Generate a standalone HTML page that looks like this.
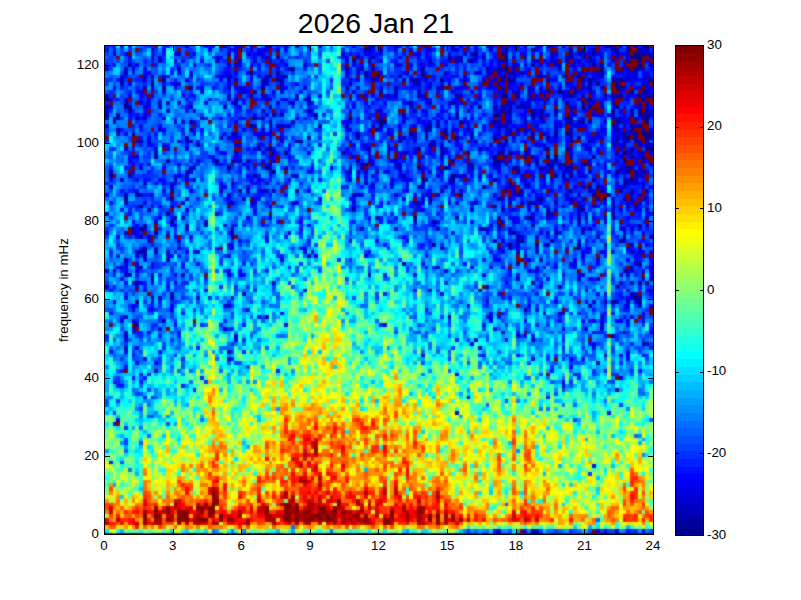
<!DOCTYPE html>
<html><head><meta charset="utf-8"><title>2026 Jan 21</title>
<style>
html,body{margin:0;padding:0;background:#fff}
body{width:801px;height:600px;position:relative;overflow:hidden;font-family:"Liberation Sans",sans-serif;color:#000}
.t{position:absolute;left:0;width:752px;top:6.5px;text-align:center;font-size:28.4px;line-height:32px;white-space:nowrap}
.box{position:absolute;border:1px solid #000;box-sizing:border-box}
.xl{position:absolute;top:538px;width:40px;text-align:center;font-size:13.3px;line-height:16px}
.yl{position:absolute;left:40px;width:59px;text-align:right;font-size:13.3px;line-height:16px}
.cl{position:absolute;left:707px;width:60px;text-align:left;font-size:13.3px;line-height:16px}
.tk{position:absolute;background:#000}
.ylab{position:absolute;left:64px;top:290px;width:0;height:0}
.ylab span{position:absolute;left:-100px;top:-8px;width:200px;height:16px;line-height:16px;text-align:center;font-size:13.35px;transform:rotate(-90deg);white-space:nowrap}
</style></head><body>
<div class="t">2026 Jan 21</div>
<svg style="position:absolute;left:105px;top:46px" width="548" height="488" shape-rendering="crispEdges"><defs><filter id="bl" x="0" y="0" width="100%" height="100%" color-interpolation-filters="sRGB"><feGaussianBlur stdDeviation="0.8" edgeMode="duplicate"/></filter></defs><g id="hm" transform="scale(3.80556,3.82031) translate(0,0)" fill="none" stroke-width="1"><path stroke="#00008f" d="M33 128h1M45 128h1M78 128h1M114 128h1M117 128h1M130 128h1M134 128h2M131 81h1M110 69h1M8 67h1M133 67h1M140 67h1M139 66h1M112 62h1M142 62h1M12 60h1M136 59h1M16 56h1M10 54h1M86 52h1M106 52h1M113 52h1M131 52h1M109 51h1M135 51h1M9 48h1M18 45h1M71 45h1M92 45h1M111 45h1M126 45h1M133 45h1M16 44h1M125 43h1M9 42h1M5 40h1M8 39h1M93 39h1M128 39h1M132 39h1M50 38h1M88 38h1M136 36h1M83 35h1M128 35h1M136 35h1M1 34h1M78 34h1M91 34h1M122 34h1M44 33h1M108 33h1M134 33h1M32 32h1M82 32h1M89 32h1M96 32h1M117 32h1M90 31h1M102 31h1M126 31h1M33 30h1M118 30h1M13 29h1M102 29h1M118 29h1M128 29h1M47 28h1M95 28h1M43 27h1M82 27h1M115 27h1M142 27h2M50 25h1M112 24h1M137 24h1M142 24h1M80 23h1M89 23h1M118 23h1M136 23h1M138 23h1M142 23h2M84 22h1M108 22h1M134 22h1M138 22h1M72 21h1M72 20h2M142 20h1M2 19h1M25 19h1M64 19h1M122 19h1M142 19h1M46 18h1M102 18h1M112 18h1M142 18h1M95 17h1M106 17h1M133 17h1M140 17h1M5 16h1M98 16h1M125 16h1M134 16h1M105 15h1M125 15h1M0 14h1M42 14h1M53 14h1M127 14h1M74 13h1M92 13h1M105 13h1M135 13h1M119 12h1M123 12h1M15 11h1M22 11h1M41 11h1M134 11h1M12 10h1M127 10h1M129 10h1M88 9h1M106 9h1M133 9h1M135 9h1M120 8h1M38 7h1M45 7h1M68 7h1M49 6h1M105 6h1M130 6h1M128 5h1M130 5h1M140 5h1M69 4h1M90 3h1M105 3h1M122 3h1M127 3h1M139 2h2M112 1h1M42 0h2M50 0h1M91 0h1M120 0h1M133 0h1M142 0h1"/><path stroke="#00009f" d="M4 128h1M7 128h1M22 128h2M42 128h1M53 128h1M67 128h1M83 128h1M112 128h1M120 128h1M112 127h1M95 92h1M90 71h1M127 68h1M131 67h1M14 66h1M17 66h1M85 64h1M119 63h1M8 62h1M140 62h1M9 58h1M108 57h1M9 54h1M88 53h1M116 52h1M124 52h1M136 50h1M143 50h1M13 49h1M33 49h1M107 49h1M118 49h1M99 48h1M125 48h1M10 47h1M26 47h1M140 47h1M81 45h1M116 44h1M11 43h1M65 43h1M116 43h1M139 42h1M33 41h1M111 41h1M114 40h1M141 40h1M17 38h1M30 38h1M35 38h1M122 38h1M130 38h1M1 37h1M129 37h1M33 36h1M106 36h1M91 35h1M138 35h1M118 34h1M120 34h1M137 33h1M42 32h1M77 32h1M121 32h1M138 32h1M67 31h2M117 31h1M29 30h1M102 30h2M113 30h1M136 30h1M116 29h1M141 29h1M106 28h1M136 28h2M69 27h1M88 27h1M116 27h1M121 27h1M24 26h1M85 26h1M136 26h1M51 25h1M105 25h1M142 25h1M53 24h1M66 24h1M84 24h1M92 24h1M124 24h1M136 24h1M7 23h1M66 23h1M121 23h1M22 22h1M38 21h1M85 21h1M133 21h1M22 20h1M110 20h1M125 20h1M131 20h1M135 20h1M41 19h1M141 19h1M0 18h1M3 18h1M55 18h1M114 18h1M140 18h1M6 17h1M104 17h1M112 17h1M114 17h1M118 17h1M6 16h1M31 16h1M80 16h1M102 16h1M108 16h1M5 15h1M91 15h1M121 15h1M133 15h1M141 14h1M38 13h1M104 13h1M122 13h1M140 13h1M72 12h1M138 12h1M141 12h1M76 11h1M135 11h1M82 10h1M45 9h1M70 9h1M81 9h1M127 9h1M143 9h1M12 8h1M47 8h1M71 8h1M83 8h1M104 8h1M124 8h1M130 7h1M5 6h1M83 6h1M139 6h1M112 5h1M65 4h1M95 4h2M140 4h1M12 3h1M70 3h1M138 3h3M97 2h1M104 2h2M128 2h1M142 2h1M68 1h1M105 1h1M122 1h1M125 1h1M70 0h1M100 0h1M110 0h1M113 0h1M132 0h1M141 0h1"/><path stroke="#0000af" d="M30 128h1M66 128h1M100 128h1M111 128h1M119 128h1M136 128h1M139 128h1M113 127h1M3 98h1M13 85h1M32 80h1M5 79h1M141 78h2M108 76h1M136 75h1M8 73h1M15 72h1M42 71h1M33 66h1M140 66h1M17 65h1M36 65h1M98 64h1M126 64h1M134 63h1M135 62h1M138 62h1M87 58h1M138 58h1M143 58h1M78 57h1M140 57h1M5 56h1M114 56h1M53 55h1M13 54h1M117 51h1M9 50h1M33 50h1M108 50h1M129 50h1M10 48h1M67 48h1M87 48h1M103 47h1M112 47h1M17 46h1M86 46h1M124 45h1M104 43h1M142 43h1M102 42h1M124 42h1M133 42h1M137 42h1M106 41h1M112 41h1M17 40h1M85 40h1M103 40h1M122 40h1M131 40h1M5 39h1M32 39h1M65 39h1M108 39h1M99 37h1M83 36h1M137 36h1M18 35h1M102 35h1M6 34h1M1 33h1M7 33h1M64 33h1M116 33h1M141 33h1M43 32h1M64 32h1M107 32h1M114 32h1M113 31h1M119 31h2M127 31h1M16 30h1M35 30h1M66 30h1M69 30h1M138 29h1M13 28h1M34 28h1M62 28h1M88 28h1M104 28h1M40 27h1M98 27h1M138 27h1M133 26h1M142 26h1M9 25h1M137 25h1M139 25h1M21 24h1M30 24h1M78 24h1M81 24h1M102 24h1M116 24h1M96 23h1M112 23h1M122 23h1M139 23h1M141 23h1M3 22h1M141 22h1M63 21h1M87 21h1M105 21h1M138 21h1M140 21h1M2 20h1M43 20h1M49 20h1M93 20h1M102 20h1M106 20h1M122 20h1M124 20h1M127 20h1M134 20h1M8 19h1M10 19h1M72 19h1M112 19h1M44 18h1M92 18h1M103 18h1M133 18h1M138 18h1M141 18h1M41 17h1M53 17h1M81 17h1M138 17h1M142 17h1M43 16h1M111 16h1M127 16h1M130 16h1M34 15h1M34 14h1M84 14h1M0 13h1M82 13h1M93 13h1M108 13h1M131 13h1M142 13h1M39 12h1M111 12h1M114 12h1M116 12h1M142 12h1M10 11h1M63 11h1M88 11h1M127 11h1M4 10h1M46 10h1M64 10h1M134 10h1M12 9h1M15 9h1M41 9h1M107 9h1M125 9h1M68 8h1M77 8h1M114 8h1M130 8h1M79 7h1M83 7h1M107 7h1M125 7h1M100 6h1M104 6h1M6 5h1M104 4h2M42 3h1M45 3h1M66 3h1M93 3h1M96 2h1M118 2h1M69 1h1M134 1h1M137 1h1M31 0h1M69 0h1M76 0h1"/><path stroke="#0000bf" d="M0 128h1M25 128h1M44 128h1M60 128h1M76 128h1M79 128h1M131 128h1M103 127h1M131 127h1M92 96h1M134 90h1M129 83h1M83 81h1M135 81h1M98 79h1M5 76h1M133 76h1M5 75h1M7 75h1M126 74h1M130 73h1M5 71h1M141 70h1M137 67h1M24 66h1M138 66h1M138 65h1M0 63h1M100 63h1M7 62h1M12 61h1M124 61h1M129 61h1M143 61h1M5 60h2M69 60h1M99 60h1M2 59h1M137 59h1M141 59h1M139 57h1M46 56h1M110 55h1M8 54h1M113 54h1M13 53h1M106 53h1M124 53h1M138 52h1M102 51h1M108 51h1M5 49h1M138 48h1M21 47h1M142 47h1M26 46h1M124 46h1M131 46h1M20 45h1M103 45h1M29 44h1M133 44h1M5 41h1M20 41h1M38 41h1M81 41h1M118 41h1M78 40h1M125 40h1M129 40h1M138 40h1M84 39h1M109 39h1M121 39h1M37 38h1M41 38h1M109 38h1M135 38h1M138 38h1M106 37h1M125 37h1M127 37h1M10 36h1M68 36h1M134 36h1M139 36h1M4 35h1M64 35h1M75 35h1M90 35h1M39 34h1M49 34h1M98 34h1M139 34h2M21 33h1M43 33h1M66 33h1M71 33h1M122 33h1M135 33h1M139 33h1M22 32h2M67 32h1M95 32h1M122 32h1M76 31h1M96 31h1M116 31h1M125 31h1M37 30h1M134 30h1M69 29h1M110 29h1M74 28h1M103 28h1M134 28h1M138 28h1M140 28h1M42 27h1M100 27h1M40 26h1M74 26h1M113 26h1M22 25h1M77 25h1M86 25h1M90 25h1M97 25h1M134 25h1M140 25h1M122 24h1M134 24h1M139 24h1M3 23h1M33 23h2M74 23h1M105 23h1M115 23h1M71 22h1M85 22h1M105 22h2M110 22h1M39 21h1M43 21h1M45 21h1M84 21h1M0 19h1M69 19h1M114 19h1M121 19h1M135 19h1M78 18h1M143 18h1M0 16h1M104 16h1M106 16h1M109 16h1M140 16h1M109 15h1M140 15h1M142 15h1M32 14h1M111 14h2M32 13h1M41 13h1M125 13h1M133 13h2M143 13h1M108 12h1M52 11h1M87 11h1M92 11h1M104 11h1M111 11h2M119 11h1M136 11h1M125 10h1M4 9h1M42 9h1M46 9h1M80 9h1M84 9h1M104 9h1M116 9h1M128 9h1M137 9h1M142 9h1M4 8h1M32 8h1M105 8h1M121 8h1M89 7h1M19 6h1M48 6h1M63 6h1M66 6h1M70 6h1M103 6h1M119 6h1M141 6h1M32 5h1M105 5h1M110 5h1M14 4h1M93 4h1M127 4h1M97 3h1M99 3h1M110 3h1M125 3h1M143 3h1M19 2h1M62 2h1M125 2h1M72 1h1M80 1h1M133 1h1M140 1h1M21 0h1M56 0h1M101 0h1M104 0h1M116 0h1M131 0h1M139 0h1"/><path stroke="#0000cf" d="M9 128h1M15 128h1M34 128h1M37 128h1M40 128h1M49 128h1M63 128h1M80 128h1M99 128h1M113 128h1M128 128h1M129 127h1M120 89h1M123 86h1M32 82h1M97 77h1M112 77h1M34 76h1M104 75h1M14 74h1M31 74h1M130 74h1M4 72h1M100 71h1M115 70h1M119 70h2M31 68h2M137 68h1M140 68h1M2 67h1M128 67h1M134 67h1M5 66h1M12 66h1M88 65h1M131 65h1M114 63h1M44 62h1M108 61h1M141 61h1M20 60h1M125 60h1M135 60h1M113 59h1M8 58h1M113 58h1M118 58h1M12 57h1M123 57h1M10 56h1M111 56h1M16 54h1M54 54h1M108 54h1M130 54h1M138 54h1M140 54h2M10 53h1M103 53h1M113 53h1M137 53h1M32 52h1M108 52h1M79 51h1M11 50h1M7 49h1M116 49h1M136 49h1M7 48h1M76 48h1M127 48h1M136 48h1M31 47h1M101 47h1M81 46h1M112 45h1M116 45h1M131 45h1M117 44h1M124 44h1M96 43h1M133 43h1M12 42h1M43 42h1M65 41h1M82 41h1M90 41h1M109 41h1M131 41h1M21 40h1M36 40h1M83 40h1M113 40h1M136 40h1M9 39h1M67 39h1M102 39h1M42 38h1M44 38h1M93 38h1M127 38h1M142 38h1M17 37h1M37 37h1M82 37h1M89 37h1M136 37h1M42 36h1M70 36h1M91 36h1M138 36h1M141 36h1M23 35h1M40 35h1M121 35h1M139 35h1M87 34h1M92 34h3M115 34h1M126 34h1M22 33h1M68 33h1M124 33h1M127 33h1M142 33h1M9 32h1M47 32h1M108 32h1M136 32h2M19 31h1M43 31h1M111 31h1M143 31h1M28 30h1M91 30h1M104 30h1M141 30h1M8 29h1M88 29h1M112 29h1M122 29h1M135 29h1M44 28h1M69 28h1M78 28h1M110 28h1M141 28h1M5 27h1M74 27h1M126 27h2M86 26h1M115 26h1M140 26h1M8 25h1M19 25h1M21 25h1M46 25h1M117 25h1M127 25h1M133 25h1M40 24h1M77 24h1M96 24h1M143 24h1M84 23h1M106 23h1M135 23h1M137 23h1M89 22h1M95 22h1M122 22h1M131 22h1M46 21h1M56 21h1M95 21h1M118 21h1M123 21h1M134 21h1M136 21h1M139 21h1M18 20h1M62 20h1M103 20h1M121 20h1M3 19h1M39 19h1M90 19h1M92 19h1M110 19h1M133 19h1M23 17h1M72 17h1M103 17h1M122 17h1M128 17h1M14 16h1M22 16h1M110 16h1M122 16h1M142 16h1M14 15h1M16 15h1M49 15h1M53 15h1M79 15h2M85 15h1M115 15h1M118 15h1M5 14h1M50 14h1M76 13h1M121 13h1M36 12h1M76 12h1M82 12h1M91 12h1M104 12h1M120 12h1M127 12h1M12 11h1M32 11h1M36 11h1M46 11h1M66 11h1M123 11h1M130 11h1M41 10h2M81 10h1M103 10h1M141 10h1M21 9h1M32 9h1M34 9h1M78 9h1M134 9h1M16 8h1M42 8h1M63 8h1M91 8h1M100 8h1M139 8h1M142 8h1M5 7h1M63 7h1M101 7h1M106 7h1M109 7h1M129 7h1M0 6h1M107 6h1M140 6h1M35 5h1M52 5h1M77 5h1M119 5h1M122 5h1M18 4h1M29 4h1M35 4h1M72 4h1M85 4h1M92 4h1M115 4h1M118 4h1M121 4h1M124 4h1M14 3h1M63 3h1M92 3h1M117 3h1M121 3h1M137 3h1M2 2h1M23 2h1M32 2h1M40 2h1M122 2h1M134 2h1M137 2h1M141 2h1M143 2h1M12 1h1M101 1h1M128 1h1M142 1h1M38 0h1M88 0h1"/><path stroke="#0000df" d="M13 128h1M46 128h1M55 128h1M75 128h1M92 128h1M95 128h1M103 128h1M105 128h1M121 128h1M124 128h1M132 128h1M138 128h1M142 128h1M134 127h1M135 87h1M137 81h1M5 80h1M128 79h1M5 77h1M34 77h1M11 75h1M120 74h1M47 73h1M7 72h1M110 72h1M128 72h1M137 72h1M101 71h1M130 71h1M138 71h1M20 70h1M7 69h1M84 69h1M113 69h1M7 68h1M139 67h1M26 64h1M52 64h1M143 64h1M8 63h1M18 62h1M120 60h1M0 59h1M8 59h1M89 59h1M4 58h1M123 58h1M5 57h1M103 56h1M139 56h1M8 55h1M10 55h1M68 55h1M125 55h1M24 54h1M104 54h1M19 53h1M33 53h1M52 53h1M11 51h1M136 51h1M22 50h1M109 50h1M48 49h1M106 49h1M114 49h1M125 49h1M21 48h1M33 48h1M100 48h1M103 48h1M106 48h1M135 48h1M140 48h1M120 47h1M137 47h1M13 46h1M107 46h1M106 45h1M128 45h1M142 45h1M0 44h1M143 44h1M21 43h1M82 43h1M107 43h1M111 43h1M124 43h1M125 42h1M39 41h1M49 41h1M85 41h1M97 41h1M114 41h1M133 41h1M142 41h1M133 40h1M12 39h1M66 39h1M76 39h1M138 39h1M140 39h1M105 38h1M70 37h1M79 37h1M83 37h1M110 37h2M123 37h1M130 37h1M143 37h1M18 36h1M39 36h1M115 36h1M21 35h1M38 35h1M80 35h1M109 35h2M117 35h1M120 35h1M21 34h1M125 34h1M141 34h1M83 33h1M88 33h1M120 33h1M140 33h1M37 32h1M59 32h1M103 32h1M131 32h1M135 32h1M140 32h1M11 31h1M36 31h1M70 31h1M77 31h1M103 31h1M122 31h1M136 31h1M24 30h1M127 30h1M43 29h1M140 29h1M79 28h1M85 28h1M111 28h1M122 28h1M21 27h1M39 27h1M93 27h1M122 27h1M135 27h1M34 26h1M68 26h1M88 26h1M104 26h1M126 26h1M135 26h1M143 26h1M11 25h1M64 25h1M122 25h1M32 24h1M34 24h1M46 24h1M107 24h1M118 24h1M128 24h1M41 23h1M43 23h1M81 23h1M103 23h1M110 23h1M131 23h1M14 22h1M41 22h1M63 22h1M91 22h1M99 22h1M103 22h1M111 22h1M118 22h1M130 22h1M0 21h1M9 21h1M48 21h1M70 21h1M102 21h3M113 21h1M87 20h1M40 19h1M82 19h1M125 19h1M134 19h1M136 19h1M139 19h1M10 18h1M105 18h2M118 18h1M129 18h2M132 18h1M136 18h1M16 17h1M71 17h1M84 17h1M102 17h1M126 17h1M135 17h1M10 16h1M92 16h1M11 15h1M26 15h1M48 15h1M90 15h1M106 15h1M111 15h1M127 15h2M1 14h1M52 14h1M64 14h1M71 14h1M116 14h1M120 14h1M50 13h1M53 13h1M56 13h1M83 13h1M120 13h1M123 13h1M137 13h1M141 13h1M15 12h1M25 12h1M103 12h1M121 12h1M85 11h1M106 11h1M125 11h1M140 11h1M142 11h2M18 10h1M88 10h1M90 10h1M101 10h1M106 10h1M109 10h1M121 10h1M10 9h1M64 9h1M94 9h1M101 9h1M118 9h1M10 8h1M15 8h1M22 8h1M30 8h1M33 8h1M43 8h1M46 8h1M115 8h1M129 8h1M137 8h1M11 7h1M72 7h1M97 7h2M103 7h1M135 7h1M138 7h2M142 7h1M7 6h1M67 6h1M102 6h1M123 6h1M136 6h2M23 5h1M76 5h1M83 5h1M85 5h1M107 5h2M123 5h1M125 5h1M136 5h1M143 5h1M39 4h1M63 4h1M90 4h1M103 4h1M112 4h2M117 4h1M133 4h1M137 4h1M142 4h1M41 3h1M107 3h1M130 3h1M5 2h1M12 2h1M18 2h1M37 2h1M64 2h1M72 2h1M84 2h1M94 2h1M109 2h1M124 2h1M127 2h1M135 2h1M45 1h1M76 1h1M92 1h1M97 1h1M141 1h1M26 0h1M28 0h1M79 0h1M84 0h1M114 0h1M117 0h1M137 0h1"/><path stroke="#0000ef" d="M6 128h1M21 128h1M54 128h1M58 128h1M71 128h1M96 128h1M108 128h1M127 128h1M143 128h1M141 127h1M132 96h1M11 86h1M92 86h1M122 84h1M13 83h1M112 82h1M122 82h1M125 82h1M137 82h1M99 81h1M96 78h1M105 77h1M110 76h1M128 75h1M7 74h1M102 74h1M125 72h1M135 72h1M40 71h1M46 70h1M101 70h1M95 68h1M12 67h1M139 65h1M1 64h1M10 64h1M137 64h1M142 64h1M16 63h1M5 62h1M9 62h1M12 62h1M127 61h1M18 60h1M32 60h1M124 60h1M143 60h1M5 59h1M32 59h1M111 59h1M143 59h1M5 58h1M12 58h1M104 58h1M8 57h1M24 57h1M143 57h1M102 56h1M129 56h1M16 55h1M55 55h1M139 55h1M52 54h1M133 54h1M143 54h1M51 53h1M108 53h1M121 53h1M140 53h1M142 52h1M19 51h1M42 51h1M64 51h1M104 51h1M124 51h1M3 50h1M18 50h1M113 50h1M141 49h1M98 48h1M118 48h1M17 47h2M33 47h1M7 46h1M45 46h1M104 46h1M37 45h1M107 45h1M110 45h1M137 45h1M112 44h1M142 44h1M39 43h1M83 43h1M113 43h1M118 43h1M135 43h1M139 43h2M17 42h1M82 42h1M120 42h1M128 42h2M1 41h1M10 41h1M32 41h1M50 41h1M72 41h1M74 41h1M83 41h1M92 41h1M96 41h1M122 41h1M124 41h1M137 41h1M56 40h1M104 40h1M142 40h1M87 39h1M124 39h1M8 38h1M22 38h1M40 38h1M53 38h1M91 38h1M107 38h1M112 38h1M117 38h1M128 38h1M131 38h1M30 37h2M33 37h1M107 37h1M135 37h1M141 37h1M13 36h1M17 36h1M30 36h1M75 36h1M79 36h1M110 36h1M8 35h1M68 35h1M115 35h1M137 35h1M18 34h2M50 34h1M68 34h1M70 34h1M96 34h1M109 34h1M124 34h1M136 34h1M53 33h1M63 33h1M74 33h1M85 33h1M95 33h1M103 33h1M114 33h1M132 33h1M136 33h1M5 32h1M83 32h1M90 32h1M115 32h2M119 32h1M7 31h1M29 31h1M95 31h1M129 31h1M131 31h1M6 30h1M34 30h1M44 30h1M75 30h2M117 30h1M139 30h1M28 29h1M48 29h1M105 29h1M30 28h1M41 28h1M53 28h1M81 28h1M89 28h1M16 27h1M29 27h1M44 27h1M68 27h1M81 27h1M89 27h1M104 27h1M15 26h1M48 26h1M101 26h1M105 26h1M121 26h1M125 26h1M134 26h1M141 26h1M81 25h1M92 25h1M128 25h1M136 25h1M11 24h1M130 24h1M135 24h1M23 23h1M40 23h1M94 23h1M129 23h1M43 22h1M64 22h1M69 22h1M74 22h1M143 22h1M47 21h1M77 21h1M119 21h1M122 21h1M20 20h1M23 20h1M64 20h1M82 20h2M85 20h1M94 20h2M118 20h1M30 19h1M50 19h1M78 19h2M94 19h1M106 19h1M137 19h1M42 18h1M72 18h2M84 18h1M87 18h1M109 18h1M116 18h1M122 18h1M0 17h1M92 17h1M105 17h1M1 16h1M65 16h1M105 16h1M123 16h1M9 15h1M45 15h1M54 15h1M73 15h1M93 15h1M97 15h1M107 15h1M130 15h1M11 14h1M47 14h1M92 14h1M98 14h1M124 14h1M126 14h1M133 14h1M137 14h1M6 13h1M23 13h1M68 13h1M75 13h1M111 13h1M138 13h2M9 12h1M35 12h1M44 12h1M46 12h1M96 12h1M107 12h1M112 12h1M135 12h1M2 11h1M18 11h1M25 11h1M28 11h1M34 11h2M72 11h1M93 11h1M122 11h1M126 11h1M6 10h1M19 10h1M85 10h1M107 10h1M138 10h1M142 10h1M38 9h1M66 9h1M82 9h1M99 9h1M102 9h1M117 9h1M136 9h1M140 9h2M31 8h1M38 8h1M40 8h1M75 8h1M94 8h1M136 8h1M141 8h1M22 7h1M32 7h1M66 7h1M78 7h1M100 7h1M126 7h1M128 7h1M134 7h1M137 7h1M101 6h1M111 6h1M2 5h1M8 5h1M34 5h1M38 5h1M47 5h1M65 5h1M67 5h1M80 5h1M82 5h1M114 5h1M118 5h1M20 4h1M46 4h1M123 4h1M6 3h1M29 3h2M34 3h1M39 3h1M62 3h1M82 3h1M134 3h1M68 2h2M82 2h1M90 2h1M114 2h1M117 2h1M126 2h1M130 2h1M133 2h1M136 2h1M34 1h1M38 1h1M42 1h1M47 1h1M84 1h1M91 1h1M4 0h1M47 0h1M93 0h1M97 0h1"/><path stroke="#0000ff" d="M3 128h1M12 128h1M14 128h1M32 128h1M39 128h1M43 128h1M56 128h1M68 128h1M74 128h1M89 128h2M97 128h1M104 128h1M109 128h1M102 127h1M110 127h1M137 127h1M128 110h1M2 99h1M23 90h1M2 88h1M120 88h1M7 87h1M117 85h1M8 83h1M10 82h1M7 81h1M141 81h1M1 80h1M14 80h1M137 80h1M8 79h1M128 78h1M143 75h1M18 73h1M73 73h1M137 73h1M101 72h1M119 72h1M130 72h1M134 72h1M141 72h1M103 71h1M131 70h1M11 69h1M17 69h1M136 69h1M17 68h1M111 68h1M143 68h1M100 67h1M118 67h1M126 67h1M137 66h1M103 65h1M129 65h1M143 65h1M105 62h1M4 61h1M35 60h2M81 60h1M108 60h1M137 60h1M35 59h1M138 59h1M3 58h1M20 58h1M84 58h1M96 58h1M101 58h1M115 58h1M20 57h1M83 57h1M94 57h1M122 57h1M129 57h1M123 56h1M125 56h1M137 56h1M143 56h1M17 55h1M32 55h1M84 55h1M102 55h1M131 55h1M21 54h1M23 54h1M69 54h1M125 54h2M131 54h1M137 54h1M126 53h2M33 52h1M115 52h1M71 51h1M126 51h1M8 50h1M78 50h1M8 49h1M32 49h1M100 49h1M119 49h1M133 49h1M51 48h1M8 47h1M53 47h1M86 47h1M124 47h1M128 47h1M139 47h1M51 46h1M72 46h1M87 46h1M96 46h1M108 46h1M112 46h1M14 45h1M43 45h1M69 45h1M108 45h1M117 45h1M126 44h1M131 43h1M65 42h1M104 42h1M111 42h1M115 42h1M113 41h1M138 41h1M140 41h1M32 40h1M39 40h1M64 40h1M106 40h1M121 40h1M123 40h1M0 39h1M81 39h1M85 39h1M107 39h1M113 39h2M79 38h1M85 38h1M75 37h1M105 37h1M115 37h1M119 37h1M134 37h1M15 36h1M90 36h1M111 36h1M125 36h1M140 36h1M1 35h1M14 35h1M48 35h1M78 35h2M84 35h1M37 34h1M43 34h1M66 34h1M77 34h1M101 34h1M105 34h1M112 34h1M131 34h1M134 34h1M73 33h1M77 33h1M79 33h1M110 33h2M115 33h1M121 33h1M15 32h1M54 32h1M76 32h1M87 32h1M102 32h1M9 31h1M30 31h1M105 31h1M139 31h2M41 30h1M70 30h1M82 30h1M94 30h1M106 30h1M142 30h1M6 29h2M34 29h1M44 29h1M65 29h1M77 29h1M83 29h1M90 29h1M113 29h1M31 28h1M101 28h1M107 28h2M129 28h1M143 28h1M13 27h1M48 27h1M63 27h1M75 27h2M85 27h1M111 27h1M129 27h1M11 26h2M35 26h1M65 26h1M92 26h1M103 26h1M114 26h1M43 25h1M109 25h2M118 25h1M121 25h1M33 24h1M35 24h1M43 24h1M63 24h1M88 24h1M127 24h1M129 24h1M133 24h1M5 23h1M39 23h1M42 23h1M75 23h1M102 23h1M108 23h1M133 23h2M15 22h1M36 22h1M72 22h1M77 22h1M92 22h1M133 22h1M135 22h1M14 21h1M81 21h1M107 21h1M109 21h2M124 21h3M34 20h1M63 20h1M78 20h1M89 20h1M101 20h1M105 20h1M114 20h2M119 20h1M136 20h2M9 19h1M15 19h1M26 19h1M35 19h2M52 19h1M88 19h1M96 19h1M105 19h1M39 18h1M54 18h1M99 18h1M110 18h1M113 18h1M123 18h1M128 18h1M54 17h1M64 17h1M83 17h1M88 17h1M110 17h1M113 17h1M125 17h1M143 17h1M11 16h1M35 16h1M69 16h1M88 16h1M96 16h1M133 16h1M136 16h1M139 16h1M19 15h1M33 15h1M65 15h1M68 15h1M70 15h1M84 15h1M92 15h1M102 15h1M110 15h1M3 14h1M9 14h1M43 14h1M46 14h1M95 14h1M113 14h2M131 14h1M9 13h1M12 13h1M20 13h1M42 13h1M66 13h1M70 13h1M73 13h1M98 13h1M113 13h1M115 13h1M37 12h1M65 12h1M115 12h1M124 12h1M128 12h1M143 12h1M47 11h1M84 11h1M94 11h1M101 11h2M108 11h1M114 11h1M139 11h1M32 10h1M50 10h1M104 10h1M122 10h1M18 9h1M30 9h1M71 9h1M90 9h1M95 9h1M138 9h2M29 8h1M45 8h1M92 8h1M103 8h1M106 8h2M113 8h1M128 8h1M133 8h1M138 8h1M10 7h1M19 7h1M31 7h1M34 7h1M37 7h1M104 7h1M108 7h1M110 7h1M114 7h1M124 7h1M141 7h1M10 6h1M45 6h1M143 6h1M89 5h1M101 5h1M103 5h1M116 5h1M132 5h1M25 4h1M43 4h1M97 4h1M101 4h1M126 4h1M128 4h1M77 3h1M84 3h2M102 3h1M34 2h1M39 2h1M41 2h1M81 2h1M110 2h1M129 2h1M2 1h1M15 1h1M27 1h1M32 1h1M40 1h2M70 1h1M85 1h1M110 1h1M113 1h1M2 0h1M6 0h1M34 0h2M53 0h1M65 0h1M77 0h1M107 0h1M135 0h1"/><path stroke="#0010ff" d="M5 128h1M28 128h1M38 128h1M51 128h1M65 128h1M72 128h1M86 128h1M106 128h1M122 128h1M1 109h1M10 92h1M116 92h1M3 89h2M9 88h1M10 87h1M9 86h1M45 85h1M131 85h1M140 85h1M5 84h1M33 82h1M108 81h1M36 80h1M24 79h1M120 79h1M143 79h1M127 78h1M138 78h1M92 77h1M120 77h1M112 76h1M9 75h1M19 75h1M108 75h1M129 75h2M143 74h1M36 73h1M99 73h1M113 73h1M8 72h1M127 72h1M136 71h1M141 71h1M1 70h1M104 70h1M124 70h1M133 70h1M12 69h1M37 69h1M128 69h1M137 69h1M8 68h1M12 68h1M136 68h1M27 66h1M106 66h1M135 66h1M113 65h1M135 65h1M81 64h1M2 63h1M140 63h1M10 62h1M114 62h1M116 61h1M128 61h1M2 60h1M8 60h1M14 60h1M73 60h1M106 60h1M106 59h1M112 59h1M48 58h1M128 58h1M142 58h1M36 57h1M118 57h1M140 56h1M3 55h1M19 55h1M140 55h1M1 54h1M101 54h1M103 54h1M139 54h1M9 53h1M29 53h1M32 53h1M74 53h1M104 53h1M131 53h1M138 53h1M73 52h1M83 52h1M105 52h1M126 52h1M35 51h1M53 51h1M141 51h1M42 50h1M47 50h1M103 50h1M116 50h1M118 50h1M0 49h1M16 49h1M91 49h1M108 49h1M129 49h1M138 49h1M8 48h1M142 48h1M41 47h1M138 47h1M74 46h1M122 46h1M126 46h1M17 45h1M51 45h1M72 45h1M76 45h1M120 45h1M122 45h1M6 44h1M39 44h1M75 44h1M87 44h1M122 44h1M140 44h1M106 43h1M137 43h1M8 42h1M14 42h1M38 42h2M71 42h2M80 42h1M116 42h1M118 42h1M140 42h1M42 41h1M80 41h1M125 41h1M135 41h1M40 40h1M65 40h1M107 40h1M115 40h1M118 40h1M139 40h1M10 39h2M40 39h1M43 39h1M47 39h1M70 39h1M83 39h1M91 39h1M111 39h1M116 39h1M136 39h1M142 39h1M4 38h1M7 38h1M15 38h1M78 38h1M121 38h1M139 38h1M46 37h1M69 37h1M91 37h1M114 37h1M131 37h1M137 37h1M140 37h1M38 36h1M40 36h1M47 36h1M103 36h1M117 36h1M120 36h1M129 36h1M10 35h2M15 35h1M41 35h1M56 35h1M71 35h1M95 35h1M98 35h1M101 35h1M103 35h1M112 35h1M114 35h1M123 35h1M141 35h1M38 34h1M40 34h1M63 34h2M128 34h1M133 34h1M11 33h1M35 33h1M96 33h1M112 33h1M125 33h1M131 33h1M39 32h1M71 32h1M84 32h1M98 32h1M120 32h1M124 32h2M42 31h1M54 31h1M88 31h1M101 31h1M134 31h2M78 30h1M88 30h1M27 29h1M35 29h1M80 29h1M86 29h1M101 29h1M134 29h1M137 29h1M139 29h1M63 28h2M77 28h1M84 28h1M86 28h1M92 28h1M127 28h1M139 28h1M37 27h1M99 27h1M103 27h1M133 27h1M137 27h1M139 27h1M16 26h1M21 26h1M41 26h1M45 26h1M56 26h1M67 26h1M69 26h1M93 26h1M127 26h1M130 26h1M24 25h1M72 25h1M79 25h1M96 25h1M107 25h1M116 25h1M9 24h1M49 24h1M70 24h1M80 24h1M93 24h1M103 24h1M117 24h1M121 24h1M126 24h1M13 23h1M31 23h1M46 23h1M98 23h1M116 23h1M127 23h1M130 23h1M4 22h1M9 22h1M23 22h1M25 22h1M45 22h1M75 22h1M88 22h1M94 22h1M96 22h1M113 22h2M126 22h1M137 22h1M80 21h1M83 21h1M99 21h1M106 21h1M108 21h1M112 21h1M130 21h1M71 20h1M84 20h1M112 20h2M6 19h1M55 19h1M66 19h1M86 19h1M91 19h1M98 19h1M103 19h1M109 19h1M120 19h1M131 19h1M140 19h1M6 18h3M11 18h1M14 18h1M57 18h1M70 18h1M90 18h1M115 18h1M135 18h1M10 17h1M21 17h1M37 17h1M68 17h1M89 17h1M115 17h1M21 16h1M34 16h1M90 16h1M143 16h1M22 15h1M36 15h1M78 15h1M113 15h1M21 14h1M27 14h1M36 14h1M39 14h1M41 14h1M66 14h1M74 14h3M83 14h1M85 14h1M88 14h1M91 14h1M102 14h1M106 14h1M108 14h2M118 14h1M128 14h3M136 14h1M22 13h1M34 13h1M103 13h1M128 13h1M8 12h1M51 12h1M63 12h1M87 12h1M98 12h1M102 12h1M118 12h1M125 12h1M136 12h1M24 11h1M37 11h2M79 11h4M98 11h1M100 11h1M107 11h1M117 11h1M15 10h1M17 10h1M84 10h1M119 10h1M3 9h1M59 9h1M68 9h2M76 9h1M83 9h1M86 9h1M89 9h1M93 9h1M126 9h1M129 9h1M5 8h1M69 8h1M73 8h1M80 8h1M82 8h1M86 8h1M89 8h1M108 8h1M111 8h1M118 8h1M123 8h1M126 8h1M134 8h1M143 8h1M17 7h1M69 7h1M90 7h1M116 7h1M127 7h1M136 7h1M31 6h2M40 6h1M82 6h1M92 6h1M13 5h1M40 5h1M45 5h1M69 5h1M86 5h1M99 5h1M124 5h1M127 5h1M129 5h1M6 4h1M76 4h1M82 4h1M88 4h2M99 4h1M110 4h1M116 4h1M43 3h1M50 3h1M67 3h1M69 3h1M91 3h1M118 3h1M128 3h1M15 2h1M38 2h1M66 2h1M70 2h2M78 2h1M99 2h1M102 2h1M112 2h1M0 1h1M33 1h1M86 1h1M95 1h1M104 1h1M107 1h1M127 1h1M15 0h2M27 0h1M106 0h1M118 0h1"/><path stroke="#0020ff" d="M1 128h1M52 128h1M57 128h1M73 128h1M82 128h1M85 128h1M87 128h2M116 128h1M123 128h1M140 128h1M3 93h1M12 92h1M11 90h1M20 89h1M25 87h1M124 87h1M4 85h1M128 85h1M135 83h1M20 82h1M120 82h1M18 81h1M98 81h1M7 80h1M15 79h1M0 76h1M9 76h1M14 76h1M19 76h1M131 76h1M8 75h1M12 74h1M32 74h2M13 73h1M23 73h1M25 73h1M30 73h1M72 73h1M105 73h1M141 73h1M18 72h1M31 72h1M4 71h1M14 71h1M119 71h1M13 69h1M6 68h1M100 68h1M131 68h1M133 68h1M14 67h1M17 67h1M111 67h1M20 66h1M100 66h1M104 66h1M118 66h1M131 66h1M136 66h1M5 65h1M73 65h1M122 65h1M134 65h1M4 64h1M16 64h1M39 64h1M10 63h1M30 63h1M34 63h1M16 62h1M20 62h2M89 62h1M26 61h1M113 61h1M131 60h1M139 60h1M4 59h1M42 59h1M127 59h1M86 58h1M110 58h1M122 58h1M140 58h1M116 57h1M64 56h1M99 56h1M110 56h1M46 55h1M142 55h1M18 54h1M110 54h1M127 54h1M82 53h1M107 53h1M3 52h1M12 52h1M82 52h1M88 52h1M107 52h1M143 52h1M33 51h1M85 51h1M128 51h1M140 51h1M6 50h1M84 50h1M110 50h1M134 50h1M9 49h1M51 49h1M54 49h1M103 49h1M18 48h1M81 48h1M101 48h1M104 48h1M110 48h1M114 48h1M120 48h1M126 48h1M1 47h1M7 47h1M34 47h1M51 47h1M85 47h1M118 47h1M135 47h1M65 46h1M75 46h1M128 46h1M136 46h2M141 46h1M118 45h1M129 45h1M134 45h1M136 45h1M138 45h3M68 44h1M105 44h1M128 44h1M139 44h1M4 43h1M6 43h1M81 43h1M108 43h1M127 43h1M81 42h1M96 42h1M127 42h1M138 42h1M142 42h1M17 41h2M104 41h1M130 41h1M136 41h1M12 40h1M16 40h1M24 40h1M31 40h1M90 40h1M93 40h1M109 40h1M39 39h1M41 39h1M134 39h1M139 39h1M6 38h1M69 38h2M119 38h1M123 38h2M137 38h1M21 37h1M40 37h1M62 37h2M67 37h1M88 37h1M103 37h2M116 37h2M124 37h1M138 37h2M0 36h1M16 36h1M34 36h1M51 36h1M94 36h1M105 36h1M114 36h1M142 36h1M22 35h1M33 35h1M37 35h1M43 35h1M63 35h1M76 35h1M88 35h1M93 35h1M105 35h1M122 35h1M125 35h1M129 35h1M134 35h1M7 34h1M10 34h1M20 34h1M79 34h1M88 34h1M100 34h1M32 33h1M54 33h1M82 33h1M87 33h1M98 33h1M118 33h1M1 32h1M6 32h1M12 32h1M35 32h1M41 32h1M49 32h1M106 32h1M113 32h1M134 32h1M15 31h1M23 31h2M31 31h1M37 31h1M40 31h1M66 31h1M83 31h1M110 31h1M118 31h1M123 31h2M7 30h2M22 30h1M31 30h1M38 30h1M48 30h1M67 30h1M77 30h1M108 30h1M112 30h1M124 30h1M131 30h2M135 30h1M6 28h1M35 28h1M38 28h1M45 28h1M80 28h1M90 28h1M114 28h1M135 28h1M1 27h2M7 27h1M65 27h1M67 27h1M79 27h1M84 27h1M101 27h2M125 27h1M130 27h1M9 26h1M79 26h1M96 26h2M99 26h1M112 26h1M0 25h1M33 25h1M67 25h1M74 25h2M85 25h1M113 25h2M56 24h1M69 24h1M73 24h1M20 23h1M25 23h1M65 23h1M68 23h2M92 23h1M95 23h1M126 23h1M20 22h1M38 22h1M56 22h1M83 22h1M101 22h2M116 22h1M129 22h1M7 21h1M32 21h1M89 21h1M91 21h1M120 21h1M137 21h1M66 20h1M70 20h1M123 20h1M18 19h1M33 19h1M63 19h1M68 19h1M101 19h1M124 19h1M143 19h1M32 18h1M53 18h1M69 18h1M80 18h2M83 18h1M88 18h1M96 18h1M108 18h1M120 18h1M137 18h1M7 17h1M34 17h2M38 17h1M46 17h1M80 17h1M45 16h1M53 16h1M63 16h1M68 16h1M72 16h1M85 16h1M103 16h1M113 16h2M126 16h1M138 16h1M0 15h1M6 15h1M10 15h1M81 15h1M96 15h1M122 15h2M135 15h3M35 14h1M40 14h1M67 14h1M72 14h1M78 14h1M97 14h1M103 14h1M121 14h2M10 13h1M37 13h1M44 13h1M88 13h1M117 13h1M132 13h1M136 13h1M1 12h1M6 12h1M32 12h1M68 12h1M92 12h2M126 12h1M4 11h1M8 11h1M31 11h1M77 11h2M121 11h1M137 11h1M10 10h1M38 10h1M45 10h1M62 10h2M80 10h1M98 10h1M108 10h1M114 10h1M123 10h1M128 10h1M137 10h1M8 9h2M62 9h1M65 9h1M123 9h1M130 9h1M34 8h1M55 8h1M88 8h1M90 8h1M99 8h1M135 8h1M7 7h1M39 7h1M64 7h1M74 7h1M77 7h1M84 7h1M92 7h1M122 7h1M143 7h1M35 6h1M47 6h1M52 6h1M64 6h1M76 6h1M80 6h1M94 6h1M98 6h1M110 6h1M0 5h1M7 5h1M19 5h1M42 5h1M46 5h1M66 5h1M84 5h1M92 5h1M94 5h1M100 5h1M113 5h1M126 5h1M10 4h1M12 4h1M31 4h1M41 4h1M71 4h1M75 4h1M83 4h2M102 4h1M125 4h1M22 3h1M28 3h1M38 3h1M71 3h1M88 3h1M96 3h1M98 3h1M123 3h1M132 3h1M22 2h1M76 2h1M85 2h1M107 2h1M123 2h1M30 1h1M37 1h1M62 1h1M67 1h1M74 1h1M108 1h2M114 1h1M116 1h1M130 1h2M143 1h1M0 0h1M11 0h1M32 0h1M45 0h1M74 0h2M82 0h1M102 0h1M108 0h1M127 0h2M130 0h1M140 0h1"/><path stroke="#0030ff" d="M19 128h1M48 128h1M69 128h1M115 128h1M95 127h1M122 127h1M138 127h2M127 112h1M5 100h1M2 96h1M135 94h1M120 90h1M3 88h1M26 88h1M122 88h1M114 86h1M124 86h1M133 86h2M138 85h1M117 84h1M34 83h1M122 83h1M4 82h1M14 82h1M90 82h1M116 82h1M118 81h1M142 81h1M140 80h1M91 79h1M125 79h1M133 79h1M5 78h1M33 78h1M129 78h1M0 77h1M17 77h1M36 77h1M134 77h1M141 77h1M109 76h1M120 76h1M127 76h1M134 76h1M142 76h1M17 75h1M82 75h1M137 75h1M125 74h1M12 73h1M90 73h1M116 73h1M14 72h1M90 72h1M131 72h1M88 71h1M131 71h1M33 70h1M122 70h1M130 70h1M23 69h1M36 69h1M105 69h1M111 69h1M121 69h1M142 69h1M14 68h1M33 68h1M113 68h1M10 67h1M18 67h1M32 67h1M71 66h1M111 66h1M123 66h1M134 66h1M143 66h1M110 65h1M18 64h1M23 64h1M87 64h1M112 64h1M140 64h1M37 63h1M106 63h1M109 63h1M135 63h2M142 63h2M0 62h1M48 62h1M120 62h1M8 61h1M16 61h1M22 61h1M105 61h1M120 61h1M133 61h1M113 60h1M115 60h1M9 59h1M17 59h1M31 59h1M39 59h1M79 59h1M139 59h1M11 58h1M13 58h2M50 58h1M136 58h1M13 57h1M15 57h1M18 57h1M30 57h1M38 57h1M51 57h1M104 57h1M106 57h1M125 57h1M135 57h1M21 56h1M30 56h1M61 56h1M77 56h1M1 55h1M31 55h1M45 55h1M123 55h1M68 54h1M93 54h1M115 54h1M4 53h1M20 53h1M83 53h1M85 53h1M109 53h1M139 53h1M19 52h1M35 52h1M85 52h1M104 52h1M134 52h1M37 51h1M106 51h2M118 51h1M122 51h1M130 51h1M134 51h1M142 51h1M10 50h1M13 50h1M51 50h1M77 50h1M79 50h1M89 50h1M99 50h1M104 50h1M127 50h1M18 49h1M64 49h1M84 49h1M109 49h1M130 49h1M143 49h1M0 48h1M14 48h1M24 48h1M84 48h1M107 48h1M121 48h1M128 48h1M133 48h1M36 47h1M42 47h1M81 47h1M83 47h1M107 47h1M126 47h1M136 47h1M85 46h1M113 46h1M1 45h1M13 45h1M41 45h2M88 45h1M114 45h1M130 45h1M5 44h1M14 44h1M17 44h1M106 44h1M113 44h1M123 44h1M125 44h1M130 44h1M135 44h1M8 43h1M16 43h1M43 43h1M64 43h1M68 43h1M88 43h1M123 43h1M138 43h1M6 42h2M46 42h1M49 42h1M64 42h1M100 42h1M121 42h1M131 42h1M134 42h1M12 41h2M34 41h1M56 41h1M100 41h1M110 41h1M115 41h1M126 41h1M129 41h1M70 40h1M102 40h1M124 40h1M135 40h1M15 39h1M30 39h1M35 39h1M37 39h1M77 39h1M115 39h1M120 39h1M122 39h1M135 39h1M33 38h1M84 38h1M113 38h2M118 38h1M125 38h1M136 38h1M140 38h1M7 37h1M10 37h1M73 37h1M100 37h1M112 37h1M45 36h1M66 36h1M89 36h1M109 36h1M123 36h1M130 36h1M7 35h1M25 35h1M77 35h1M96 35h1M111 35h1M124 35h1M130 35h1M140 35h1M9 34h1M11 34h3M15 34h1M71 34h1M90 34h1M103 34h1M107 34h2M123 34h1M143 34h1M19 33h1M39 33h1M67 33h1M92 33h1M101 33h1M106 33h1M109 33h1M119 33h1M128 33h2M33 32h1M62 32h1M69 32h1M74 32h1M79 32h1M101 32h1M111 32h1M128 32h3M139 32h1M142 32h1M6 31h1M21 31h1M32 31h1M38 31h1M48 31h1M64 31h1M79 31h1M108 31h1M25 30h1M39 30h1M50 30h1M74 30h1M80 30h1M96 30h1M119 30h1M133 30h1M10 29h2M33 29h1M42 29h1M49 29h1M70 29h1M72 29h1M85 29h1M107 29h1M124 29h3M133 29h1M11 28h1M18 28h1M25 28h2M39 28h1M42 28h1M48 28h1M98 28h1M102 28h1M131 28h1M133 28h1M38 27h1M52 27h1M54 27h1M61 27h1M64 27h1M80 27h1M106 27h1M131 27h1M13 26h1M53 26h1M71 26h1M81 26h1M83 26h1M117 26h1M128 26h1M138 26h1M20 25h1M69 25h2M76 25h1M88 25h1M104 25h1M111 25h1M119 25h1M129 25h1M135 25h1M13 24h1M47 24h1M79 24h1M119 24h1M0 23h1M11 23h1M15 23h1M35 23h1M60 23h1M63 23h1M67 23h1M73 23h1M123 23h1M125 23h1M0 22h1M7 22h1M44 22h1M55 22h1M104 22h1M107 22h1M19 21h1M22 21h1M24 21h1M35 21h1M41 21h1M73 21h1M131 21h1M8 20h1M10 20h1M32 20h1M96 20h1M109 20h1M111 20h1M130 20h1M140 20h1M4 19h1M28 19h1M37 19h1M43 19h1M81 19h1M84 19h1M87 19h1M113 19h1M118 19h1M130 19h1M9 18h1M25 18h1M34 18h1M37 18h1M41 18h1M45 18h1M50 18h1M68 18h1M77 18h1M111 18h1M134 18h1M1 17h1M5 17h1M43 17h1M47 17h1M52 17h1M96 17h1M107 17h3M124 17h1M137 17h1M20 16h1M39 16h1M49 16h1M55 16h1M73 16h1M81 16h1M84 16h1M94 16h1M107 16h1M135 16h1M71 15h1M95 15h1M108 15h1M114 15h1M116 15h1M2 14h1M14 14h1M17 14h1M23 14h1M73 14h1M82 14h1M123 14h1M1 13h1M43 13h1M94 13h1M101 13h1M106 13h1M118 13h2M124 13h1M130 13h1M20 12h1M22 12h1M31 12h1M34 12h1M80 12h1M83 12h1M88 12h1M106 12h1M109 12h1M130 12h1M29 11h1M40 11h1M71 11h1M74 11h1M83 11h1M91 11h1M99 11h1M25 10h1M29 10h1M33 10h1M49 10h1M69 10h1M72 10h2M75 10h3M93 10h1M113 10h1M130 10h2M139 10h2M0 9h2M5 9h1M7 9h1M24 9h1M33 9h1M43 9h1M85 9h1M14 8h1M41 8h1M76 8h1M79 8h1M109 8h1M117 8h1M127 8h1M30 7h1M33 7h1M40 7h1M46 7h1M49 7h1M76 7h1M82 7h1M95 7h1M119 7h1M131 7h1M17 6h1M33 6h1M62 6h1M69 6h1M71 6h1M74 6h1M77 6h1M88 6h1M114 6h1M117 6h2M122 6h1M142 6h1M10 5h1M18 5h1M27 5h1M39 5h1M53 5h1M62 5h1M102 5h1M106 5h1M135 5h1M15 4h1M30 4h1M44 4h2M52 4h1M86 4h1M129 4h1M135 4h1M1 3h1M15 3h1M20 3h1M48 3h1M76 3h1M80 3h1M116 3h1M42 2h1M51 2h1M53 2h1M63 2h1M65 2h1M67 2h1M92 2h1M101 2h1M132 2h1M6 1h1M9 1h1M13 1h1M21 1h2M44 1h1M75 1h1M83 1h1M90 1h1M93 1h1M98 1h1M106 1h1M121 1h1M132 1h1M135 1h2M12 0h1M20 0h1M90 0h1M94 0h1M125 0h2"/><path stroke="#0040ff" d="M10 128h2M77 128h1M98 128h1M114 127h1M118 127h1M123 127h1M130 127h1M132 127h2M143 127h1M5 104h1M5 103h1M123 98h1M12 97h1M9 95h1M105 93h1M8 91h2M118 91h1M133 88h1M3 87h1M128 86h1M138 86h1M14 83h1M111 83h1M124 83h1M7 82h1M123 82h1M142 82h1M116 81h1M121 81h1M9 80h1M33 80h1M120 80h1M126 80h1M133 80h1M139 79h2M135 78h1M143 78h1M95 77h1M8 76h1M100 76h1M76 75h1M84 75h1M111 75h1M117 75h1M135 75h1M99 74h1M110 74h1M123 74h1M82 73h1M143 73h1M140 72h1M17 71h1M33 71h1M41 71h1M116 71h1M126 71h1M143 71h1M17 70h1M85 70h1M110 70h1M131 69h1M135 69h1M11 68h1M99 68h1M139 68h1M38 67h1M41 67h1M130 67h1M135 67h1M65 66h1M124 66h1M133 66h1M7 65h1M12 65h1M15 65h1M71 65h1M100 65h1M119 65h2M142 65h1M6 64h1M34 64h1M128 64h1M135 64h1M18 63h3M44 63h1M97 63h1M104 63h2M113 63h1M126 63h1M128 62h1M133 62h1M136 62h1M17 61h1M63 61h1M104 61h1M106 61h1M114 61h1M137 61h1M140 61h1M22 60h1M33 60h1M105 60h1M140 60h1M21 59h1M50 59h1M92 59h1M95 59h1M114 59h1M131 59h1M140 59h1M17 58h1M79 58h1M117 58h1M14 57h1M127 57h1M138 57h1M6 56h1M8 56h1M23 56h1M36 56h1M112 56h1M9 55h1M13 55h1M103 55h1M116 55h1M121 55h1M138 55h1M36 54h1M45 54h1M84 54h1M129 54h1M3 53h1M21 53h1M49 53h1M89 53h1M93 53h1M100 53h1M110 53h1M125 53h1M53 52h1M55 52h1M22 51h1M84 51h1M99 51h1M110 51h1M119 51h1M137 51h1M0 50h1M5 50h1M20 50h1M68 50h1M133 50h1M138 50h1M11 49h1M25 49h1M42 49h1M111 49h1M142 49h1M54 48h1M66 48h1M82 48h2M86 48h1M89 48h1M105 48h1M115 48h1M137 48h1M139 48h1M143 48h1M64 47h1M84 47h1M121 47h1M127 47h1M133 47h1M18 46h1M37 46h2M50 46h1M64 46h1M69 46h1M94 46h1M101 46h2M133 46h1M9 45h1M12 45h1M25 45h1M34 45h1M53 45h1M68 45h1M85 45h1M101 45h1M135 45h1M9 44h1M21 44h1M30 44h1M80 44h1M84 44h1M104 44h1M9 43h1M14 43h2M32 43h1M63 43h1M78 43h1M102 43h1M105 43h1M130 43h1M134 43h1M18 42h1M22 42h1M33 42h1M42 42h1M45 42h1M66 42h1M87 42h1M119 42h1M141 42h1M7 41h1M14 41h1M41 41h1M43 41h1M70 41h1M101 41h1M116 41h1M120 41h2M127 41h1M10 40h1M28 40h1M33 40h1M43 40h1M76 40h1M82 40h1M86 40h1M92 40h1M97 40h1M110 40h2M120 40h1M134 40h1M4 39h1M16 39h1M33 39h1M42 39h1M103 39h1M105 39h1M117 39h1M127 39h1M1 38h1M5 38h1M23 38h1M34 38h1M47 38h1M52 38h1M83 38h1M94 38h1M103 38h1M120 38h1M126 38h1M9 37h1M15 37h1M22 37h1M34 37h1M85 37h1M92 37h1M94 37h1M120 37h1M142 37h1M19 36h1M35 36h1M41 36h1M95 36h1M122 36h1M126 36h1M128 36h1M2 35h1M12 35h1M20 35h1M30 35h1M35 35h1M39 35h1M42 35h1M47 35h1M54 35h1M86 35h1M8 34h1M35 34h1M75 34h1M80 34h1M84 34h1M104 34h1M121 34h1M135 34h1M137 34h1M12 33h1M34 33h1M38 33h1M75 33h1M78 33h1M80 33h1M133 33h1M19 32h1M46 32h1M51 32h1M70 32h1M109 32h2M143 32h1M8 31h1M35 31h1M80 31h1M85 31h1M93 31h1M104 31h1M106 31h1M115 31h1M130 31h1M142 31h1M18 30h1M49 30h1M83 30h1M85 30h1M92 30h1M100 30h2M129 30h1M22 29h1M25 29h2M47 29h1M63 29h1M94 29h1M114 29h1M127 29h1M130 29h2M8 28h1M15 28h1M29 28h1M65 28h1M100 28h1M125 28h1M10 27h1M12 27h1M25 27h1M41 27h1M47 27h1M62 27h1M78 27h1M92 27h1M95 27h2M105 27h1M108 27h1M114 27h1M141 27h1M8 26h1M25 26h1M46 26h1M62 26h1M80 26h1M82 26h1M87 26h1M98 26h1M116 26h1M137 26h1M17 25h1M32 25h1M41 25h1M78 25h1M80 25h1M84 25h1M91 25h1M99 25h1M126 25h1M138 25h1M6 24h1M17 24h1M37 24h2M65 24h1M67 24h1M72 24h1M87 24h1M94 24h1M109 24h1M30 23h1M38 23h1M104 23h1M109 23h1M111 23h1M124 23h1M37 22h1M66 22h1M68 22h1M93 22h1M100 22h1M115 22h1M119 22h1M127 22h1M49 21h1M68 21h1M71 21h1M76 21h1M92 21h1M94 21h1M100 21h1M127 21h1M135 21h1M143 21h1M9 20h1M24 20h1M33 20h1M38 20h1M41 20h1M46 20h1M57 20h1M67 20h1M77 20h1M81 20h1M91 20h1M97 20h1M107 20h1M120 20h1M7 19h1M29 19h1M32 19h1M34 19h1M53 19h1M80 19h1M83 19h1M116 19h1M126 19h1M35 18h1M38 18h1M63 18h1M100 18h1M125 18h1M131 18h1M12 17h1M45 17h1M69 17h1M99 17h1M119 17h2M131 17h1M134 17h1M40 16h1M42 16h1M51 16h1M54 16h1M70 16h2M78 16h1M112 16h1M120 16h1M21 15h1M30 15h2M63 15h1M88 15h2M103 15h1M120 15h1M10 14h1M29 14h1M48 14h2M77 14h1M80 14h1M87 14h1M132 14h1M4 13h1M21 13h1M39 13h1M63 13h1M71 13h1M80 13h1M95 13h2M100 13h1M126 13h1M2 12h1M5 12h1M13 12h1M58 12h1M5 11h1M9 11h1M43 11h1M49 11h1M59 11h1M115 11h1M128 11h1M0 10h1M9 10h1M16 10h1M22 10h1M26 10h1M31 10h1M43 10h1M52 10h1M68 10h1M71 10h1M83 10h1M86 10h2M110 10h2M117 10h1M126 10h1M22 9h1M52 9h1M63 9h1M91 9h1M6 8h1M8 8h1M11 8h1M44 8h1M53 8h1M64 8h1M87 8h1M110 8h1M112 8h1M4 7h1M41 7h2M44 7h1M67 7h1M86 7h1M91 7h1M120 7h1M1 6h1M44 6h1M86 6h1M90 6h1M116 6h1M133 6h1M1 5h1M26 5h1M78 5h1M91 5h1M96 5h1M115 5h1M133 5h1M142 5h1M0 4h2M3 4h1M5 4h1M38 4h1M47 4h1M58 4h1M66 4h1M70 4h1M78 4h1M108 4h1M132 4h1M21 3h1M25 3h1M37 3h1M49 3h1M51 3h1M53 3h1M72 3h1M78 3h1M81 3h1M86 3h1M89 3h1M95 3h1M119 3h1M124 3h1M129 3h1M136 3h1M0 2h1M4 2h1M13 2h1M56 2h1M83 2h1M91 2h1M93 2h1M98 2h1M119 2h1M4 1h1M18 1h1M39 1h1M53 1h1M64 1h1M66 1h1M79 1h1M100 1h1M120 1h1M126 1h1M1 0h1M10 0h1M18 0h2M46 0h1M59 0h1M64 0h1M89 0h1M92 0h1M109 0h1M121 0h1"/><path stroke="#0050ff" d="M27 128h1M31 128h1M47 128h1M50 128h1M101 128h1M107 128h1M106 127h1M127 127h1M105 120h1M4 109h1M9 104h1M16 99h1M11 97h1M0 94h1M0 93h1M9 89h1M122 89h1M117 88h1M132 88h1M2 87h1M3 85h1M20 84h1M37 84h1M32 83h1M35 83h1M83 83h1M95 83h1M118 83h1M123 83h1M125 83h1M8 82h1M2 81h1M126 81h3M87 80h1M90 80h1M128 80h1M7 79h1M19 79h1M137 79h1M141 79h1M15 78h1M118 78h1M2 77h1M9 77h1M100 77h1M114 77h1M125 77h1M38 76h1M84 76h1M90 76h1M137 76h1M140 76h1M143 76h1M39 75h1M81 75h1M94 75h1M119 75h1M131 75h1M134 75h1M4 74h1M18 74h1M86 74h1M108 74h1M134 74h1M26 73h1M111 73h1M125 73h1M41 72h1M71 72h1M104 72h1M118 72h1M129 72h1M8 71h2M38 71h1M81 71h1M135 71h1M12 70h1M84 70h1M105 70h1M125 70h2M0 69h2M6 69h1M16 69h1M125 69h1M109 68h1M19 67h1M24 67h1M93 67h1M99 67h1M106 67h1M115 67h1M117 67h1M21 66h1M29 66h1M45 66h1M99 66h1M105 66h1M20 65h1M51 65h1M101 65h1M106 65h1M108 65h2M124 65h1M133 65h1M0 64h1M7 64h1M44 64h1M104 64h1M107 64h1M124 64h1M134 64h1M5 63h1M49 63h1M14 62h1M26 62h1M82 62h1M97 62h1M106 62h1M124 62h1M137 62h1M14 61h1M18 61h1M20 61h1M73 61h1M17 60h1M49 60h1M88 60h1M91 60h1M10 59h1M12 59h1M29 59h1M56 59h1M69 59h1M120 59h1M44 58h1M69 58h1M111 58h1M139 58h1M2 57h1M101 57h1M103 57h1M111 57h1M13 56h1M39 56h1M83 56h1M104 56h1M118 56h1M141 56h1M21 55h1M36 55h1M69 55h1M118 55h1M4 54h1M29 54h1M41 54h1M116 54h1M123 54h1M16 53h2M111 53h1M118 53h1M10 52h2M37 52h1M52 52h1M67 52h1M78 52h1M110 52h1M119 52h1M121 52h1M3 51h1M36 51h1M78 51h1M92 51h1M95 51h1M127 51h1M133 51h1M138 51h1M7 50h1M81 50h1M106 50h1M115 50h1M139 50h1M21 49h1M79 49h1M110 49h1M115 49h1M123 49h1M4 48h1M29 48h1M71 48h1M109 48h1M112 48h1M116 48h1M123 48h1M129 48h1M141 48h1M9 47h1M38 47h1M87 47h1M98 47h1M109 47h1M119 47h1M122 47h1M125 47h1M141 47h1M143 47h1M16 46h1M34 46h1M36 46h1M43 46h1M76 46h1M109 46h1M111 46h1M116 46h3M138 46h1M38 45h1M74 45h1M94 45h1M115 45h1M123 45h1M20 44h1M35 44h1M73 44h1M85 44h1M88 44h1M91 44h2M108 44h1M111 44h1M114 44h1M134 44h1M137 44h1M23 43h1M30 43h1M33 43h1M48 43h1M84 43h1M117 43h1M132 43h1M5 42h1M10 42h2M15 42h1M34 42h1M51 42h1M69 42h1M78 42h1M6 41h1M8 41h2M19 41h1M55 41h1M88 41h1M98 41h1M134 41h1M143 41h1M8 40h2M11 40h1M34 40h1M42 40h1M101 40h1M112 40h1M117 40h1M119 40h1M143 40h1M3 39h1M19 39h1M36 39h1M38 39h1M46 39h1M50 39h1M54 39h1M75 39h1M98 39h1M112 39h1M126 39h1M26 38h1M43 38h1M74 38h1M98 38h1M143 38h1M6 37h1M38 37h1M41 37h1M53 37h1M66 37h1M78 37h1M93 37h1M101 37h1M122 37h1M128 37h1M133 37h1M1 36h2M7 36h1M12 36h1M14 36h1M31 36h1M48 36h1M76 36h1M112 36h1M6 35h1M9 35h1M29 35h1M36 35h1M81 35h1M104 35h1M107 35h1M119 35h1M126 35h2M17 34h1M25 34h1M44 34h1M85 34h1M106 34h1M119 34h1M37 33h1M56 33h1M62 33h1M84 33h1M91 33h1M94 33h1M104 33h1M113 33h1M123 33h1M143 33h1M8 32h1M30 32h1M38 32h1M66 32h1M75 32h1M80 32h1M85 32h1M91 32h1M1 31h1M10 31h1M18 31h1M28 31h1M97 31h4M114 31h1M10 30h2M17 30h1M42 30h1M64 30h2M93 30h1M97 30h1M18 29h1M24 29h1M31 29h1M46 29h1M62 29h1M67 29h1M91 29h1M120 29h1M4 28h2M22 28h1M36 28h2M46 28h1M66 28h1M68 28h1M83 28h1M93 28h1M105 28h1M113 28h1M123 28h2M128 28h1M36 27h1M90 27h1M20 26h1M23 26h1M29 26h1M37 26h1M42 26h1M75 26h1M78 26h1M84 26h1M91 26h1M106 26h1M111 26h1M123 26h1M131 26h1M6 25h1M10 25h1M12 25h3M40 25h1M42 25h1M45 25h1M49 25h1M63 25h1M71 25h1M87 25h1M93 25h1M125 25h1M143 25h1M12 24h1M20 24h1M25 24h1M42 24h1M98 24h1M101 24h1M123 24h1M131 24h1M4 23h1M10 23h1M56 23h1M72 23h1M87 23h1M90 23h1M99 23h1M113 23h1M117 23h1M119 23h1M5 22h2M10 22h1M13 22h1M19 22h1M30 22h1M33 22h1M35 22h1M40 22h1M47 22h1M87 22h1M117 22h1M123 22h1M12 21h2M30 21h1M33 21h1M36 21h1M62 21h1M64 21h1M74 21h1M78 21h1M88 21h1M96 21h1M114 21h1M116 21h1M14 20h1M39 20h1M42 20h1M45 20h1M51 20h1M65 20h1M68 20h1M88 20h1M92 20h1M100 20h1M116 20h1M126 20h1M143 20h1M11 19h1M13 19h1M51 19h1M65 19h1M70 19h1M85 19h1M89 19h1M100 19h1M98 18h1M101 18h1M39 17h1M42 17h1M58 17h1M62 17h1M74 17h1M94 17h1M139 17h1M8 16h1M95 16h1M124 16h1M137 16h1M4 15h1M40 15h2M43 15h1M47 15h1M64 15h1M67 15h1M72 15h1M82 15h1M87 15h1M98 15h1M112 15h1M4 14h1M7 14h1M12 14h1M37 14h1M101 14h1M110 14h1M138 14h1M5 13h1M15 13h1M69 13h1M91 13h1M129 13h1M0 12h1M21 12h1M53 12h1M64 12h1M66 12h1M74 12h1M77 12h1M90 12h1M100 12h2M113 12h1M139 12h1M19 11h1M64 11h1M69 11h1M75 11h1M86 11h1M118 11h1M2 10h1M5 10h1M8 10h1M27 10h1M35 10h1M44 10h1M47 10h2M53 10h1M65 10h1M118 10h1M11 9h1M25 9h1M35 9h1M47 9h1M87 9h1M98 9h1M108 9h4M1 8h1M74 8h1M95 8h1M140 8h1M12 7h2M29 7h1M47 7h1M75 7h1M87 7h2M117 7h2M140 7h1M12 6h2M30 6h1M36 6h1M42 6h1M72 6h1M78 6h1M85 6h1M96 6h1M99 6h1M112 6h1M115 6h1M124 6h1M5 5h1M11 5h1M31 5h1M33 5h1M54 5h1M71 5h1M74 5h1M90 5h1M93 5h1M97 5h1M111 5h1M7 4h1M11 4h1M13 4h1M33 4h1M53 4h1M80 4h1M106 4h1M109 4h1M120 4h1M5 3h1M10 3h1M13 3h1M18 3h2M23 3h1M40 3h1M46 3h1M68 3h1M74 3h1M83 3h1M101 3h1M120 3h1M8 2h2M31 2h1M47 2h1M79 2h1M95 2h1M31 1h1M36 1h1M56 1h1M71 1h1M89 1h1M96 1h1M102 1h1M119 1h1M22 0h1M25 0h1M44 0h1M48 0h1M63 0h1M66 0h1M80 0h1M123 0h1"/><path stroke="#0060ff" d="M35 128h1M117 127h1M119 127h1M129 124h1M5 106h1M139 102h1M143 98h1M100 94h1M123 94h1M131 93h1M1 92h1M13 92h1M141 91h1M7 90h1M140 90h1M4 88h1M9 87h1M110 87h2M120 87h1M19 85h1M22 85h1M30 85h1M90 85h1M5 83h1M20 83h1M98 83h1M105 83h2M117 83h1M133 83h1M9 82h1M13 82h1M29 82h1M128 82h1M135 82h1M5 81h1M8 81h1M120 81h1M83 80h1M103 80h1M1 79h1M3 79h1M31 79h1M42 79h1M130 79h1M85 78h1M120 78h1M125 78h1M130 78h1M6 77h1M11 77h1M19 77h1M113 77h1M11 76h1M46 76h1M83 76h1M14 75h1M125 75h2M13 74h1M80 74h1M103 74h1M111 74h1M115 74h1M108 73h1M120 73h1M1 72h1M116 72h1M136 72h1M15 71h1M93 71h1M117 71h1M137 71h1M142 71h1M7 70h1M11 70h1M111 70h1M118 70h1M128 70h1M137 70h1M142 70h1M14 69h1M25 69h1M31 69h1M115 69h1M141 69h1M43 68h1M67 68h2M110 68h1M115 68h2M128 68h1M130 68h1M135 68h1M22 67h1M114 67h1M136 67h1M31 66h1M91 66h1M109 66h1M114 66h1M129 66h2M142 66h1M24 65h1M34 65h1M45 65h1M99 65h1M105 65h1M111 65h1M137 65h1M2 64h1M12 64h1M19 64h3M84 64h1M96 64h1M100 64h1M122 64h1M1 63h1M6 63h1M95 63h1M130 63h1M137 63h1M87 62h1M125 62h1M127 62h1M141 62h1M0 61h1M32 61h1M45 61h1M52 61h1M74 61h1M11 60h1M39 60h1M84 60h1M133 60h1M13 59h1M26 59h1M105 59h1M2 58h1M25 58h1M64 58h1M66 58h1M76 58h1M114 58h1M4 57h1M6 57h1M16 57h2M33 57h1M97 57h1M102 57h1M117 57h1M120 57h1M128 57h1M137 57h1M1 56h1M12 56h1M20 56h1M116 56h1M121 56h1M128 56h1M134 56h1M14 55h1M37 55h1M50 55h1M70 55h1M93 55h1M105 55h1M114 55h1M120 55h1M7 54h1M20 54h1M102 54h1M105 54h1M119 54h1M142 54h1M1 53h1M7 53h1M11 53h1M25 53h1M27 53h1M101 53h1M115 53h2M119 53h1M133 53h1M142 53h2M9 52h1M13 52h2M17 52h1M27 52h1M84 52h1M93 52h1M100 52h1M118 52h1M127 52h2M18 51h1M86 51h1M90 51h1M101 51h1M103 51h1M105 51h1M115 51h2M131 51h1M139 51h1M143 51h1M26 50h1M64 50h1M92 50h1M101 50h1M117 50h1M120 50h1M124 50h1M126 50h1M128 50h1M135 50h1M142 50h1M3 49h1M89 49h1M98 49h1M101 49h1M104 49h1M112 49h2M126 49h2M137 49h1M32 48h1M64 48h1M70 48h1M108 48h1M111 48h1M124 48h1M2 47h1M24 47h1M66 47h2M110 47h1M129 47h1M131 47h1M9 46h1M24 46h1M33 46h1M40 46h1M48 46h1M92 46h1M139 46h2M143 46h1M16 45h1M47 45h1M75 45h1M86 45h1M104 45h1M113 45h1M121 45h1M125 45h1M11 44h1M15 44h1M103 44h1M107 44h1M120 44h2M136 44h1M12 43h1M34 43h1M41 43h1M49 43h1M120 43h1M126 43h1M128 43h1M143 43h1M13 42h1M83 42h1M91 42h1M107 42h1M112 42h1M2 41h1M23 41h2M31 41h1M35 41h1M48 41h1M95 41h1M102 41h2M108 41h1M119 41h1M141 41h1M2 40h1M14 40h1M35 40h1M69 40h1M75 40h1M87 40h1M28 39h1M45 39h1M90 39h1M101 39h1M123 39h1M125 39h1M10 38h1M18 38h2M57 38h1M71 38h1M82 38h1M89 38h1M92 38h1M111 38h1M4 37h2M16 37h1M18 37h1M36 37h1M44 37h1M51 37h1M90 37h1M96 37h1M109 37h1M8 36h1M37 36h1M43 36h1M69 36h1M73 36h1M78 36h1M81 36h1M87 36h2M92 36h1M96 36h1M104 36h1M119 36h1M135 36h1M143 36h1M13 35h1M16 35h1M50 35h1M52 35h1M70 35h1M118 35h1M0 34h1M14 34h1M16 34h1M33 34h1M47 34h1M76 34h1M81 34h1M95 34h1M0 33h1M5 33h1M10 33h1M13 33h2M25 33h1M30 33h2M76 33h1M102 33h1M0 32h1M25 32h1M31 32h1M34 32h1M44 32h1M53 32h1M72 32h2M92 32h1M94 32h1M104 32h1M118 32h1M133 32h1M16 31h1M20 31h1M26 31h1M49 31h1M74 31h1M92 31h1M94 31h1M107 31h1M4 30h1M19 30h2M26 30h1M30 30h1M40 30h1M68 30h1M79 30h1M87 30h1M114 30h1M120 30h1M123 30h1M128 30h1M1 29h1M3 29h1M29 29h1M38 29h1M87 29h1M115 29h1M123 29h1M129 29h1M10 28h1M109 28h1M115 28h1M126 28h1M6 27h1M11 27h1M51 27h1M58 27h1M71 27h1M91 27h1M97 27h1M107 27h1M113 27h1M10 26h1M49 26h1M51 26h1M95 26h1M100 26h1M102 26h1M108 26h1M119 26h1M31 25h1M37 25h2M53 25h1M55 25h1M68 25h1M101 25h1M131 25h1M31 24h1M50 24h1M74 24h1M82 24h1M86 24h1M90 24h1M106 24h1M108 24h1M110 24h1M115 24h1M9 23h1M12 23h1M17 23h1M22 23h1M27 23h1M32 23h1M36 23h1M78 23h1M82 23h1M85 23h1M101 23h1M11 22h1M48 22h1M65 22h1M128 22h1M8 21h1M18 21h1M20 21h1M44 21h1M52 21h1M65 21h1M86 21h1M13 20h1M35 20h1M47 20h2M54 20h1M56 20h1M58 20h1M86 20h1M98 20h1M108 20h1M117 20h1M14 19h1M20 19h1M22 19h1M31 19h1M44 19h1M46 19h1M59 19h1M77 19h1M108 19h1M128 19h2M15 18h1M19 18h1M24 18h1M29 18h1M40 18h1M66 18h1M79 18h1M85 18h1M89 18h1M91 18h1M94 18h1M107 18h1M117 18h1M124 18h1M139 18h1M3 17h1M13 17h1M18 17h1M22 17h1M59 17h1M66 17h1M70 17h1M73 17h1M82 17h1M85 17h1M87 17h1M116 17h2M9 16h1M37 16h1M46 16h2M83 16h1M89 16h1M117 16h1M131 16h1M2 15h1M46 15h1M51 15h1M56 15h1M83 15h1M117 15h1M124 15h1M138 15h1M8 14h1M22 14h1M33 14h1M44 14h1M89 14h2M94 14h1M99 14h1M13 13h1M17 13h1M36 13h1M40 13h1M77 13h1M86 13h1M90 13h1M109 13h1M11 12h1M30 12h1M43 12h1M48 12h1M50 12h1M54 12h2M67 12h1M71 12h1M75 12h1M79 12h1M85 12h1M94 12h1M97 12h1M7 11h1M30 11h1M44 11h1M51 11h1M62 11h1M73 11h1M96 11h1M129 11h1M11 10h1M21 10h1M28 10h1M30 10h1M51 10h1M59 10h1M17 9h1M37 9h1M53 9h1M74 9h1M77 9h1M115 9h1M131 9h1M2 8h1M7 8h1M20 8h1M78 8h1M81 8h1M93 8h1M98 8h1M15 7h1M20 7h1M35 7h1M48 7h1M65 7h1M80 7h1M85 7h1M96 7h1M99 7h1M6 6h1M8 6h1M18 6h1M23 6h1M37 6h1M46 6h1M56 6h1M84 6h1M89 6h1M93 6h1M109 6h1M131 6h1M4 5h1M21 5h1M30 5h1M36 5h1M56 5h1M87 5h1M98 5h1M21 4h1M40 4h1M62 4h1M77 4h1M81 4h1M87 4h1M98 4h1M100 4h1M0 3h1M2 3h1M52 3h1M56 3h1M61 3h1M108 3h1M1 2h1M14 2h1M20 2h1M29 2h2M77 2h1M108 2h1M116 2h1M10 1h1M20 1h1M23 1h1M51 1h1M65 1h1M111 1h1M9 0h1M23 0h1M41 0h1M67 0h1M71 0h1M73 0h1M136 0h1"/><path stroke="#0070ff" d="M28 127h1M59 127h1M97 127h1M100 127h1M116 127h1M124 127h1M49 126h1M6 111h1M11 102h1M9 100h1M25 98h1M114 95h1M116 95h1M11 94h1M120 94h1M128 91h1M140 91h1M13 90h1M22 88h1M143 88h1M116 87h1M83 86h1M129 86h1M122 85h1M133 85h1M13 84h2M17 84h1M98 84h1M133 84h1M138 84h1M9 83h1M100 83h1M102 83h1M137 83h1M140 83h1M2 82h1M12 82h1M17 82h1M104 82h1M127 82h1M131 82h1M4 81h1M90 81h1M112 81h1M114 81h1M122 81h1M125 81h1M2 80h1M122 80h1M131 80h1M18 79h1M30 79h1M32 79h2M85 79h1M113 79h1M118 79h1M4 78h1M12 78h1M17 78h1M19 78h1M32 78h1M34 78h1M36 78h1M112 78h1M14 77h1M40 77h1M108 77h1M124 77h1M130 77h2M135 77h1M142 77h1M4 76h1M45 76h1M125 76h1M135 76h1M138 76h1M18 75h1M116 75h1M120 75h1M19 74h1M40 74h1M136 74h2M140 74h1M4 73h1M15 73h1M110 73h1M126 73h2M3 72h1M12 72h1M36 72h1M39 72h1M84 72h1M94 72h1M120 72h1M143 72h1M7 71h1M44 71h1M80 71h1M94 71h1M104 71h1M110 71h1M118 71h1M120 71h1M139 71h1M2 70h1M9 70h1M15 70h1M81 70h1M94 70h2M100 70h1M140 70h1M8 69h1M15 69h1M20 69h1M32 69h1M103 69h1M129 69h2M133 69h1M139 69h1M18 68h1M44 68h2M92 68h1M101 68h1M118 68h1M120 68h1M124 68h1M142 68h1M45 67h1M109 67h1M112 67h1M119 67h1M132 67h1M138 67h1M10 66h1M15 66h1M18 66h1M37 66h2M126 66h1M44 65h1M68 65h1M107 65h1M112 65h1M118 65h1M141 65h1M3 64h1M5 64h1M9 64h1M36 64h1M103 64h1M113 64h1M116 64h1M138 64h1M7 63h1M39 63h1M83 63h2M101 63h1M118 63h1M120 63h1M124 63h1M127 63h1M138 63h1M81 62h1M104 62h1M113 62h1M134 62h1M139 62h1M143 62h1M35 61h1M122 61h1M126 61h1M130 61h1M135 61h1M0 60h2M104 60h1M122 60h1M6 59h1M11 59h1M25 59h1M86 59h1M88 59h1M100 59h1M117 59h2M135 59h1M35 58h1M56 58h1M62 58h1M67 58h1M81 58h1M83 58h1M135 58h1M0 57h1M63 57h2M80 57h1M91 57h1M121 57h1M126 57h1M130 57h1M134 57h1M11 56h1M14 56h1M37 56h1M63 56h1M88 56h1M93 56h1M96 56h2M106 56h1M119 56h1M30 55h1M35 55h1M41 55h1M52 55h1M112 55h1M122 55h1M126 55h1M128 55h1M130 55h1M135 55h3M30 54h1M32 54h1M37 54h2M49 54h1M89 54h1M124 54h1M135 54h1M5 53h1M8 53h1M18 53h1M39 53h1M129 53h1M4 52h1M7 52h1M20 52h1M71 52h1M74 52h1M109 52h1M135 52h2M27 51h1M32 50h1M35 50h1M44 50h1M53 50h2M71 50h1M86 50h1M114 50h1M140 50h1M14 49h1M30 49h1M47 49h1M50 49h1M68 49h1M82 49h1M88 49h1M120 49h1M124 49h1M1 48h1M11 48h1M68 48h1M78 48h1M88 48h1M96 48h1M119 48h1M40 47h1M43 47h1M46 47h1M69 47h1M77 47h1M102 47h1M108 47h1M117 47h1M3 46h1M8 46h1M21 46h1M55 46h1M83 46h1M45 45h1M78 45h1M141 45h1M10 44h1M53 44h1M79 44h1M119 44h1M129 44h1M1 43h1M51 43h1M66 43h1M77 43h1M79 43h2M85 43h1M87 43h1M136 43h1M1 42h1M27 42h1M44 42h1M68 42h1M79 42h1M85 42h1M90 42h1M93 42h1M110 42h1M117 42h1M126 42h1M130 42h1M11 41h1M36 41h1M76 41h1M117 41h1M0 40h1M13 40h1M18 40h1M45 40h1M50 40h2M72 40h1M108 40h1M127 40h1M22 39h1M62 39h1M78 39h1M88 39h1M133 39h1M0 38h1M3 38h1M11 38h2M31 38h1M45 38h1M65 38h2M72 38h1M77 38h1M86 38h1M110 38h1M24 37h1M42 37h1M86 37h2M118 37h1M5 36h2M36 36h1M46 36h1M64 36h1M71 36h1M77 36h1M118 36h1M132 36h2M3 35h1M32 35h1M45 35h1M87 35h1M135 35h1M143 35h1M5 34h1M24 34h1M74 34h1M113 34h1M127 34h1M2 33h1M9 33h1M17 33h1M24 33h1M33 33h1M42 33h1M49 33h1M55 33h1M69 33h1M105 33h1M130 33h1M10 32h1M21 32h1M26 32h1M29 32h1M48 32h1M50 32h1M97 32h1M99 32h1M105 32h1M112 32h1M126 32h1M17 31h1M22 31h1M50 31h1M71 31h1M78 31h1M86 31h1M112 31h1M3 30h1M9 30h1M14 30h2M23 30h1M27 30h1M36 30h1M54 30h1M56 30h1M63 30h1M71 30h1M73 30h1M130 30h1M0 29h1M4 29h1M9 29h1M23 29h1M37 29h1M39 29h1M41 29h1M75 29h1M119 29h1M1 28h1M16 28h1M19 28h1M33 28h1M75 28h1M120 28h1M132 28h1M9 27h1M32 27h1M45 27h2M94 27h1M112 27h1M117 27h1M123 27h1M32 26h2M39 26h1M63 26h1M72 26h1M129 26h1M4 25h1M23 25h1M62 25h1M65 25h2M82 25h2M94 25h1M106 25h1M108 25h1M10 24h1M44 24h1M51 24h1M97 24h1M120 24h1M8 23h1M37 23h1M64 23h1M79 23h1M100 23h1M16 22h1M24 22h1M31 22h2M52 22h1M79 22h1M90 22h1M3 21h1M10 21h2M15 21h2M29 21h1M66 21h1M75 21h1M79 21h1M82 21h1M115 21h1M117 21h1M129 21h1M0 20h1M11 20h2M21 20h1M30 20h1M50 20h1M52 20h2M69 20h1M79 20h2M90 20h1M128 20h1M17 19h1M42 19h1M45 19h1M97 19h1M99 19h1M117 19h1M1 18h1M4 18h2M12 18h2M18 18h1M20 18h1M30 18h1M36 18h1M43 18h1M74 18h1M82 18h1M86 18h1M4 17h1M8 17h1M27 17h1M32 17h1M63 17h1M65 17h1M90 17h1M97 17h1M100 17h2M4 16h1M7 16h1M12 16h1M16 16h1M33 16h1M44 16h1M64 16h1M67 16h1M75 16h1M97 16h1M101 16h1M3 15h1M7 15h1M12 15h2M37 15h1M75 15h1M86 15h1M28 14h1M31 14h1M45 14h1M63 14h1M70 14h1M86 14h1M117 14h1M8 13h1M48 13h1M58 13h1M78 13h1M81 13h1M40 12h1M62 12h1M81 12h1M86 12h1M95 12h1M3 11h1M6 11h1M13 11h1M20 11h1M39 11h1M42 11h1M48 11h1M53 11h1M110 11h1M14 10h1M36 10h1M40 10h1M66 10h1M79 10h1M89 10h1M91 10h1M95 10h3M132 10h1M2 9h1M19 9h1M28 9h1M31 9h1M51 9h1M24 8h1M35 8h1M65 8h1M131 8h1M0 7h1M9 7h1M27 7h1M56 7h1M93 7h1M112 7h1M133 7h1M4 6h1M20 6h1M22 6h1M26 6h2M29 6h1M50 6h1M65 6h1M68 6h1M97 6h1M9 5h1M15 5h1M24 5h2M29 5h1M41 5h1M64 5h1M72 5h1M2 4h1M9 4h1M23 4h1M31 3h1M64 3h1M75 3h1M94 3h1M27 2h1M44 2h1M46 2h1M74 2h1M86 2h1M120 2h1M1 1h1M73 1h1M123 1h1M8 0h1M33 0h1M51 0h1M86 0h1M96 0h1M98 0h1M119 0h1"/><path stroke="#0080ff" d="M2 128h1M33 127h1M36 127h1M94 127h1M99 127h1M104 127h1M111 127h1M120 127h1M136 127h1M142 127h1M141 107h1M140 102h1M9 97h1M16 97h1M119 97h1M13 96h1M8 95h1M137 95h1M108 93h1M8 90h1M132 90h1M21 89h1M121 89h1M118 88h1M20 86h1M136 86h1M140 86h1M17 85h1M85 85h1M135 85h1M137 85h1M0 84h1M12 84h1M138 83h1M142 83h1M99 82h1M106 82h1M3 81h1M9 81h1M14 81h1M23 81h1M26 81h1M32 81h1M106 81h1M109 81h1M123 81h1M133 81h1M8 80h1M30 80h1M38 80h1M81 80h1M99 80h1M136 80h1M87 79h1M142 79h1M9 78h1M108 78h1M111 78h1M114 78h1M133 78h1M136 78h2M109 77h1M129 77h1M133 77h1M137 77h1M140 77h1M143 77h1M3 76h1M10 76h1M47 76h1M94 76h1M98 76h1M136 76h1M141 76h1M12 75h1M15 75h1M34 75h1M142 75h1M0 74h1M15 74h1M22 74h1M30 74h1M76 74h1M105 74h1M2 73h1M11 73h1M83 73h1M118 73h1M0 72h1M10 72h2M13 72h1M99 72h1M105 72h1M3 71h1M16 71h1M105 71h1M125 71h1M3 70h1M8 70h1M25 70h1M44 70h1M79 70h1M136 70h1M2 69h1M100 69h2M109 69h1M140 69h1M0 68h1M2 68h1M10 68h1M25 68h1M84 68h1M91 68h1M6 67h1M33 67h1M68 67h1M102 67h1M125 67h1M8 66h1M22 66h1M81 66h1M97 66h2M103 66h1M110 66h1M115 66h1M6 65h1M8 65h1M18 65h2M81 65h1M93 65h1M97 65h1M126 65h1M128 65h1M136 65h1M11 64h1M13 64h1M17 64h1M37 64h1M76 64h1M106 64h1M108 64h1M119 64h1M12 63h2M81 63h1M87 63h1M125 63h1M1 62h1M3 62h1M19 62h1M24 62h1M115 62h1M122 62h1M129 62h1M3 61h1M5 61h1M9 61h2M36 61h1M84 61h1M90 61h1M107 61h1M123 61h1M139 61h1M4 60h1M19 60h1M76 60h1M87 60h1M111 60h2M121 60h1M123 60h1M129 60h1M136 60h1M3 59h1M20 59h1M41 59h1M84 59h1M93 59h1M123 59h1M128 59h1M107 58h2M121 58h1M126 58h1M129 58h1M141 58h1M11 57h1M23 57h1M25 57h1M39 57h1M44 57h1M46 57h1M53 57h1M96 57h1M114 57h2M3 56h1M35 56h1M85 56h1M89 56h1M117 56h1M122 56h1M130 56h1M136 56h1M138 56h1M5 55h1M20 55h1M54 55h1M81 55h1M85 55h1M101 55h1M104 55h1M111 55h1M127 55h1M17 54h1M19 54h1M33 54h1M35 54h1M44 54h1M106 54h1M134 54h1M14 53h1M23 53h1M35 53h1M41 53h1M44 53h1M48 53h1M105 53h1M112 53h1M130 53h1M141 53h1M63 52h1M72 52h1M96 52h1M122 52h1M125 52h1M133 52h1M141 52h1M8 51h1M16 51h1M67 51h1M83 51h1M88 51h1M114 51h1M121 51h1M129 51h1M37 50h1M63 50h1M65 50h1M83 50h1M85 50h1M93 50h1M107 50h1M123 50h1M4 49h1M12 49h1M27 49h1M34 49h2M45 49h1M66 49h1M80 49h2M83 49h1M86 49h1M96 49h1M134 49h1M140 49h1M3 48h1M16 48h1M42 48h1M77 48h1M117 48h1M130 48h2M0 47h1M11 47h1M14 47h1M37 47h1M70 47h1M80 47h1M96 47h1M105 47h2M111 47h1M130 47h1M5 46h1M47 46h1M67 46h1M71 46h1M88 46h1M93 46h1M106 46h1M120 46h2M7 45h1M21 45h1M40 45h1M46 45h1M52 45h1M59 45h1M87 45h1M143 45h1M2 44h1M7 44h1M40 44h1M47 44h1M51 44h1M65 44h1M77 44h1M101 44h1M110 44h1M7 43h1M35 43h1M52 43h1M54 43h1M93 43h1M99 43h1M101 43h1M112 43h1M114 43h1M122 43h1M141 43h1M16 42h1M23 42h1M30 42h1M103 42h1M136 42h1M143 42h1M22 41h1M29 41h2M51 41h1M66 41h1M75 41h1M78 41h1M87 41h1M25 40h1M44 40h1M47 40h1M68 40h1M98 40h1M105 40h1M116 40h1M1 39h1M6 39h1M14 39h1M18 39h1M23 39h2M34 39h1M64 39h1M95 39h1M119 39h1M143 39h1M9 38h1M32 38h1M62 38h1M67 38h1M73 38h1M76 38h1M96 38h2M99 38h4M133 38h1M0 37h1M8 37h1M13 37h1M39 37h1M43 37h1M45 37h1M68 37h1M71 37h1M4 36h1M9 36h1M22 36h1M52 36h1M63 36h1M67 36h1M72 36h1M74 36h1M85 36h2M116 36h1M0 35h1M5 35h1M17 35h1M19 35h1M34 35h1M51 35h1M92 35h1M100 35h1M113 35h1M133 35h1M3 34h2M30 34h1M48 34h1M67 34h1M69 34h1M86 34h1M102 34h1M8 33h1M16 33h1M20 33h1M40 33h1M50 33h1M52 33h1M59 33h1M72 33h1M81 33h1M90 33h1M100 33h1M11 32h1M13 32h1M16 32h1M36 32h1M52 32h1M60 32h1M63 32h1M93 32h1M0 31h1M3 31h1M34 31h1M44 31h1M46 31h1M62 31h1M65 31h1M75 31h1M81 31h1M1 30h1M13 30h1M60 30h1M84 30h1M99 30h1M107 30h1M16 29h1M30 29h1M52 29h1M73 29h1M79 29h1M81 29h1M98 29h1M117 29h1M132 29h1M0 28h1M12 28h1M32 28h1M52 28h1M72 28h1M99 28h1M112 28h1M117 28h1M17 27h1M19 27h1M31 27h1M33 27h1M66 27h1M70 27h1M87 27h1M3 26h1M22 26h1M27 26h1M36 26h1M77 26h1M90 26h1M107 26h1M15 25h1M25 25h1M48 25h1M54 25h1M89 25h1M100 25h1M115 25h1M120 25h1M132 25h1M3 24h1M5 24h1M22 24h1M28 24h1M39 24h1M85 24h1M95 24h1M100 24h1M113 24h1M125 24h1M6 23h1M16 23h1M45 23h1M47 23h1M51 23h1M53 23h1M83 23h1M93 23h1M1 22h2M17 22h1M42 22h1M50 22h1M76 22h1M4 21h2M54 21h1M90 21h1M3 20h3M7 20h1M15 20h1M44 20h1M75 20h1M129 20h1M12 19h1M21 19h1M54 19h1M93 19h1M107 19h1M65 18h1M9 17h1M14 17h1M19 17h1M31 17h1M36 17h1M40 17h1M50 17h1M86 17h1M98 17h1M3 16h1M13 16h1M17 16h1M19 16h1M27 16h1M41 16h1M66 16h1M77 16h1M79 16h1M93 16h1M116 16h1M32 15h1M35 15h1M44 15h1M50 15h1M52 15h1M66 15h1M69 15h1M76 15h1M99 15h1M101 15h1M131 15h1M13 14h1M24 14h1M79 14h1M81 14h1M96 14h1M119 14h1M14 13h1M24 13h1M45 13h2M52 13h1M65 13h1M85 13h1M110 13h1M4 12h1M7 12h1M18 12h1M28 12h1M42 12h1M47 12h1M49 12h1M52 12h1M78 12h1M129 12h1M50 11h1M56 11h1M65 11h1M68 11h1M113 11h1M120 11h1M132 11h1M3 10h1M24 10h1M56 10h1M115 10h1M29 9h1M40 9h1M49 9h1M75 9h1M79 9h1M120 9h1M0 8h1M3 8h1M13 8h1M19 8h1M28 8h1M37 8h1M49 8h1M8 7h1M14 7h1M24 7h1M36 7h1M51 7h2M115 7h1M15 6h1M24 6h1M41 6h1M51 6h1M54 6h1M75 6h1M91 6h1M95 6h1M20 5h1M48 5h1M81 5h1M95 5h1M8 4h1M19 4h1M64 4h1M68 4h1M74 4h1M94 4h1M9 3h1M106 3h1M113 3h1M131 3h1M3 2h1M48 2h1M73 2h1M89 2h1M106 2h1M111 2h1M113 2h1M115 2h1M131 2h1M50 1h1M59 1h1M17 0h1M37 0h1M78 0h1"/><path stroke="#008fff" d="M96 127h1M105 127h1M135 127h1M140 127h1M108 106h1M4 104h1M18 99h1M9 96h1M45 95h1M9 94h1M10 93h2M0 92h1M7 91h1M13 91h1M111 91h1M116 91h1M16 90h1M18 90h1M95 90h1M118 90h1M126 90h1M141 90h1M5 89h1M125 89h1M141 89h1M37 88h1M39 88h1M106 88h1M119 88h1M129 88h1M4 87h1M122 87h1M136 87h1M32 86h1M7 85h1M14 85h1M49 85h1M129 85h1M4 84h1M7 84h1M119 84h1M135 84h1M137 84h1M4 83h1M10 83h1M3 82h1M5 82h1M28 80h1M67 80h1M114 80h1M125 80h1M141 80h1M9 79h1M22 79h1M40 79h1M74 79h1M114 79h1M122 79h1M136 79h1M10 78h2M20 78h1M113 78h1M13 77h1M15 77h1M18 77h1M104 77h1M118 77h1M17 76h1M104 76h1M124 76h1M130 76h1M10 75h1M31 75h1M38 75h1M121 75h1M124 75h1M140 75h1M11 74h1M39 74h1M94 74h1M116 74h1M121 74h2M129 74h1M20 73h1M39 73h1M103 73h1M107 73h1M133 73h4M139 73h1M6 72h1M9 72h1M17 72h1M62 72h1M86 72h1M113 72h1M133 72h1M18 71h1M26 71h1M84 71h1M128 71h1M133 71h1M14 70h1M16 70h1M23 70h1M63 70h1M113 70h1M135 70h1M139 70h1M78 69h1M80 69h1M92 69h1M95 69h1M99 69h1M124 69h1M127 69h1M5 68h1M41 68h1M117 68h1M129 68h1M134 68h1M0 67h2M5 67h1M20 67h1M30 67h1M37 67h1M42 67h1M71 67h1M84 67h1M92 67h1M103 67h2M108 67h1M113 67h1M121 67h1M123 67h1M127 67h1M142 67h2M16 66h1M68 66h1M101 66h2M113 66h1M127 66h1M13 65h1M16 65h1M38 65h1M85 65h1M87 65h1M127 65h1M35 64h1M80 64h1M109 64h1M133 64h1M3 63h1M9 63h1M11 63h1M76 63h1M94 63h1M96 63h1M102 63h1M111 63h1M128 63h1M11 62h1M32 62h1M34 62h1M41 62h1M84 62h1M102 62h1M108 62h2M126 62h1M131 62h1M11 61h1M19 61h1M24 61h1M41 61h1M87 61h1M103 61h1M125 61h1M131 61h1M9 60h1M16 60h1M24 60h1M40 60h1M92 60h1M103 60h1M114 60h1M116 60h1M126 60h1M138 60h1M1 59h1M7 59h1M18 59h2M36 59h1M64 59h1M71 59h1M76 59h1M90 59h1M97 59h1M102 59h1M104 59h1M110 59h1M116 59h1M121 59h1M125 59h1M0 58h1M6 58h1M15 58h1M18 58h1M55 58h1M103 58h1M105 58h1M120 58h1M131 58h1M134 58h1M9 57h1M79 57h1M87 57h2M93 57h1M107 57h1M142 57h1M2 56h1M4 56h1M19 56h1M38 56h1M72 56h1M101 56h1M127 56h1M135 56h1M142 56h1M6 55h1M47 55h1M113 55h1M124 55h1M5 54h1M14 54h1M34 54h1M112 54h1M120 54h1M67 53h1M81 53h1M97 53h1M134 53h1M18 52h1M26 52h1M30 52h1M36 52h1M90 52h1M111 52h2M129 52h1M139 52h1M0 51h1M2 51h1M9 51h2M13 51h1M17 51h1M20 51h1M45 51h1M66 51h1M82 51h1M93 51h1M120 51h1M15 50h1M36 50h1M38 50h1M41 50h1M56 50h1M76 50h1M90 50h1M130 50h1M1 49h1M20 49h1M22 49h2M67 49h1M78 49h1M93 49h1M99 49h1M121 49h1M131 49h1M139 49h1M34 48h1M38 48h1M45 48h1M85 48h1M93 48h1M102 48h1M32 47h1M44 47h2M54 47h1M75 47h1M82 47h1M100 47h1M113 47h1M115 47h2M10 46h1M12 46h1M20 46h1M25 46h1M32 46h1M42 46h1M89 46h1M123 46h1M125 46h1M2 45h1M6 45h1M32 45h1M65 45h1M73 45h1M109 45h1M12 44h1M18 44h1M34 44h1M83 44h1M89 44h1M94 44h1M98 44h2M2 43h1M10 43h1M29 43h1M42 43h1M67 43h1M71 43h1M91 43h1M94 43h1M100 43h1M103 43h1M109 43h1M119 43h1M121 43h1M21 42h1M24 42h1M35 42h1M41 42h1M48 42h1M53 42h1M67 42h1M86 42h1M92 42h1M98 42h1M105 42h1M114 42h1M132 42h1M45 41h1M53 41h1M86 41h1M91 41h1M93 41h1M22 40h2M29 40h2M66 40h2M88 40h1M94 40h1M100 40h1M7 39h1M51 39h1M68 39h1M94 39h1M97 39h1M110 39h1M24 38h1M38 38h1M63 38h1M75 38h1M81 38h1M87 38h1M90 38h1M115 38h1M65 37h1M74 37h1M98 37h1M113 37h1M11 36h1M20 36h1M29 36h1M44 36h1M98 36h1M108 36h1M113 36h1M44 35h1M69 35h1M72 35h1M85 35h1M23 34h1M34 34h1M42 34h1M54 34h1M56 34h1M62 34h1M82 34h1M130 34h1M23 33h1M26 33h1M70 33h1M126 33h1M17 32h1M27 32h1M40 32h1M56 32h1M78 32h1M81 32h1M5 31h1M27 31h1M57 31h1M73 31h1M84 31h1M87 31h1M5 30h1M21 30h1M46 30h1M72 30h1M86 30h1M98 30h1M109 30h1M12 29h1M14 29h1M53 29h1M61 29h1M89 29h1M97 29h1M100 29h1M17 28h1M20 28h1M27 28h1M51 28h1M67 28h1M70 28h1M87 28h1M91 28h1M96 28h1M8 27h1M20 27h1M24 27h1M30 27h1M50 27h1M53 27h1M83 27h1M128 27h1M6 26h1M28 26h1M30 26h2M44 26h1M89 26h1M94 26h1M120 26h1M124 26h1M5 25h1M16 25h1M47 25h1M52 25h1M56 25h1M73 25h1M98 25h1M15 24h2M23 24h1M64 24h1M68 24h1M76 24h1M83 24h1M99 24h1M18 23h1M48 23h2M8 22h1M18 22h1M27 22h1M73 22h1M78 22h1M17 21h1M50 21h1M69 21h1M29 20h1M36 20h1M23 19h1M47 19h1M75 19h2M95 19h1M111 19h1M123 19h1M21 18h2M33 18h1M47 18h1M51 18h2M59 18h1M95 18h1M24 17h1M67 17h1M75 17h1M56 16h1M87 16h1M91 16h1M99 16h1M23 15h1M74 15h1M19 14h1M26 14h1M56 14h1M62 14h1M69 14h1M100 14h1M16 13h1M31 13h1M33 13h1M47 13h1M73 12h1M99 12h1M0 11h1M23 11h1M33 11h1M67 11h1M23 10h1M39 10h1M67 10h1M92 10h1M16 9h1M20 9h1M26 9h1M55 9h1M67 9h1M92 9h1M17 8h1M25 8h1M39 8h1M52 8h1M62 8h1M97 8h1M1 7h1M6 7h1M23 7h1M50 7h1M11 6h1M81 6h1M14 5h1M49 5h1M73 5h1M131 5h1M4 4h1M48 4h2M111 4h1M131 4h1M8 3h1M11 3h1M47 3h1M25 2h1M52 2h1M3 1h1M7 1h1M14 1h1M25 1h1M46 1h1M48 1h1M57 1h1M77 1h1M81 1h1M87 1h1M111 0h2"/><path stroke="#009fff" d="M29 127h1M79 127h1M98 127h1M108 127h1M121 127h1M125 127h1M2 115h1M0 106h1M5 105h1M141 103h1M124 98h1M0 96h1M128 96h1M21 94h1M128 92h1M10 91h1M14 91h1M16 91h1M93 91h1M142 91h1M0 90h1M125 90h1M135 90h1M0 89h1M131 89h1M133 89h1M7 88h1M113 87h1M128 87h1M133 87h1M140 87h1M3 86h1M7 86h1M101 86h1M131 86h1M135 86h1M143 86h1M25 85h1M33 85h1M35 85h1M116 85h1M136 85h1M141 85h1M8 84h1M23 84h1M103 84h2M127 84h1M129 84h1M140 84h1M16 83h1M48 83h1M116 83h1M48 82h1M83 82h1M121 82h1M133 82h1M1 81h1M15 80h1M71 80h1M111 80h1M118 80h1M138 80h1M4 79h1M35 79h1M138 79h1M7 78h2M39 78h1M115 78h2M139 78h2M4 77h1M8 77h1M81 77h1M84 77h1M94 77h1M110 77h1M116 77h1M128 77h1M7 76h1M18 76h1M29 76h1M54 76h1M80 76h1M99 76h1M114 76h1M118 76h1M129 76h1M4 75h1M32 75h1M85 75h2M90 75h1M105 75h1M112 75h1M114 75h1M127 75h1M138 75h1M1 74h1M5 74h1M35 74h1M85 74h1M90 74h1M113 74h2M118 74h2M0 73h1M14 73h1M31 73h1M86 73h1M114 73h2M129 73h1M131 73h1M140 73h1M33 72h1M44 72h1M64 72h2M81 72h1M100 72h1M106 72h1M123 72h1M126 72h1M142 72h1M1 71h2M23 71h1M31 71h2M45 71h1M95 71h1M113 71h1M115 71h1M127 71h1M134 71h1M4 70h1M6 70h1M10 70h1M38 70h1M90 70h1M102 70h1M138 70h1M5 69h1M33 69h1M81 69h1M85 69h1M88 69h1M119 69h1M126 69h1M4 68h1M13 68h1M16 68h1M21 68h1M24 68h1M81 68h1M86 68h1M88 68h1M121 68h1M16 67h1M31 67h1M88 67h1M90 67h1M94 67h1M98 67h1M129 67h1M6 66h1M11 66h1M19 66h1M32 66h1M93 66h1M108 66h1M112 66h1M128 66h1M2 65h1M9 65h2M14 65h1M37 65h1M74 65h1M84 65h1M24 64h1M89 64h1M111 64h1M114 64h1M131 64h1M136 64h1M4 63h1M26 63h1M69 63h1M71 63h1M80 63h1M112 63h1M122 63h1M133 63h1M139 63h1M37 62h1M39 62h1M43 62h1M63 62h1M65 62h1M79 62h1M116 62h1M118 62h1M130 62h1M2 61h1M7 61h1M15 61h1M21 61h1M23 61h1M34 61h1M69 61h1M81 61h1M89 61h1M92 61h1M99 61h1M110 61h1M112 61h1M121 61h1M138 61h1M15 60h1M21 60h1M37 60h1M50 60h1M93 60h1M118 60h1M127 60h2M14 59h2M66 59h1M87 59h1M108 59h2M115 59h1M122 59h1M126 59h1M130 59h1M142 59h1M16 58h1M24 58h1M32 58h1M39 58h1M42 58h1M80 58h1M88 58h1M92 58h1M102 58h1M1 57h1M22 57h1M65 57h1M69 57h1M85 57h1M109 57h1M113 57h1M136 57h1M0 56h1M7 56h1M9 56h1M33 56h1M55 56h1M95 56h1M100 56h1M107 56h1M115 56h1M124 56h1M126 56h1M131 56h1M12 55h1M23 55h1M91 55h1M99 55h1M106 55h1M115 55h1M134 55h1M3 54h1M39 54h1M82 54h2M85 54h1M111 54h1M122 54h1M0 53h1M12 53h1M50 53h1M53 53h2M69 53h1M84 53h1M86 53h1M8 52h1M15 52h1M49 52h1M51 52h1M79 52h1M87 52h1M97 52h1M117 52h1M123 52h1M130 52h1M6 51h1M14 51h1M32 51h1M34 51h1M52 51h1M63 51h1M73 51h1M81 51h1M87 51h1M66 50h1M70 50h1M82 50h1M100 50h1M111 50h2M121 50h1M125 50h1M131 50h1M137 50h1M24 49h1M37 49h1M87 49h1M128 49h1M135 49h1M5 48h1M15 48h1M25 48h1M31 48h1M36 48h1M43 48h1M46 48h1M75 48h1M122 48h1M12 47h1M16 47h1M19 47h1M25 47h1M52 47h1M123 47h1M1 46h1M68 46h1M90 46h1M97 46h1M110 46h1M114 46h1M127 46h1M130 46h1M0 45h1M23 45h1M26 45h1M33 45h1M50 45h1M90 45h2M99 45h1M105 45h1M13 44h1M23 44h1M25 44h1M33 44h1M37 44h2M62 44h1M64 44h1M69 44h1M82 44h1M96 44h1M115 44h1M127 44h1M141 44h1M19 43h1M22 43h1M26 43h1M38 43h1M40 43h1M62 43h1M75 43h1M90 43h1M98 43h1M110 43h1M129 43h1M2 42h1M4 42h1M31 42h1M40 42h1M122 42h1M25 41h1M40 41h1M64 41h1M105 41h1M107 41h1M1 40h1M4 40h1M19 40h1M26 40h1M52 40h1M74 40h1M80 40h1M95 40h1M99 40h1M44 39h1M55 39h1M69 39h1M74 39h1M89 39h1M14 38h1M16 38h1M36 38h1M39 38h1M51 38h1M80 38h1M3 37h1M12 37h1M19 37h1M26 37h1M32 37h1M35 37h1M52 37h1M72 37h1M76 37h2M81 37h1M102 37h1M3 36h1M23 36h1M53 36h1M65 36h1M93 36h1M99 36h1M102 36h1M26 35h1M57 35h1M67 35h1M89 35h1M22 34h1M29 34h1M52 34h1M97 34h1M116 34h1M3 33h1M41 33h1M46 33h1M48 33h1M51 33h1M93 33h1M97 33h1M14 32h1M24 32h1M86 32h1M4 31h1M25 31h1M45 31h1M63 31h1M72 31h1M128 31h1M2 30h1M32 30h1M62 30h1M5 29h1M20 29h1M36 29h1M84 29h1M96 29h1M3 28h1M9 28h1M21 28h1M23 28h1M28 28h1M50 28h1M119 28h1M3 27h1M22 27h1M28 27h1M77 27h1M119 27h1M132 27h1M17 26h3M38 26h1M52 26h1M54 26h1M109 26h1M3 25h1M26 25h2M30 25h1M39 25h1M2 24h1M4 24h1M55 24h1M132 24h1M21 23h1M28 23h1M86 23h1M120 23h1M49 22h1M54 22h1M62 22h1M82 22h1M98 22h1M120 22h1M1 21h2M27 21h1M51 21h1M60 21h1M98 21h1M128 21h1M25 20h1M28 20h1M31 20h1M99 20h1M5 19h1M19 19h1M119 19h1M2 18h1M23 18h1M48 18h1M76 18h1M97 18h1M17 17h1M20 17h1M25 17h1M48 17h1M51 17h1M79 17h1M2 16h1M36 16h1M48 16h1M50 16h1M74 16h1M119 16h1M17 15h1M20 15h1M24 15h1M27 15h2M77 15h1M119 15h1M15 14h1M18 14h1M20 14h1M30 14h1M65 14h1M7 13h1M18 13h1M49 13h1M99 13h1M3 12h1M14 12h1M16 12h1M23 12h1M45 12h1M56 12h1M110 12h1M1 11h1M11 11h1M26 11h2M55 11h1M58 11h1M1 10h1M7 10h1M13 10h1M120 10h1M13 9h1M27 9h1M54 9h1M97 9h1M119 9h1M51 8h1M67 8h1M119 8h1M62 7h1M9 6h1M39 6h1M53 6h1M75 5h1M109 5h1M22 4h1M27 4h1M37 4h1M50 4h2M56 4h1M44 3h1M87 3h1M100 3h1M111 3h1M115 3h1M7 2h1M10 2h1M24 2h1M33 2h1M75 2h1M100 2h1M28 1h1M54 1h1M63 1h1M99 1h1M40 0h1M52 0h1M57 0h1M62 0h1"/><path stroke="#00afff" d="M49 127h1M126 127h1M127 126h1M8 112h1M115 112h1M68 111h1M119 110h1M37 105h1M140 104h1M126 103h1M4 102h1M7 100h1M9 98h1M13 97h2M25 97h1M93 97h1M128 97h1M12 96h1M1 95h1M3 94h1M18 93h1M71 93h1M110 93h1M118 93h2M4 92h1M14 92h1M132 91h1M4 90h1M101 90h1M121 90h1M128 90h1M133 90h1M123 89h1M129 89h1M0 88h1M5 88h1M10 88h1M32 88h1M70 88h1M109 88h1M125 88h1M140 88h2M32 87h1M96 87h1M102 87h1M127 87h1M13 86h1M35 86h1M120 86h1M137 86h1M142 86h1M12 85h1M16 85h1M23 85h1M124 85h1M130 85h1M134 85h1M10 84h1M36 84h1M41 84h1M101 84h1M131 84h1M3 83h1M11 83h1M17 83h1M39 83h1M81 83h1M126 83h1M82 82h1M105 82h1M143 82h1M12 81h1M16 81h2M20 81h1M29 81h1M33 81h1M86 81h1M93 81h1M111 81h1M136 81h1M3 80h1M18 80h2M21 80h1M26 80h1M107 80h1M142 80h1M2 79h1M17 79h1M39 79h1M45 79h1M108 79h1M111 79h1M126 79h2M0 78h1M2 78h1M18 78h1M40 78h1M65 78h1M101 78h2M131 78h1M7 77h1M12 77h1M80 77h1M15 76h1M81 76h1M128 76h1M16 75h1M68 75h1M80 75h1M100 75h1M106 75h1M118 75h1M122 75h1M82 74h1M95 74h1M104 74h1M117 74h1M131 74h1M135 74h1M10 73h1M35 73h1M85 73h1M88 73h1M119 73h1M32 72h1M87 72h1M103 72h1M114 72h1M6 71h1M36 71h1M99 71h1M122 71h3M5 70h1M18 70h1M36 70h1M88 70h1M109 70h1M112 70h1M127 70h1M52 69h1M62 69h1M118 69h1M138 69h1M1 68h1M26 68h1M36 68h1M79 68h1M94 68h1M106 68h1M123 68h1M125 68h2M7 67h1M11 67h1M36 67h1M101 67h1M3 66h1M13 66h1M41 66h1M43 66h1M60 66h1M84 66h1M107 66h1M116 66h1M119 66h1M122 66h1M125 66h1M141 66h1M21 65h1M79 65h1M90 65h1M95 65h1M15 64h1M83 64h1M127 64h1M130 64h1M139 64h1M14 63h1M32 63h1M79 63h1M82 63h1M85 63h1M108 63h1M131 63h1M141 63h1M17 62h1M85 62h1M90 62h3M119 62h1M33 61h1M118 61h1M134 61h1M136 61h1M142 61h1M46 60h1M53 60h1M89 60h2M100 60h1M107 60h1M109 60h1M67 59h1M80 59h2M85 59h1M94 59h1M99 59h1M133 59h2M7 58h1M19 58h1M23 58h1M38 58h1M52 58h1M85 58h1M94 58h1M109 58h1M112 58h1M124 58h2M130 58h1M3 57h1M10 57h1M70 57h1M76 57h1M84 57h1M99 57h2M141 57h1M17 56h1M24 56h1M32 56h1M41 56h1M53 56h1M65 56h1M75 56h1M87 56h1M105 56h1M2 55h1M7 55h1M11 55h1M38 55h1M71 55h1M83 55h1M107 55h1M119 55h1M133 55h1M2 54h1M55 54h1M64 54h1M75 54h1M87 54h2M37 53h1M63 53h1M65 53h1M80 53h1M96 53h1M120 53h1M0 52h1M5 52h1M16 52h1M23 52h1M39 52h1M64 52h1M95 52h1M4 51h2M7 51h1M31 51h1M38 51h1M48 51h1M72 51h1M74 51h1M111 51h2M14 50h1M17 50h1M45 50h1M61 50h1M67 50h1M69 50h1M87 50h1M26 49h1M36 49h1M38 49h2M57 49h1M69 49h1M71 49h1M74 49h1M76 49h2M90 49h1M95 49h1M105 49h1M117 49h1M17 48h1M40 48h2M53 48h1M59 48h1M65 48h1M80 48h1M90 48h1M95 48h1M113 48h1M6 47h1M61 47h1M65 47h1M68 47h1M76 47h1M88 47h1M94 47h1M97 47h1M0 46h1M54 46h1M66 46h1M73 46h1M99 46h1M105 46h1M134 46h1M10 45h2M35 45h1M44 45h1M64 45h1M83 45h2M98 45h1M1 44h1M3 44h1M42 44h1M52 44h1M66 44h1M93 44h1M109 44h1M5 43h1M18 43h1M25 43h1M55 43h1M86 43h1M92 43h1M95 43h1M97 43h1M25 42h1M36 42h1M62 42h1M75 42h1M77 42h1M94 42h2M15 41h1M46 41h2M54 41h1M73 41h1M6 40h2M15 40h1M20 40h1M46 40h1M54 40h1M63 40h1M77 40h1M91 40h1M96 40h1M13 39h1M25 39h1M29 39h1M31 39h1M63 39h1M72 39h1M82 39h1M21 38h1M20 37h1M25 37h1M48 37h1M84 37h1M97 37h1M24 36h3M32 36h1M62 36h1M82 36h1M97 36h1M100 36h1M31 35h1M74 35h1M108 35h1M116 35h1M26 34h1M31 34h2M36 34h1M41 34h1M45 34h1M72 34h1M18 33h1M27 33h1M29 33h1M2 32h1M100 32h1M132 32h1M47 31h1M59 31h1M109 31h1M47 30h1M81 30h1M15 29h1M32 29h1M57 29h1M68 29h1M40 28h1M49 28h1M58 28h1M61 28h1M73 28h1M97 28h1M26 27h2M49 27h1M72 27h1M1 26h1M4 26h1M14 26h1M58 26h1M61 26h1M66 26h1M18 25h1M36 25h1M44 25h1M59 25h1M18 24h2M26 24h2M36 24h1M48 24h1M62 24h1M1 23h1M19 23h1M50 23h1M55 23h1M58 23h1M71 23h1M76 23h1M29 22h1M51 22h1M86 22h1M97 22h1M21 21h1M26 21h1M1 20h1M17 20h1M19 20h1M40 20h1M74 20h1M1 19h1M24 19h1M27 19h1M57 19h1M132 19h1M16 18h1M28 18h1M31 18h1M93 18h1M119 18h1M29 17h1M55 17h1M93 17h1M15 16h1M26 16h1M32 16h1M76 16h1M15 15h1M29 15h1M61 15h1M132 15h1M16 14h1M51 14h1M3 13h1M28 13h1M30 13h1M54 13h2M79 13h1M33 12h1M14 11h1M16 11h2M20 10h1M39 9h1M48 9h1M73 9h1M96 9h1M57 8h1M96 8h1M26 7h1M53 7h2M14 6h1M21 6h1M25 6h1M73 6h1M120 6h1M132 6h1M3 5h1M16 5h1M50 5h2M68 5h1M36 4h1M4 3h1M17 3h1M33 3h1M50 2h1M5 1h1M29 1h1"/><path stroke="#00bfff" d="M4 127h1M45 127h1M101 127h1M115 127h1M137 126h1M9 116h1M129 113h1M133 110h1M9 105h1M36 104h1M106 104h1M15 102h1M133 102h1M10 101h1M129 101h1M124 99h1M40 98h1M3 97h1M40 97h1M11 96h1M17 96h1M8 94h1M12 94h1M131 94h1M12 93h1M123 93h1M8 92h1M4 91h1M18 91h1M80 91h1M107 91h1M126 91h1M30 90h1M11 89h2M112 89h1M140 89h1M18 88h1M93 87h1M0 86h1M2 86h1M4 86h3M15 86h1M17 86h1M36 86h1M47 86h1M110 86h1M9 85h1M11 85h1M20 85h1M102 85h1M123 85h1M142 85h2M30 84h1M106 84h1M114 84h1M124 84h1M130 84h1M7 83h1M93 83h1M103 83h1M108 83h1M114 83h1M119 83h1M127 83h1M143 83h1M68 82h1M92 82h1M95 82h1M100 82h1M102 82h1M129 82h1M136 82h1M44 81h1M119 81h1M134 81h1M40 80h1M56 80h1M106 80h1M108 80h1M113 80h1M116 80h1M135 80h1M139 80h1M13 79h1M66 79h1M72 79h1M83 79h1M88 79h1M99 79h1M102 79h1M129 79h1M131 79h1M16 78h1M24 78h1M88 78h1M93 78h1M119 78h1M123 78h1M25 77h1M38 77h1M79 77h1M83 77h1M115 77h1M123 77h1M126 77h1M2 76h1M6 76h1M32 76h1M36 76h1M92 76h1M95 76h1M105 76h2M115 76h1M117 76h1M126 76h1M109 75h1M115 75h1M10 74h1M20 74h1M84 74h1M127 74h2M139 74h1M5 73h1M16 73h2M32 73h2M43 73h1M89 73h1M93 73h2M104 73h1M122 73h1M138 73h1M5 72h1M42 72h1M85 72h1M88 72h1M108 72h1M11 71h1M20 71h1M65 71h1M68 71h1M85 71h1M27 70h1M32 70h1M35 70h1M37 70h1M41 70h1M68 70h1M92 70h1M117 70h1M129 70h1M40 69h2M45 69h1M68 69h1M94 69h1M106 69h1M108 69h1M28 68h1M42 68h1M85 68h1M93 68h1M103 68h1M107 68h1M112 68h1M13 67h1M21 67h1M25 67h1M39 67h1M97 67h1M110 67h1M7 66h1M34 66h1M36 66h1M46 66h1M51 66h1M63 66h1M87 66h2M90 66h1M94 66h1M120 66h2M3 65h2M98 65h1M114 65h1M121 65h1M123 65h1M130 65h1M50 64h1M90 64h1M94 64h2M99 64h1M101 64h2M110 64h1M117 64h1M120 64h1M141 64h1M36 63h1M42 63h1M50 63h1M77 63h1M86 63h1M90 63h1M103 63h1M107 63h1M115 63h1M4 62h1M40 62h1M45 62h1M54 62h1M95 62h1M100 62h1M103 62h1M1 61h1M37 61h1M39 61h1M47 61h1M66 61h1M102 61h1M109 61h1M115 61h1M10 60h1M31 60h1M42 60h1M85 60h1M110 60h1M117 60h1M134 60h1M16 59h1M22 59h2M37 59h1M48 59h1M83 59h1M96 59h1M101 59h1M103 59h1M10 58h1M21 58h2M26 58h1M36 58h2M45 58h1M65 58h1M99 58h2M116 58h1M119 58h1M132 58h1M32 57h1M35 57h1M58 57h1M73 57h1M112 57h1M124 57h1M131 57h1M133 57h1M43 56h1M47 56h1M74 56h1M84 56h1M133 56h1M4 55h1M25 55h1M64 55h1M76 55h1M89 55h1M98 55h1M117 55h1M11 54h2M15 54h1M80 54h1M86 54h1M91 54h1M99 54h1M117 54h1M128 54h1M6 53h1M15 53h1M36 53h1M64 53h1M68 53h1M87 53h1M90 53h1M102 53h1M122 53h1M135 53h1M6 52h1M25 52h1M34 52h1M48 52h1M58 52h2M81 52h1M89 52h1M101 52h1M114 52h1M26 51h1M46 51h1M51 51h1M89 51h1M123 51h1M2 50h1M4 50h1M21 50h1M23 50h1M25 50h1M29 50h1M88 50h1M91 50h1M102 50h1M105 50h1M119 50h1M122 50h1M15 49h1M17 49h1M29 49h1M41 49h1M44 49h1M53 49h1M60 49h1M92 49h1M122 49h1M2 48h1M12 48h1M19 48h2M35 48h1M49 48h2M92 48h1M134 48h1M39 47h1M90 47h1M92 47h2M114 47h1M2 46h1M14 46h1M31 46h1M53 46h1M77 46h1M82 46h1M84 46h1M98 46h1M3 45h1M36 45h1M77 45h1M96 45h1M102 45h1M127 45h1M8 44h1M32 44h1M41 44h1M48 44h2M57 44h1M71 44h1M74 44h1M86 44h1M90 44h1M97 44h1M3 43h1M20 43h1M31 43h1M36 43h1M45 43h2M69 43h1M73 43h1M115 43h1M20 42h1M37 42h1M55 42h2M97 42h1M99 42h1M0 41h1M3 41h1M16 41h1M21 41h1M68 41h1M77 41h1M94 41h1M3 40h1M37 40h1M41 40h1M53 40h1M59 40h1M84 40h1M132 40h1M2 39h1M52 39h2M71 39h1M99 39h1M25 38h1M64 38h1M2 37h1M11 37h1M50 37h1M80 36h1M84 36h1M46 35h1M49 35h1M97 35h1M132 35h1M53 34h1M58 34h2M73 34h1M89 34h1M99 34h1M132 34h1M36 33h1M86 33h1M89 33h1M3 32h1M20 32h1M28 32h1M65 32h1M13 31h1M56 31h1M89 31h1M52 30h1M57 30h1M89 30h1M17 29h1M19 29h1M40 29h1M51 29h1M99 29h1M54 28h1M57 28h1M23 27h1M120 27h1M124 27h1M47 26h1M50 26h1M2 25h1M24 24h1M71 24h1M14 23h1M54 23h1M21 22h1M26 22h1M25 21h1M31 21h1M40 21h1M42 21h1M53 21h1M59 21h1M26 20h1M55 20h1M60 20h1M76 20h1M49 19h1M62 19h1M17 18h1M62 18h1M75 18h1M2 17h1M15 17h1M56 17h2M76 17h1M91 17h1M23 16h1M29 16h2M52 16h1M57 16h2M100 16h1M19 13h1M25 13h3M60 13h1M89 13h1M17 12h1M29 12h1M89 12h1M132 12h1M55 10h1M58 10h1M56 9h1M58 9h1M132 9h1M56 8h1M59 8h1M25 7h1M28 7h1M22 5h1M37 5h1M120 5h1M24 4h1M26 4h1M28 4h1M24 3h1M36 2h1M11 1h1M26 1h1M49 0h1"/><path stroke="#00cfff" d="M17 127h1M21 127h1M93 127h1M120 120h1M4 118h1M101 117h1M129 116h1M122 115h1M8 106h1M9 103h1M19 103h1M83 101h1M95 101h1M116 100h1M5 99h1M9 99h1M8 98h1M14 98h2M98 98h1M121 98h1M128 98h1M112 96h1M11 95h2M99 95h1M118 95h1M141 95h1M18 94h1M20 94h1M6 93h1M8 93h1M20 93h1M128 93h1M133 93h1M20 92h1M86 92h1M131 92h1M140 92h1M142 92h1M0 91h1M17 91h1M95 91h1M9 90h1M14 90h1M21 90h1M38 90h1M114 90h1M122 90h1M2 89h1M7 89h1M109 89h1M118 89h1M35 88h1M124 88h1M126 88h1M142 88h1M0 87h1M8 87h1M119 87h1M129 87h1M138 87h1M49 86h1M103 86h1M122 86h1M37 85h1M104 85h1M106 85h1M114 85h1M3 84h1M9 84h1M35 84h1M60 84h1M75 84h1M121 84h1M128 84h1M12 83h1M21 83h1M79 83h1M85 83h1M121 83h1M131 83h1M16 82h1M79 82h1M113 82h1M124 82h1M134 82h1M139 82h1M0 81h1M11 81h1M88 81h1M102 81h2M140 81h1M4 80h1M20 80h1M72 80h1M104 80h1M117 80h1M130 80h1M134 80h1M143 80h1M20 79h1M70 79h2M77 79h1M81 79h1M89 79h2M115 79h1M135 79h1M3 78h1M6 78h1M13 78h1M68 78h1M79 78h1M81 78h1M95 78h1M103 78h1M106 78h1M124 78h1M16 77h1M32 77h2M41 77h1M69 77h1M89 77h1M96 77h1M103 77h1M106 77h1M136 77h1M138 77h2M13 76h1M16 76h1M87 76h1M102 76h1M46 75h2M83 75h1M88 75h1M92 75h1M98 75h2M102 75h1M139 75h1M141 75h1M9 74h1M93 74h1M3 73h1M9 73h1M62 73h1M78 73h1M84 73h1M100 73h1M102 73h1M123 73h1M128 73h1M16 72h1M20 72h1M93 72h1M107 72h1M115 72h1M117 72h1M122 72h1M138 72h1M12 71h1M21 71h1M102 71h1M109 71h1M111 71h1M114 71h1M129 71h1M31 70h1M70 70h1M96 70h2M99 70h1M18 69h1M24 69h1M35 69h1M51 69h1M72 69h1M79 69h1M104 69h1M107 69h1M112 69h1M114 69h1M117 69h1M15 68h1M34 68h1M37 68h2M66 68h1M104 68h1M114 68h1M141 68h1M3 67h2M43 67h1M76 67h1M79 67h1M85 67h1M89 67h1M91 67h1M120 67h1M122 67h1M2 66h1M74 66h1M83 66h1M85 66h1M95 66h1M22 65h1M26 65h1M28 65h1M39 65h1M83 65h1M102 65h1M14 64h1M41 64h1M43 64h1M79 64h1M97 64h1M105 64h1M118 64h1M121 64h1M125 64h1M129 64h1M15 63h1M17 63h1M24 63h2M35 63h1M116 63h1M129 63h1M2 62h1M15 62h1M94 62h1M101 62h1M107 62h1M123 62h1M44 61h1M51 61h1M68 61h1M85 61h1M95 61h1M100 61h1M117 61h1M3 60h1M7 60h1M23 60h1M25 60h1M51 60h1M66 60h1M80 60h1M86 60h1M94 60h2M98 60h1M102 60h1M24 59h1M27 59h1M33 59h1M70 59h1M129 59h1M31 58h1M54 58h1M93 58h1M97 58h1M133 58h1M19 57h1M43 57h1M48 57h1M105 57h1M119 57h1M25 56h1M31 56h1M45 56h1M94 56h1M98 56h1M113 56h1M0 55h1M33 55h2M66 55h1M88 55h1M97 55h1M100 55h1M109 55h1M6 54h1M40 54h1M50 54h1M53 54h1M70 54h2M81 54h1M100 54h1M107 54h1M114 54h1M2 53h1M24 53h1M26 53h1M34 53h1M40 53h1M72 53h1M78 53h1M95 53h1M98 53h1M114 53h1M128 53h1M2 52h1M21 52h2M44 52h1M46 52h1M50 52h1M92 52h1M99 52h1M102 52h1M120 52h1M15 51h1M25 51h1M29 51h1M44 51h1M47 51h1M91 51h1M97 51h1M100 51h1M125 51h1M27 50h1M30 50h2M95 50h1M98 50h1M19 49h1M43 49h1M46 49h1M63 49h1M65 49h1M73 49h1M85 49h1M94 49h1M26 48h1M39 48h1M48 48h1M91 48h1M3 47h1M20 47h1M47 47h1M91 47h1M95 47h1M134 47h1M6 46h1M11 46h1M19 46h1M22 46h1M30 46h1M39 46h1M44 46h1M8 45h1M15 45h1M22 45h1M24 45h1M29 45h1M39 45h1M48 45h1M67 45h1M79 45h1M82 45h1M89 45h1M119 45h1M22 44h1M36 44h1M44 44h1M63 44h1M67 44h1M72 44h1M95 44h1M102 44h1M13 43h1M27 43h1M56 43h1M3 42h1M50 42h1M52 42h1M54 42h1M58 42h1M74 42h1M67 41h1M71 41h1M99 41h1M73 40h1M21 39h1M56 39h1M73 39h1M80 39h1M96 39h1M100 39h1M2 38h1M13 38h1M54 38h1M68 38h1M95 38h1M14 37h1M23 37h1M58 37h1M64 37h1M80 37h1M95 37h1M28 36h1M50 36h1M54 36h1M24 35h1M58 35h1M62 35h1M65 35h1M73 35h1M82 35h1M46 34h1M51 34h1M58 33h1M18 32h1M12 31h1M14 31h1M53 31h1M0 30h1M53 30h1M14 28h1M24 28h1M0 27h1M73 27h1M109 27h1M0 26h1M73 26h1M29 25h1M57 25h2M29 24h1M52 24h1M24 23h1M29 23h1M97 23h1M132 23h1M53 22h1M57 22h1M59 22h1M55 21h1M16 20h1M48 19h1M67 19h1M74 19h1M26 18h2M58 18h1M67 18h1M30 17h1M33 17h1M49 17h1M18 16h1M24 16h2M62 16h1M18 15h1M25 15h1M55 15h1M25 14h1M54 14h1M29 13h1M61 13h1M19 12h1M24 12h1M26 12h1M23 9h1M36 9h1M50 9h1M18 8h1M21 8h1M23 8h1M36 8h1M48 8h1M50 8h1M2 7h2M18 7h1M73 7h1M2 6h1M28 5h1M26 3h2M36 3h1M73 3h1M28 2h1M49 2h1M55 2h1M49 1h1M52 1h1M58 1h1M60 1h1M115 1h1M14 0h1M99 0h1"/><path stroke="#00dfff" d="M26 127h1M78 127h1M83 127h2M107 127h1M123 126h1M129 126h1M98 117h1M109 117h1M129 117h1M101 116h1M98 114h1M98 112h1M8 111h1M131 111h1M4 108h1M34 108h1M5 107h1M142 107h1M12 106h1M11 105h1M113 105h1M119 105h1M3 102h1M115 102h1M63 101h1M135 101h1M3 100h1M67 95h1M114 94h1M9 93h1M67 93h1M114 93h1M130 93h1M9 92h1M18 92h1M108 92h1M21 91h1M104 91h1M120 91h1M130 91h1M2 90h2M5 90h1M12 90h1M84 90h1M98 90h1M131 90h1M14 89h2M17 89h1M68 89h1M82 89h1M130 89h1M132 89h1M135 89h1M130 88h1M135 88h1M15 87h1M101 87h1M125 87h1M143 87h1M10 86h1M45 86h1M102 86h1M105 86h1M112 86h2M119 86h1M0 85h1M8 85h1M36 85h1M92 85h1M118 85h1M22 84h1M32 84h1M118 84h1M123 84h1M126 84h1M136 84h1M142 84h1M2 83h1M23 83h1M36 83h1M38 83h1M69 83h1M90 83h1M104 83h1M107 83h1M130 83h1M134 83h1M136 83h1M0 82h1M19 82h1M111 82h1M114 82h1M126 82h1M13 81h1M71 81h1M75 81h1M92 81h1M101 81h1M113 81h1M117 81h1M12 80h2M16 80h2M45 80h1M53 80h1M85 80h1M98 80h1M124 80h1M127 80h1M129 80h1M11 79h1M65 79h1M103 79h1M117 79h1M35 78h1M87 78h1M89 78h1M100 78h1M104 78h1M109 78h2M126 78h1M134 78h1M3 77h1M10 77h1M20 77h1M42 77h1M88 77h1M90 77h1M102 77h1M111 77h1M12 76h1M23 76h1M39 76h1M76 76h1M79 76h1M89 76h1M91 76h1M103 76h1M116 76h1M119 76h1M139 76h1M0 75h1M3 75h1M13 75h1M30 75h1M97 75h1M103 75h1M6 74h1M17 74h1M71 74h1M78 74h1M83 74h1M88 74h1M107 74h1M109 74h1M112 74h1M124 74h1M138 74h1M141 74h1M19 73h1M42 73h1M71 73h1M81 73h1M106 73h1M109 73h1M121 73h1M2 72h1M25 72h1M47 72h1M109 72h1M10 71h1M69 71h1M78 71h1M106 71h1M112 71h1M26 70h1M47 70h1M121 70h1M134 70h1M3 69h1M9 69h2M44 69h1M86 69h1M102 69h1M116 69h1M123 69h1M3 68h1M22 68h1M30 68h1M90 68h1M98 68h1M138 68h1M15 67h1M27 67h1M65 67h1M77 67h1M83 67h1M95 67h1M105 67h1M1 66h1M4 66h1M9 66h1M23 66h1M25 66h1M30 66h1M48 66h1M79 66h1M92 66h1M132 66h1M42 65h1M78 65h1M94 65h1M125 65h1M30 64h1M32 64h1M42 64h1M51 64h1M71 64h1M21 63h1M43 63h1M61 63h1M65 63h1M117 63h1M13 62h1M22 62h1M29 62h2M38 62h1M69 62h2M74 62h1M77 62h1M99 62h1M110 62h1M121 62h1M6 61h1M46 61h1M70 61h1M78 61h1M91 61h1M13 60h1M41 60h1M60 60h1M96 60h1M142 60h1M44 59h1M65 59h1M1 58h1M30 58h1M47 58h1M63 58h1M90 58h1M98 58h1M21 57h1M26 57h1M37 57h1M41 57h2M81 57h1M98 57h1M26 56h1M70 56h1M76 56h1M92 56h1M22 55h1M24 55h1M26 55h1M39 55h1M42 55h1M87 55h1M0 54h1M22 54h1M25 54h1M27 54h1M47 54h2M51 54h1M67 54h1M90 54h1M97 54h1M109 54h1M43 53h1M55 53h1M75 53h2M79 53h1M91 53h1M99 53h1M1 52h1M29 52h1M42 52h1M91 52h1M23 51h2M30 51h1M39 51h2M77 51h1M24 50h1M39 50h1M72 50h2M80 50h1M40 49h1M75 49h1M102 49h1M23 48h1M47 48h1M52 48h1M62 48h1M94 48h1M5 47h1M23 47h1M29 47h1M35 47h1M78 47h2M99 47h1M23 46h1M35 46h1M70 46h1M79 46h1M91 46h1M115 46h1M30 45h1M66 45h1M70 45h1M93 45h1M97 45h1M4 44h1M24 44h1M26 44h1M31 44h1M45 44h1M100 44h1M37 43h1M44 43h1M26 42h1M47 42h1M73 42h1M84 42h1M27 41h1M48 40h2M89 40h1M27 39h1M79 39h1M20 38h1M29 38h1M48 38h1M29 37h1M49 37h1M55 37h1M56 36h1M58 36h1M53 35h1M55 34h1M45 33h1M45 32h1M61 32h1M2 31h1M51 31h1M60 31h1M132 31h1M2 29h1M21 29h1M50 29h1M58 29h1M60 28h1M4 27h1M61 25h1M14 24h1M2 23h1M62 23h1M56 19h1M49 18h1M56 18h1M28 17h1M132 17h1M28 16h1M62 15h1M100 15h1M60 14h1M51 13h1M16 7h1M55 7h1M3 6h1M28 6h1M55 6h1M59 6h2M17 5h1M59 5h1M16 4h1M54 4h2M7 3h1M11 2h1M24 1h1M29 0h1M81 0h1M115 0h1"/><path stroke="#00efff" d="M0 127h1M69 127h1M73 127h1M95 126h1M114 119h1M105 117h1M123 117h1M120 115h1M96 110h1M8 109h1M9 107h1M24 107h1M84 107h1M9 106h1M36 105h1M72 105h1M123 101h1M0 99h1M21 99h1M10 98h2M20 98h1M26 98h1M142 98h1M33 97h1M113 97h1M120 97h1M122 97h2M133 97h1M7 96h2M23 96h1M33 96h1M98 96h1M105 96h1M129 96h1M0 95h1M2 95h1M23 95h2M34 95h1M5 94h1M104 94h1M141 94h1M4 93h1M13 93h1M36 93h1M78 93h1M104 93h1M17 92h1M24 92h1M36 92h1M93 92h1M102 92h1M126 92h1M63 91h1M85 91h1M32 90h1M52 90h1M130 90h1M22 89h1M85 89h1M106 89h1M119 89h1M137 89h1M1 88h1M8 88h1M12 88h1M72 88h1M92 88h1M95 88h1M116 88h1M136 88h1M1 87h1M5 87h1M18 87h1M31 87h1M67 87h1M86 87h1M103 87h1M108 87h1M115 87h1M131 87h1M137 87h1M142 87h1M16 86h1M23 86h1M99 86h1M127 86h1M130 86h1M6 85h1M77 85h1M103 85h1M119 85h1M127 85h1M16 84h1M21 84h1M24 84h1M93 84h1M95 84h1M108 84h1M116 84h1M141 84h1M143 84h1M64 83h1M67 83h1M75 83h1M84 83h1M88 83h1M99 83h1M110 83h1M113 83h1M11 82h1M58 82h1M80 82h1M117 82h1M119 82h1M130 82h1M138 82h1M140 82h1M39 81h1M80 81h2M104 81h1M129 81h1M11 80h1M101 80h2M10 79h1M16 79h1M37 79h1M68 79h1M93 79h1M96 79h1M104 79h1M106 79h1M109 79h1M116 79h1M71 78h1M94 78h1M105 78h1M122 78h1M22 77h1M52 77h1M87 77h1M99 77h1M119 77h1M40 76h1M86 76h1M88 76h1M1 75h1M6 75h1M40 75h1M95 75h1M123 75h1M133 75h1M2 74h1M81 74h1M100 74h1M133 74h1M92 73h1M117 73h1M30 72h1M38 72h1M102 72h1M111 72h1M19 71h1M29 71h2M35 71h1M37 71h1M47 71h1M83 71h1M86 71h1M21 70h1M29 70h1M76 70h1M80 70h1M106 70h1M114 70h1M123 70h1M4 69h1M21 69h2M27 69h1M34 69h1M47 69h1M75 69h1M77 69h1M90 69h2M134 69h1M23 68h1M27 68h1M35 68h1M72 68h1M80 68h1M97 68h1M102 68h1M105 68h1M9 67h1M34 67h1M40 67h1M64 67h1M73 67h1M81 67h1M141 67h1M28 66h1M40 66h1M70 66h1M117 66h1M1 65h1M25 65h1M29 65h1M31 65h2M43 65h1M63 65h1M80 65h1M89 65h1M117 65h1M22 64h1M45 64h1M74 64h1M86 64h1M123 64h1M23 63h1M40 63h2M89 63h1M6 62h1M23 62h1M25 62h1M33 62h1M50 62h1M68 62h1M96 62h1M117 62h1M31 61h1M40 61h1M65 61h1M98 61h1M111 61h1M34 60h1M47 60h2M79 60h1M83 60h1M34 59h1M46 59h2M53 59h1M107 59h1M119 59h1M33 58h1M78 58h1M91 58h1M45 57h1M47 57h1M66 57h1M75 57h1M15 56h1M18 56h1M22 56h1M44 56h1M56 56h1M69 56h1M81 56h1M29 55h1M49 55h1M63 55h1M31 54h1M62 54h2M65 54h1M74 54h1M76 54h1M38 53h1M47 53h1M71 53h1M73 53h1M117 53h1M136 53h1M24 52h1M38 52h1M40 52h1M43 52h1M47 52h1M66 52h1M70 52h1M94 52h1M41 51h1M59 51h1M76 51h1M1 50h1M48 50h1M52 50h1M75 50h1M31 49h1M49 49h1M56 49h1M61 49h1M70 49h1M30 48h1M37 48h1M44 48h1M73 48h2M79 48h1M97 48h1M4 47h1M50 47h1M72 47h1M89 47h1M29 46h1M49 46h1M52 46h1M78 46h1M80 46h1M95 46h1M119 46h1M4 45h1M49 45h1M63 45h1M80 45h1M95 45h1M46 44h1M56 44h1M70 44h1M76 44h1M0 43h1M89 43h1M29 42h1M4 41h1M37 41h1M79 41h1M132 41h1M71 40h1M20 39h1M49 39h1M28 38h1M132 38h1M60 37h1M49 36h1M55 36h1M55 35h1M99 35h1M4 33h1M60 33h2M55 32h1M52 31h1M51 30h1M60 29h1M55 27h2M2 26h1M55 26h1M54 24h1M58 24h1M52 23h1M57 23h1M60 22h1M67 22h1M132 22h1M67 21h1M59 20h1M60 19h2M26 17h1M57 15h1M27 8h1M58 8h1M21 7h1M57 7h1M16 6h1M57 4h1M73 4h1M58 3h1M26 2h1M54 2h1M87 2h1M17 1h1M3 0h1M7 0h1M60 0h1"/><path stroke="#00ffff" d="M32 127h1M64 127h1M129 125h1M129 120h1M121 119h1M128 118h1M124 113h1M39 112h1M107 112h1M131 112h1M141 112h1M15 111h1M100 110h1M8 108h1M114 108h1M12 107h1M113 107h1M88 106h1M143 106h1M8 105h1M12 105h1M131 105h1M101 104h1M14 103h1M36 103h1M121 103h1M135 103h1M19 102h1M108 101h1M125 101h1M136 101h1M16 100h1M22 100h1M8 99h1M14 99h1M135 99h1M17 98h1M39 97h1M136 97h1M1 96h1M14 96h1M33 95h1M100 95h1M104 95h1M132 95h1M116 94h1M124 94h1M136 94h1M5 93h1M82 93h1M91 93h1M109 93h1M115 93h1M134 93h2M141 93h1M5 92h1M16 92h1M19 92h1M104 92h1M136 92h1M2 91h1M106 91h1M133 91h1M10 90h1M99 90h1M129 90h1M8 89h1M10 89h1M13 89h1M67 89h1M72 89h1M126 89h1M47 88h1M111 88h1M134 88h1M12 87h2M34 87h1M37 87h1M48 87h1M104 87h1M130 87h1M1 86h1M8 86h1M14 86h1M108 86h1M117 86h2M2 85h1M41 85h1M73 85h1M109 85h1M31 84h1M66 84h1M91 84h1M0 83h1M18 83h1M30 83h2M33 83h1M37 83h1M112 83h1M120 83h1M139 83h1M23 82h1M39 82h1M43 82h1M78 82h1M88 82h2M98 82h1M103 82h1M108 82h1M115 82h1M15 81h1M31 81h1M87 81h1M124 81h1M24 80h1M44 80h1M74 80h1M109 80h1M115 80h1M123 80h1M6 79h1M12 79h1M21 79h1M36 79h1M112 79h1M119 79h1M123 79h2M1 78h1M22 78h1M41 78h2M45 78h1M82 78h2M90 78h1M98 78h1M117 78h1M37 77h1M68 77h1M72 77h1M93 77h1M98 77h1M101 77h1M122 77h1M44 76h1M52 76h1M65 76h1M111 76h1M113 76h1M121 76h2M28 75h1M89 75h1M96 75h1M62 74h1M89 74h1M92 74h1M64 73h1M76 73h1M95 73h1M101 73h1M19 72h1M35 72h1M56 72h1M78 72h1M82 72h1M89 72h1M39 71h1M64 71h1M76 71h1M89 71h1M98 71h1M19 70h1M24 70h1M34 70h1M39 70h2M42 70h1M45 70h1M77 70h1M83 70h1M98 70h1M30 69h1M38 69h1M43 69h1M56 69h1M96 69h1M98 69h1M122 69h1M9 68h1M19 68h2M29 68h1M53 68h1M77 68h1M122 68h1M44 67h1M47 67h1M87 67h1M116 67h1M0 66h1M42 66h1M47 66h1M64 66h1M77 66h1M0 65h1M23 65h1M56 65h2M66 65h1M86 65h1M96 65h1M57 64h1M68 64h1M22 63h1M51 63h1M92 63h1M121 63h1M123 63h1M35 62h2M51 62h1M71 62h1M78 62h1M80 62h1M83 62h1M86 62h1M111 62h1M13 61h1M86 61h1M88 61h1M93 61h1M96 61h1M119 61h1M63 60h1M65 60h1M52 59h1M72 59h1M98 59h1M29 58h1M34 58h1M41 58h1M49 58h1M70 58h1M40 57h1M49 57h1M54 57h1M62 57h1M92 57h1M90 56h2M44 55h1M62 55h1M65 55h1M72 55h1M77 55h1M82 55h1M86 55h1M90 55h1M26 54h1M42 54h2M66 54h1M95 54h1M98 54h1M136 54h1M22 53h1M45 53h1M94 53h1M41 52h1M69 52h1M21 51h1M70 51h1M96 51h1M40 50h1M43 50h1M94 50h1M96 50h1M28 49h1M52 49h1M72 49h1M27 48h1M56 48h1M15 47h1M30 47h1M48 47h1M55 47h1M59 47h1M73 47h2M4 46h1M15 46h1M56 46h1M59 46h2M100 46h1M132 46h1M31 45h1M60 45h1M62 45h1M132 45h1M19 44h1M50 44h1M24 43h1M72 43h1M74 43h1M70 42h1M76 42h1M62 41h1M89 41h1M55 40h1M48 39h1M49 38h1M56 38h1M28 37h1M56 37h1M57 34h1M65 34h1M28 33h1M65 33h1M4 32h1M58 32h1M54 29h1M55 28h1M14 27h1M26 26h1M132 26h1M1 25h1M1 24h1M26 23h1M58 22h1M58 21h1M61 20h1M16 19h1M59 16h2M60 15h1M55 14h1M57 13h1M27 12h1M57 9h1M54 8h1M58 6h1M58 5h1M17 4h1M17 2h1M59 2h1M5 0h1M24 0h1M58 0h1M87 0h1"/><path stroke="#10ffef" d="M20 127h1M24 127h1M131 126h1M126 121h1M9 115h1M2 114h1M123 113h1M124 112h1M135 112h1M23 111h1M4 110h1M8 110h1M122 110h1M30 109h1M3 108h1M6 106h1M19 104h1M119 104h1M4 103h1M6 103h1M142 103h1M5 102h1M17 102h1M23 102h1M6 101h1M9 101h1M124 100h1M12 98h1M18 98h1M141 98h1M23 97h1M84 97h1M102 97h1M142 97h1M68 95h1M92 95h1M97 95h1M127 95h1M1 94h2M6 94h1M36 94h1M109 94h1M128 94h1M130 94h1M1 93h2M21 93h1M120 93h1M127 93h1M129 93h1M139 93h1M3 92h1M7 92h1M21 92h1M69 92h1M79 92h1M135 92h1M39 91h1M92 91h1M96 91h1M122 91h1M136 91h2M22 90h1M73 90h1M116 90h1M123 90h1M136 90h1M142 90h1M16 89h1M18 89h1M32 89h1M83 89h1M94 89h1M124 89h1M142 89h2M64 88h1M137 88h1M6 87h1M17 87h1M20 87h1M35 87h1M82 87h1M84 87h1M106 87h1M123 87h1M12 86h1M37 86h1M109 86h1M10 85h1M32 85h1M80 85h1M112 85h1M139 85h1M6 84h1M18 84h1M34 84h1M46 84h1M70 84h1M85 84h1M100 84h1M105 84h1M134 84h1M6 83h1M22 83h1M24 83h1M128 83h1M6 82h1M26 82h1M34 82h1M49 82h1M86 82h1M109 82h1M141 82h1M79 81h1M82 81h1M95 81h1M105 81h1M130 81h1M139 81h1M143 81h1M6 80h1M22 80h2M42 80h1M47 80h1M68 80h1M77 80h1M112 80h1M121 80h1M38 79h1M50 79h1M100 79h2M39 77h1M47 77h1M65 77h1M76 77h1M85 77h1M117 77h1M37 76h1M82 76h1M93 76h1M97 76h1M107 76h1M2 75h1M22 75h1M33 75h1M72 75h1M87 75h1M93 75h1M101 75h1M3 74h1M34 74h1M36 74h2M46 74h2M96 74h1M6 73h1M41 73h1M65 73h1M96 73h1M112 73h1M26 72h1M40 72h1M50 72h1M69 72h1M83 72h1M95 72h1M112 72h1M124 72h1M0 71h1M13 71h1M22 71h1M25 71h1M27 71h2M46 71h1M87 71h1M92 71h1M97 71h1M107 71h2M13 70h1M22 70h1M69 70h1M78 70h1M82 70h1M86 70h1M116 70h1M26 69h1M29 69h1M71 69h1M73 69h1M40 68h1M71 68h1M73 68h1M119 68h1M23 67h1M29 67h1M35 67h1M66 67h2M80 67h1M82 67h1M86 67h1M26 66h1M56 66h1M69 66h1M80 66h1M40 65h2M50 65h1M65 65h1M92 65h1M25 64h1M40 64h1M63 64h1M77 64h2M88 64h1M93 64h1M38 63h1M66 63h2M72 63h1M74 63h1M88 63h1M93 63h1M110 63h1M72 62h1M75 62h1M54 61h1M76 61h2M79 61h1M82 61h2M97 61h1M44 60h1M52 60h1M56 60h1M64 60h1M70 60h1M49 59h1M91 59h1M53 58h1M29 57h1M34 57h1M50 57h1M59 57h1M77 57h1M29 56h1M34 56h1M42 56h1M54 56h1M66 56h1M80 56h1M82 56h1M15 55h1M18 55h1M74 55h1M95 55h2M94 54h1M96 54h1M70 53h1M92 53h1M28 52h1M31 52h1M45 52h1M75 52h2M80 52h1M98 52h1M132 52h1M1 51h1M28 51h1M61 51h2M69 51h1M98 51h1M46 50h1M50 50h1M59 50h1M97 50h1M2 49h1M22 48h1M58 48h1M69 48h1M72 48h1M22 47h1M49 47h1M56 47h1M58 47h1M63 47h1M63 46h1M19 45h1M100 45h1M27 44h1M58 44h1M132 44h1M47 43h1M61 42h1M63 42h1M26 41h1M52 41h1M84 41h1M27 40h1M27 38h1M27 37h1M57 37h1M132 37h1M28 35h1M27 34h1M12 30h1M55 29h2M2 28h1M60 27h1M59 26h1M28 25h1M28 22h1M57 21h1M132 20h1M58 19h1M61 18h1M60 17h1M61 16h1M132 16h1M61 14h1M57 12h1M60 12h1M54 11h1M57 11h1M54 10h1M57 10h1M26 8h1M61 8h1M132 8h1M58 7h1M60 4h2M16 3h1M55 3h1M60 3h1M60 2h1M54 0h1"/><path stroke="#20ffdf" d="M3 127h1M43 127h1M56 127h1M80 127h2M103 126h1M134 126h1M134 125h1M122 122h1M101 121h1M105 116h1M0 115h1M4 115h1M84 115h1M101 115h1M137 115h1M104 114h1M0 113h1M85 113h1M91 112h1M121 112h1M14 111h1M124 110h1M137 110h1M105 109h1M108 109h1M133 109h1M135 109h1M8 107h1M65 107h1M104 107h1M7 106h1M18 106h1M36 106h1M97 106h1M116 106h1M7 104h1M93 104h1M99 103h1M6 102h1M9 102h1M22 102h1M82 102h1M131 102h1M11 101h1M97 101h1M118 100h2M129 100h1M11 99h1M17 99h1M32 99h1M38 99h1M123 99h1M140 99h2M33 98h1M90 98h1M10 97h1M35 97h1M38 96h1M106 96h1M127 96h1M137 96h1M5 95h1M13 95h1M15 95h1M20 95h1M35 95h1M43 95h1M112 95h1M128 95h1M131 95h1M4 94h1M82 94h1M98 94h1M106 94h1M132 94h1M14 93h1M31 93h1M116 93h1M32 92h1M40 92h1M67 92h1M94 92h1M96 92h1M119 92h1M122 92h2M129 92h1M137 92h1M6 91h1M11 91h2M48 91h1M81 91h1M83 91h1M86 91h1M125 91h1M135 91h1M6 90h1M15 90h1M17 90h1M33 90h1M85 90h1M127 90h1M137 90h2M6 89h1M23 89h1M33 89h1M41 89h1M71 89h1M116 89h1M136 89h1M14 88h2M20 88h1M41 88h1M67 88h1M80 88h1M101 88h1M128 88h1M131 88h1M139 88h1M11 87h1M23 87h1M42 87h1M47 87h1M92 87h1M94 87h1M109 87h1M114 87h1M139 87h1M141 87h1M25 86h1M33 86h1M74 86h1M104 86h1M106 86h1M125 86h1M1 85h1M42 85h1M100 85h1M11 84h1M33 84h1M45 84h1M80 84h1M84 84h1M125 84h1M92 83h1M101 83h1M18 82h1M25 82h1M37 82h1M50 82h1M87 82h1M6 81h1M19 81h1M37 81h1M45 81h1M138 81h1M29 80h1M31 80h1M35 80h1M39 80h1M65 80h1M86 80h1M88 80h2M92 80h1M14 79h1M27 79h1M105 79h1M110 79h1M31 78h1M37 78h2M69 78h2M84 78h1M91 78h1M99 78h1M23 77h1M29 77h1M82 77h1M24 76h1M35 76h1M74 76h1M101 76h1M36 75h1M45 75h1M67 75h1M73 75h2M113 75h1M21 74h1M42 74h1M58 74h1M67 74h1M106 74h1M142 74h1M21 73h1M79 73h2M98 73h1M124 73h1M37 72h1M49 72h1M74 72h3M132 72h1M34 71h1M61 71h1M77 71h1M82 71h1M57 70h1M71 70h1M75 70h1M87 70h1M107 70h2M42 69h1M46 69h1M63 69h1M76 69h1M83 69h1M51 68h1M65 68h1M83 68h1M89 68h1M132 68h1M46 67h1M48 67h1M51 67h1M56 67h1M72 67h1M107 67h1M49 66h1M57 66h1M73 66h1M78 66h1M35 65h1M47 65h2M64 65h1M77 65h1M115 65h1M66 64h1M92 64h1M45 63h1M52 63h1M59 63h1M63 63h1M27 62h2M31 62h1M42 62h1M47 62h1M60 62h1M73 62h1M93 62h1M25 61h1M27 61h1M38 61h1M42 61h2M50 61h1M56 61h1M80 61h1M101 61h1M45 60h1M74 60h1M77 60h1M82 60h1M101 60h1M119 60h1M40 59h1M62 59h1M68 59h1M73 59h1M78 59h1M40 58h1M46 58h1M31 57h1M56 57h1M74 57h1M82 57h1M86 57h1M90 57h1M48 56h1M52 56h1M68 56h1M40 55h1M43 55h1M61 55h1M75 55h1M94 55h1M28 53h1M42 53h1M66 53h1M54 52h1M62 52h1M43 51h1M54 51h2M68 51h1M80 51h1M74 50h1M132 49h1M61 48h1M63 48h1M57 45h1M50 43h1M70 43h1M76 43h1M0 42h1M57 41h2M60 41h1M63 41h1M62 40h1M54 37h1M27 36h1M57 36h1M60 36h1M60 35h1M60 34h2M57 32h1M55 31h1M61 31h1M60 26h1M61 24h1M61 22h1M28 21h1M61 21h1M132 21h1M61 17h1M57 14h2M60 9h1M59 7h2M132 7h1M54 3h1M57 2h1M16 1h1"/><path stroke="#30ffcf" d="M9 127h1M34 127h1M44 127h1M48 127h1M85 127h1M110 126h1M114 126h1M138 126h1M129 122h1M94 120h1M111 119h1M23 117h1M79 117h1M79 116h1M9 114h1M9 113h1M24 113h1M1 112h1M15 112h1M19 112h1M3 111h1M124 111h1M143 111h1M9 110h1M92 110h1M2 109h1M120 109h1M127 108h1M100 107h1M1 106h1M17 106h1M68 106h1M113 106h1M135 106h1M6 105h1M89 105h1M106 105h1M143 105h1M6 104h1M121 104h1M142 104h1M121 102h1M134 102h2M142 102h1M119 101h1M140 101h1M0 100h1M2 100h1M6 100h1M11 100h1M13 100h1M123 100h1M126 100h1M135 100h1M20 99h1M129 99h1M139 99h1M6 98h2M41 98h1M129 98h1M17 97h1M86 97h1M125 97h1M4 96h1M35 96h1M134 96h1M4 95h1M64 95h1M108 95h1M123 95h1M129 95h1M71 94h1M96 94h1M137 94h1M140 94h1M63 93h1M121 93h2M125 93h1M2 92h1M6 92h1M11 92h1M43 92h1M81 92h1M118 92h1M125 92h1M130 92h1M139 92h1M141 92h1M1 91h1M5 91h1M15 91h1M20 91h1M22 91h2M32 91h1M114 91h1M119 91h1M127 91h1M129 91h1M131 91h1M39 90h1M47 90h1M124 90h1M48 89h1M62 89h1M93 89h1M101 89h1M115 89h1M127 89h1M134 89h1M6 88h1M17 88h1M19 88h1M29 88h1M69 88h1M93 88h1M110 88h1M113 88h1M115 88h1M14 87h1M41 87h1M98 87h1M105 87h1M107 87h1M19 86h1M41 86h1M48 86h1M65 86h1M86 86h1M141 86h1M34 85h1M43 85h1M53 85h1M74 85h1M91 85h1M94 85h1M101 85h1M105 85h1M107 85h1M120 85h1M126 85h1M1 84h2M27 84h1M53 84h1M74 84h1M90 84h1M94 84h1M107 84h1M110 84h1M15 83h1M26 83h1M50 83h1M78 83h1M80 83h1M115 83h1M141 83h1M15 82h1M21 82h2M40 82h1M65 82h1M81 82h1M85 82h1M93 82h1M101 82h1M107 82h1M24 81h1M30 81h1M34 81h1M36 81h1M46 81h1M68 81h1M78 81h1M85 81h1M100 81h1M110 81h1M132 81h1M0 80h1M59 80h1M79 80h2M84 80h1M93 80h1M100 80h1M105 80h1M110 80h1M0 79h1M34 79h1M51 79h1M67 79h1M75 79h1M92 79h1M94 79h1M134 79h1M14 78h1M29 78h1M72 78h1M76 78h1M80 78h1M24 77h1M45 77h1M54 77h1M70 77h1M132 77h1M22 76h1M28 76h1M31 76h1M33 76h1M41 76h1M43 76h1M51 76h1M68 76h1M72 76h1M85 76h1M96 76h1M123 76h1M35 75h1M37 75h1M71 75h1M77 75h2M91 75h1M107 75h1M132 75h1M23 74h1M50 74h1M68 74h1M72 74h1M77 74h1M79 74h1M97 74h2M37 73h1M40 73h1M54 73h1M87 73h1M97 73h1M142 73h1M21 72h2M46 72h1M66 72h1M70 72h1M80 72h1M91 72h2M96 72h1M98 72h1M121 72h1M24 71h1M50 71h1M63 71h1M70 71h2M96 71h1M132 71h1M0 70h1M30 70h1M51 70h1M65 70h1M93 70h1M19 69h1M57 69h1M67 69h1M74 69h1M82 69h1M93 69h1M39 68h1M48 68h1M82 68h1M96 68h1M26 67h1M53 67h1M59 67h1M44 66h1M66 66h1M86 66h1M27 65h1M30 65h1M52 65h1M54 65h2M69 65h1M29 64h1M38 64h1M62 64h1M69 64h2M72 64h1M68 63h1M75 63h1M67 62h1M88 62h1M48 61h1M58 61h1M94 61h1M29 60h1M67 60h2M97 60h1M38 59h1M45 59h1M55 59h1M63 59h1M43 58h1M51 58h1M89 58h1M67 57h1M72 57h1M40 56h1M79 56h1M48 55h1M56 55h1M73 55h1M73 54h1M79 54h1M31 53h1M56 53h1M58 53h1M132 53h1M68 52h1M77 52h1M50 51h1M58 51h1M65 51h1M75 51h1M94 51h1M28 50h1M55 50h1M62 49h1M97 49h1M28 48h1M27 47h1M57 46h1M62 46h1M56 45h1M58 45h1M54 44h1M28 43h1M89 42h1M79 40h1M59 39h1M61 36h1M27 35h1M55 30h1M61 30h1M57 27h1M59 27h1M57 26h1M57 24h1M59 24h2M58 15h2M59 12h1M60 11h1M60 10h1M61 9h1M57 5h1M58 2h1M55 1h1M55 0h1M61 0h1"/><path stroke="#40ffbf" d="M52 127h1M65 127h2M106 126h1M117 126h1M142 126h1M102 121h1M113 119h1M143 119h1M105 118h1M109 118h1M6 117h1M8 116h1M41 116h1M130 114h1M74 113h1M125 113h1M135 113h1M9 111h1M37 111h1M92 111h1M2 110h1M5 110h1M104 110h1M129 110h1M12 109h1M125 109h1M120 108h1M7 107h1M122 107h1M2 106h1M11 106h1M32 106h1M4 105h1M15 105h1M109 105h1M137 105h1M8 104h1M27 104h1M15 103h1M23 103h1M10 102h1M18 102h1M85 102h1M123 102h1M129 102h1M136 102h1M4 101h1M17 101h1M114 101h1M95 100h1M101 100h1M108 100h1M15 99h1M34 99h1M80 99h1M2 98h1M13 98h1M95 98h1M2 97h1M4 97h1M8 97h1M21 97h1M129 97h1M3 96h1M25 96h1M81 96h1M108 96h1M123 96h1M125 96h1M6 95h1M14 95h1M109 95h1M134 95h1M136 95h1M13 94h2M16 94h1M26 94h1M35 94h1M42 94h1M119 94h1M127 94h1M7 93h1M19 93h1M126 93h1M140 93h1M22 92h1M34 92h1M88 92h1M127 92h1M134 92h1M25 91h1M89 91h1M102 91h2M20 90h1M60 90h1M64 90h1M83 90h1M93 90h2M105 90h2M1 89h1M36 89h1M95 89h1M111 89h1M138 89h1M11 88h1M13 88h1M21 88h1M85 88h2M108 88h1M16 87h1M19 87h1M49 87h1M71 87h1M83 87h1M118 87h1M126 87h1M21 86h1M71 86h1M84 86h1M46 85h2M55 84h1M79 84h1M81 84h1M88 84h1M92 84h1M112 84h2M120 84h1M139 84h1M1 83h1M29 83h1M41 83h1M43 83h1M70 83h1M74 83h1M1 82h1M24 82h1M30 82h2M36 82h1M64 82h1M67 82h1M69 82h2M38 81h1M40 81h1M42 81h2M62 81h1M69 81h1M89 81h1M115 81h1M43 80h1M48 80h1M119 80h1M80 79h1M84 79h1M86 79h1M121 79h1M132 79h1M30 78h1M77 78h1M92 78h1M121 78h1M1 77h1M26 77h1M35 77h1M44 77h1M86 77h1M91 77h1M121 77h1M1 76h1M20 76h1M25 76h1M30 76h1M49 76h1M55 76h1M70 76h1M75 76h1M49 75h1M79 75h1M25 74h1M45 74h1M101 74h1M44 73h1M91 73h1M24 72h1M28 72h1M34 72h1M43 72h1M45 72h1M77 72h1M97 72h1M49 71h1M66 71h1M121 71h1M43 70h1M52 70h1M64 70h1M89 70h1M48 69h1M50 69h1M53 69h1M69 69h1M87 69h1M55 68h1M64 68h1M87 68h1M69 67h2M35 66h1M39 66h1M72 66h1M75 66h2M82 66h1M89 66h1M33 65h1M91 65h1M28 64h1M65 64h1M73 64h1M115 64h1M29 63h1M62 63h1M70 63h1M98 63h1M76 62h1M29 61h2M53 61h1M64 61h1M72 61h1M132 61h1M27 60h1M38 60h1M43 60h1M71 60h2M78 60h1M30 59h1M43 59h1M77 59h1M82 59h1M68 58h1M72 58h1M77 58h1M95 58h1M27 57h1M52 57h1M55 57h1M89 57h1M95 57h1M49 56h1M51 56h1M60 56h1M78 56h1M51 55h1M80 55h1M28 54h1M46 54h1M56 54h1M72 54h1M77 54h1M92 54h1M62 53h1M65 52h1M59 49h1M54 45h1M55 44h1M28 41h1M57 40h1M57 39h1M55 38h1M59 37h1M61 37h1M59 35h1M58 31h1M58 30h1M56 28h1M60 25h1M60 18h1M59 14h1M61 10h1M60 8h1M57 6h1M57 3h1M16 2h1M61 1h1"/><path stroke="#50ffaf" d="M23 127h1M38 127h1M42 127h1M89 127h1M92 127h1M105 126h1M112 126h1M116 126h1M128 126h1M130 124h1M104 122h1M131 118h1M92 117h1M7 116h1M92 116h1M106 116h1M127 116h1M5 115h1M124 114h1M143 114h1M121 113h2M130 113h1M9 112h1M86 112h1M119 112h1M84 111h1M125 111h1M128 111h1M7 110h1M12 110h1M90 110h1M134 110h1M117 109h1M133 108h1M0 107h1M3 107h1M6 107h1M13 107h1M128 107h1M139 107h1M21 105h1M34 105h1M134 105h1M1 104h1M14 104h1M27 103h1M140 103h1M0 102h1M95 102h1M3 101h1M5 101h1M18 101h1M21 101h1M33 101h1M134 101h1M18 100h1M34 100h1M43 100h1M132 100h1M1 99h1M6 99h2M10 99h1M24 99h1M92 99h1M95 99h1M111 99h1M118 99h1M132 99h1M137 99h1M142 99h1M5 98h1M16 98h1M105 98h1M119 98h1M135 98h1M137 98h1M6 97h1M15 97h1M98 97h1M5 96h1M40 96h1M83 96h1M97 96h1M104 96h1M116 96h1M121 96h1M130 96h1M136 96h1M3 95h1M7 95h1M30 95h1M50 95h1M98 95h1M125 95h1M67 94h1M97 94h1M122 94h1M134 94h1M138 94h2M35 93h1M53 93h1M59 93h1M69 93h1M96 93h1M106 93h1M111 93h1M138 93h1M15 92h1M37 92h1M99 92h1M103 92h1M110 92h2M120 92h1M133 92h1M138 92h1M3 91h1M30 91h1M34 91h1M40 91h1M70 91h1M108 91h1M115 91h1M123 91h2M134 91h1M139 91h1M19 90h1M58 90h1M68 90h1M80 90h1M103 90h1M111 90h1M115 90h1M117 90h1M119 90h1M139 90h1M24 89h1M37 89h1M63 89h1M79 89h1M105 89h1M117 89h1M128 89h1M28 88h1M34 88h1M105 88h1M121 88h1M138 88h1M21 87h1M40 87h1M68 87h1M70 87h1M97 87h1M117 87h1M18 86h1M22 86h1M34 86h1M53 86h1M55 86h1M85 86h1M93 86h2M115 86h1M15 85h1M65 85h1M72 85h1M84 85h1M88 85h1M95 85h1M108 85h1M110 85h1M121 85h1M125 85h1M19 84h1M51 84h1M40 83h1M71 83h1M73 83h1M41 82h1M59 82h1M63 82h1M71 82h1M84 82h1M110 82h1M10 81h1M51 81h1M59 81h1M65 81h1M67 81h1M70 81h1M72 81h1M97 81h1M46 80h1M66 80h1M70 80h1M96 80h1M25 79h1M29 79h1M44 79h1M79 79h1M95 79h1M97 79h1M25 78h1M67 78h1M97 78h1M43 77h1M46 77h1M67 77h1M71 77h1M20 75h1M23 75h1M27 75h1M29 75h1M41 75h1M43 75h1M50 75h1M54 75h1M29 74h1M41 74h1M43 74h1M49 74h1M51 74h1M55 74h1M65 74h1M70 74h1M132 74h1M22 73h1M24 73h1M29 73h1M34 73h1M45 73h1M75 73h1M29 72h1M43 71h1M48 71h1M56 71h1M79 71h1M67 70h1M73 70h1M91 70h1M39 69h1M65 69h1M70 69h1M89 69h1M46 68h2M57 68h1M69 68h1M76 68h1M28 67h1M74 67h1M96 67h1M50 66h1M70 65h1M76 65h1M46 64h1M64 64h1M46 63h1M52 62h1M66 62h1M98 62h1M67 61h1M75 61h1M58 60h1M60 59h1M74 59h1M73 58h2M82 58h1M60 57h1M50 56h1M58 56h1M73 56h1M86 56h1M59 55h2M92 55h1M78 54h1M55 48h1M57 48h1M57 47h1M60 47h1M62 47h1M132 47h1M58 46h1M27 45h1M55 45h1M28 44h1M59 38h2M28 34h1M59 28h1M59 23h1M61 23h1M60 5h1M59 4h1M59 3h1"/><path stroke="#60ff9f" d="M7 127h2M11 127h1M15 127h1M25 127h1M39 127h1M53 127h1M55 127h1M58 127h1M60 127h1M63 127h1M67 127h1M71 127h1M113 126h1M103 120h1M125 120h1M15 118h1M121 118h1M9 117h1M85 117h1M104 116h1M128 116h1M8 115h1M129 115h1M119 114h1M126 114h1M3 113h1M8 113h1M0 112h1M118 112h1M143 112h1M4 111h1M7 111h1M12 111h1M106 111h1M115 111h1M129 111h1M133 111h1M6 110h1M7 109h1M36 109h1M1 108h1M93 108h1M100 108h1M125 108h1M130 108h1M3 106h1M132 106h1M3 105h1M17 105h1M105 105h1M116 105h1M37 104h1M115 104h1M129 104h1M2 103h1M8 103h1M12 103h1M18 103h1M85 103h1M115 103h1M130 103h2M143 103h1M2 102h1M12 102h1M28 102h1M91 102h1M143 102h1M2 101h1M12 101h1M15 101h1M19 101h1M34 101h1M87 101h1M120 101h1M124 101h1M127 101h1M131 101h1M142 101h1M4 100h1M14 100h1M21 100h1M102 100h1M131 100h1M25 99h1M91 99h1M131 99h1M4 98h1M24 98h1M34 98h1M63 98h1M120 98h1M127 98h1M136 98h1M138 98h1M5 97h1M30 97h1M83 97h1M90 97h1M105 97h1M110 97h1M116 97h1M137 97h1M59 96h1M100 96h1M102 96h1M115 96h1M131 96h1M22 95h1M25 95h1M40 95h1M42 95h1M88 95h1M96 95h1M121 95h2M135 95h1M7 94h1M10 94h1M89 94h1M108 94h1M125 94h1M133 94h1M17 93h1M65 93h1M95 93h1M99 93h1M136 93h1M106 92h1M121 92h1M124 92h1M24 91h1M36 91h1M105 91h1M117 91h1M1 90h1M37 90h1M62 90h1M81 90h1M30 89h1M47 89h1M31 88h1M71 88h1M79 88h1M81 88h2M89 88h1M123 88h1M26 87h1M39 87h1M65 87h1M75 87h1M87 87h1M31 86h1M46 86h1M51 86h1M57 86h1M82 86h1M90 86h1M126 86h1M139 86h1M48 85h1M51 85h1M64 85h1M66 85h1M86 85h1M98 85h1M113 85h1M40 84h1M83 84h1M96 84h2M102 84h1M111 84h1M63 83h1M82 83h1M87 83h1M96 83h1M75 82h1M21 81h2M63 81h1M74 81h1M96 81h1M10 80h1M25 80h1M37 80h1M49 80h1M51 80h1M95 80h1M97 80h1M132 80h1M23 79h1M46 79h1M82 79h1M107 79h1M23 78h1M43 78h2M46 78h1M66 78h1M86 78h1M21 77h1M31 77h1M49 77h1M77 77h1M59 76h1M64 76h1M71 76h1M73 76h1M78 76h1M21 75h1M51 75h2M26 74h1M38 74h1M66 74h1M73 74h1M46 73h1M49 73h2M70 73h1M77 73h1M132 73h1M67 72h2M79 72h1M62 71h1M75 71h1M91 71h1M56 70h1M72 70h1M74 70h1M55 69h1M97 69h1M58 68h1M74 68h1M52 66h1M67 66h1M47 64h1M67 64h1M28 63h1M31 63h1M33 63h1M73 63h1M78 63h1M91 63h1M60 61h1M71 61h1M30 60h1M55 60h1M62 60h1M75 60h1M51 59h1M54 59h1M57 59h1M58 58h1M75 58h1M68 57h1M27 56h1M59 56h1M71 56h1M79 55h1M61 54h1M46 53h1M77 53h1M61 52h1M57 50h1M60 50h1M55 49h1M58 49h1M60 48h1M27 46h1M59 44h1M58 43h1M59 41h1M61 41h1M60 40h1M57 33h1M61 7h1M61 2h1"/><path stroke="#70ff8f" d="M6 127h1M30 127h1M88 127h1M99 126h1M132 126h1M123 125h1M142 125h1M127 123h1M105 122h1M129 121h1M102 120h1M143 120h1M33 119h1M47 119h1M6 118h1M123 118h1M15 117h1M96 116h1M105 115h2M0 114h1M6 114h1M39 114h1M101 114h1M1 113h1M6 113h1M47 113h1M3 112h1M7 112h1M120 112h1M123 112h1M129 112h1M19 111h1M44 111h1M126 111h1M91 110h1M120 110h1M131 110h1M5 109h2M17 109h1M100 109h1M129 109h1M0 108h1M7 108h1M9 108h1M12 108h2M113 108h1M122 108h1M41 107h1M86 107h1M102 107h1M136 107h1M143 107h1M24 106h1M1 105h1M121 105h1M130 105h1M133 105h1M17 104h1M29 104h1M38 104h1M104 104h1M131 104h1M133 104h1M11 103h1M13 103h1M50 103h1M101 103h1M119 103h1M123 103h1M14 102h1M34 102h1M40 102h1M44 102h1M87 102h1M113 102h1M119 102h1M7 101h1M74 101h1M91 101h1M128 101h1M138 101h1M8 100h1M17 100h1M33 100h1M91 100h1M94 100h1M130 100h1M13 99h1M40 99h1M45 99h1M78 99h1M108 99h1M117 99h1M119 99h1M126 99h1M21 98h1M93 98h1M97 98h1M122 98h1M125 98h1M7 97h1M34 97h1M43 97h1M56 97h1M103 97h1M111 97h1M121 97h1M124 97h1M132 97h1M141 97h1M10 96h1M19 96h1M45 96h1M96 96h1M101 96h1M110 96h1M119 96h2M122 96h1M139 96h1M17 95h1M21 95h1M27 95h1M101 95h1M105 95h1M120 95h1M124 95h1M130 95h1M140 95h1M23 94h2M34 94h1M57 94h1M99 94h1M110 94h2M113 94h1M16 93h1M24 93h1M60 93h1M75 93h1M100 93h1M113 93h1M132 93h1M137 93h1M142 93h1M25 92h1M45 92h1M50 92h1M114 92h1M143 92h1M37 91h1M72 91h1M94 91h1M143 91h1M24 90h1M75 90h1M112 90h1M143 90h1M64 89h1M69 89h2M81 89h1M86 89h1M139 89h1M16 88h1M23 88h1M25 88h1M30 88h1M33 88h1M55 88h1M62 88h2M66 88h1M94 88h1M96 88h1M99 88h1M104 88h1M127 88h1M45 87h1M60 87h1M69 87h1M72 87h1M77 87h1M95 87h1M99 87h1M30 86h1M42 86h1M52 86h1M68 86h1M87 86h1M81 85h1M83 85h1M93 85h1M115 85h1M15 84h1M63 84h1M67 84h1M71 84h1M109 84h1M115 84h1M19 83h1M49 83h1M68 83h1M76 83h1M86 83h1M89 83h1M109 83h1M132 83h1M35 82h1M38 82h1M44 82h2M97 82h1M25 81h1M41 81h1M48 81h1M53 81h1M94 81h1M107 81h1M34 80h1M78 80h1M91 80h1M41 79h1M43 79h1M61 79h1M76 79h1M78 79h1M21 78h1M26 78h1M51 78h1M132 78h1M30 77h1M51 77h1M59 77h1M64 77h1M21 76h1M63 76h1M69 76h1M77 76h1M24 75h1M42 75h1M44 75h1M66 75h1M56 74h1M75 74h1M87 74h1M91 74h1M38 73h1M58 73h1M67 73h3M72 72h1M51 71h1M72 71h1M48 70h1M53 70h1M64 69h1M66 69h1M54 68h1M78 68h1M50 67h1M60 67h1M78 67h1M96 66h1M46 65h1M75 65h1M132 65h1M31 64h1M49 64h1M54 64h1M59 64h1M61 64h1M91 64h1M54 63h1M64 63h1M46 62h1M49 62h1M64 62h1M132 62h1M61 60h1M132 60h1M27 58h1M59 58h1M62 56h1M27 55h2M67 55h1M57 54h1M132 54h1M49 51h1M56 51h1M49 50h1M132 48h1M61 46h1M61 44h1M61 43h1M57 42h1M61 40h1M58 38h1M59 36h1M59 30h1M59 13h1"/><path stroke="#80ff80" d="M12 127h1M16 127h1M40 127h1M57 127h1M62 127h1M75 127h2M87 127h1M97 126h1M124 126h1M140 126h1M143 126h1M101 125h1M130 123h1M101 122h1M127 122h1M94 119h1M96 119h1M103 119h1M124 119h1M142 119h1M125 118h1M0 117h1M104 117h1M125 117h1M3 116h2M17 116h1M32 116h1M6 115h1M99 115h1M109 115h1M135 115h1M142 115h1M1 114h1M4 114h1M122 114h1M129 114h1M142 114h1M21 113h1M101 113h1M6 112h1M12 112h1M21 112h1M43 112h1M0 111h1M96 111h1M120 111h1M11 110h1M93 110h1M117 110h1M130 110h1M90 109h1M99 109h1M116 109h1M121 109h1M143 109h1M5 108h1M20 108h1M76 108h1M81 108h1M89 108h1M115 108h2M129 108h1M136 108h1M1 107h1M4 107h1M17 107h1M85 107h1M105 107h1M108 107h1M21 106h1M23 106h1M123 106h1M142 106h1M18 105h1M117 105h1M129 105h1M132 105h1M135 105h1M0 104h1M2 104h1M12 104h1M34 103h1M40 103h1M100 103h1M104 103h1M122 102h1M130 102h1M0 101h1M35 101h1M45 101h1M85 101h1M126 101h1M137 101h1M12 100h1M35 100h1M83 100h1M136 100h1M140 100h1M142 100h1M4 99h1M22 99h1M26 99h1M30 99h1M77 99h1M81 99h1M94 99h1M101 99h2M128 99h1M143 99h1M0 98h1M30 98h1M77 98h1M114 98h1M117 98h1M131 98h1M139 98h1M0 97h2M41 97h1M101 97h1M127 97h1M131 97h1M135 97h1M6 96h1M15 96h1M20 96h1M32 96h1M34 96h1M89 96h1M111 96h1M133 96h1M141 96h2M29 95h1M36 95h2M49 95h1M51 95h1M83 95h1M111 95h1M113 95h1M139 95h1M19 94h1M129 94h1M25 93h1M40 93h1M79 93h1M102 93h1M124 93h1M48 92h1M78 92h1M112 92h1M115 92h1M117 92h1M19 91h1M64 91h1M101 91h1M109 91h1M138 91h1M36 90h1M53 90h1M63 90h1M104 90h1M19 89h1M34 89h1M43 89h1M45 89h1M53 89h1M55 89h1M99 89h1M103 89h1M110 89h1M114 89h1M24 88h1M68 88h1M83 88h1M102 88h1M112 88h1M22 87h1M24 87h1M29 87h1M36 87h1M44 87h1M59 87h1M79 87h1M89 87h1M121 87h1M29 86h1M44 86h1M50 86h1M77 86h1M88 86h1M95 86h2M107 86h1M111 86h1M121 86h1M18 85h1M21 85h1M29 85h1M31 85h1M29 84h1M43 84h1M47 84h1M49 84h1M64 84h1M72 84h1M77 84h2M86 84h1M25 83h1M46 83h1M55 83h1M27 82h1M46 82h1M54 82h1M61 82h1M94 82h1M47 81h1M55 81h1M58 81h1M66 81h1M77 81h1M84 81h1M50 80h1M63 80h1M73 80h1M82 80h1M26 79h1M52 78h1M75 78h1M78 78h1M107 78h1M50 77h1M107 77h1M42 76h1M67 76h1M53 75h1M63 75h1M70 75h1M75 75h1M24 74h1M28 74h1M44 74h1M48 74h1M53 74h2M48 73h1M59 73h1M66 73h1M74 73h1M52 72h1M67 71h1M74 71h1M61 70h1M66 70h1M54 69h1M49 68h2M56 68h1M60 68h1M63 67h1M62 65h1M72 65h1M33 64h1M48 64h1M47 63h1M132 63h1M56 62h1M59 62h1M49 61h1M59 61h1M62 61h1M54 60h1M59 60h1M59 59h1M132 59h1M57 58h1M60 58h1M71 58h1M132 57h1M57 53h1M59 53h1M57 51h1M62 50h1M28 47h1M61 45h1M60 44h1M57 43h1M59 42h1M61 38h1M61 35h1M61 11h1"/><path stroke="#8fff70" d="M5 127h1M10 127h1M41 127h1M61 127h1M68 127h1M72 127h1M104 126h1M109 126h1M136 126h1M103 123h1M141 122h1M143 121h1M44 120h1M101 120h1M105 119h1M135 119h1M13 118h1M98 118h1M129 118h1M128 117h1M0 116h1M12 116h1M34 116h1M142 116h1M74 115h1M92 115h1M94 115h1M113 115h1M94 114h1M23 113h1M34 113h1M18 112h1M32 112h1M35 112h2M75 112h1M85 112h1M96 112h1M126 112h1M140 112h1M39 111h1M80 111h1M98 111h1M137 111h1M14 110h1M32 110h1M34 110h1M38 110h1M47 110h1M81 110h1M98 110h1M123 110h1M125 110h1M132 110h1M3 109h1M122 109h1M6 108h1M105 108h2M121 108h1M2 107h1M123 107h1M129 107h2M132 107h1M89 106h1M122 106h1M127 106h1M129 106h1M7 105h1M19 105h1M23 105h1M108 105h1M11 104h1M23 104h1M26 104h1M105 104h1M113 104h1M123 104h1M137 104h1M1 103h1M3 103h1M37 103h3M103 103h1M8 102h1M38 102h1M93 102h1M138 102h1M8 101h1M78 101h1M86 101h1M98 101h1M133 101h1M143 101h1M1 100h1M10 100h1M15 100h1M20 100h1M25 100h1M12 99h1M31 99h1M133 99h1M136 99h1M1 98h1M22 98h2M35 98h1M42 98h1M92 98h1M101 98h1M112 98h1M132 98h1M140 98h1M18 97h1M20 97h1M139 97h1M22 96h1M30 96h1M109 96h1M118 96h1M135 96h1M10 95h1M41 95h1M61 95h1M89 95h1M106 95h1M119 95h1M133 95h1M142 95h1M25 94h1M37 94h1M58 94h1M101 94h1M117 94h2M121 94h1M126 94h1M142 94h1M32 93h1M39 93h1M50 93h1M86 93h1M93 93h1M101 93h1M117 93h1M23 92h1M53 92h1M101 92h1M105 92h1M109 92h1M132 92h1M33 91h1M110 91h1M121 91h1M25 90h1M34 90h1M44 90h1M72 90h1M102 90h1M109 90h1M31 89h1M38 89h1M52 89h1M88 89h1M108 89h1M113 89h1M36 88h1M38 88h1M48 88h1M50 88h1M59 88h1M114 88h1M33 87h1M62 87h2M85 87h1M112 87h1M132 87h1M40 86h1M62 86h3M72 86h1M78 86h1M39 85h1M63 85h1M71 85h1M25 84h2M39 84h1M48 84h1M68 84h2M87 84h1M66 83h1M77 83h1M91 83h1M94 83h1M47 82h1M91 82h1M96 82h1M132 82h1M49 81h1M64 80h1M69 80h1M48 79h1M63 79h1M69 79h1M74 78h1M28 77h1M66 77h1M27 76h1M50 76h1M25 75h2M48 75h1M58 75h1M65 75h1M63 74h1M74 74h1M28 73h1M53 73h1M63 73h1M48 72h1M54 72h1M60 72h1M63 72h1M73 72h1M57 71h1M73 71h1M49 70h2M132 69h1M63 68h1M70 68h1M75 68h1M49 67h1M67 65h1M27 64h1M75 64h1M82 64h1M132 64h1M27 63h1M48 63h1M53 63h1M60 63h1M53 62h1M62 62h1M58 59h1M75 59h1M61 57h1M71 57h1M67 56h1M78 55h1M132 55h1M59 54h1M61 53h1M58 50h1M59 43h1M60 42h1M61 39h1M59 29h1M61 12h1"/><path stroke="#9fff60" d="M13 127h1M37 127h1M46 127h2M82 127h1M96 126h1M98 126h1M101 126h1M139 126h1M124 125h1M126 124h1M100 122h1M32 121h1M95 120h1M98 120h1M1 119h1M39 118h1M91 118h1M117 118h1M122 118h1M135 118h1M142 118h1M134 117h1M109 116h1M74 114h1M96 114h1M105 114h1M109 114h1M120 114h1M137 114h1M12 113h2M78 113h1M98 113h1M108 113h1M117 113h1M143 113h1M84 112h1M93 112h1M117 112h1M133 112h1M2 111h1M41 111h1M100 111h1M119 111h1M123 111h1M130 111h1M3 110h1M13 110h1M141 110h1M9 109h1M34 109h1M2 108h1M15 108h2M21 108h1M84 108h1M86 108h1M141 108h2M11 107h1M34 107h1M89 107h1M93 107h1M22 106h1M90 106h1M105 106h1M117 106h1M128 106h1M130 106h1M0 105h1M2 105h1M65 105h1M88 105h1M142 105h1M32 104h1M92 104h1M116 104h1M124 104h1M132 104h1M136 104h1M143 104h1M22 103h1M45 103h1M66 103h1M93 103h1M129 103h1M132 103h1M7 102h1M39 102h1M41 102h1M90 102h1M104 102h1M126 102h1M128 102h1M23 101h1M102 101h1M130 101h1M132 101h1M40 100h1M72 100h1M133 100h1M143 100h1M23 99h1M33 99h1M75 99h1M93 99h1M98 99h1M105 99h1M125 99h1M81 98h1M83 98h1M89 98h1M108 98h1M19 97h1M37 97h1M109 97h1M114 97h1M130 97h1M143 97h1M21 96h1M24 96h1M85 96h1M99 96h1M114 96h1M117 96h1M140 96h1M18 95h2M85 95h1M110 95h1M117 95h1M15 94h1M17 94h1M33 94h1M103 94h1M23 93h1M37 93h1M43 93h1M35 92h1M85 92h1M113 92h1M35 91h1M43 91h1M53 91h1M62 91h1M112 91h1M48 90h1M67 90h1M82 90h1M110 90h1M25 89h2M39 89h1M78 89h1M80 89h1M89 89h1M102 89h1M45 88h1M49 88h1M60 88h1M84 88h1M100 88h1M103 88h1M100 87h1M26 86h2M60 86h1M89 86h1M40 85h1M55 85h2M68 85h1M75 85h1M87 85h1M42 84h1M82 84h1M132 84h1M45 83h1M47 83h1M97 83h1M42 82h1M74 82h1M77 82h1M27 81h1M35 81h1M50 81h1M64 81h1M91 81h1M61 80h1M75 80h1M94 80h1M47 79h1M49 79h1M53 79h1M64 79h1M73 79h1M47 78h2M50 78h1M59 78h1M62 77h2M78 77h1M26 76h1M53 76h1M56 75h1M59 75h1M69 75h1M57 74h1M69 74h1M52 73h1M56 73h1M58 72h1M53 71h1M60 71h1M60 70h1M62 70h1M28 69h1M60 69h1M57 67h1M75 67h1M62 66h1M53 64h1M56 64h1M57 63h1M57 62h1M132 56h1M58 54h1M132 51h1M28 46h1M60 43h1M28 42h1M58 40h1M61 5h1"/><path stroke="#afff50" d="M14 127h1M22 127h1M51 127h1M43 126h1M56 126h1M79 126h1M102 126h1M107 126h2M118 126h1M135 126h1M118 125h1M135 125h1M0 123h1M129 123h1M117 122h1M128 122h1M125 121h1M116 119h2M128 119h1M50 118h1M78 118h1M126 118h1M140 118h1M5 117h1M7 117h1M96 117h1M127 117h1M142 117h1M6 116h1M15 116h1M134 116h1M108 115h1M119 115h1M127 115h1M12 114h1M38 114h1M108 114h1M134 114h1M91 113h1M105 113h1M113 113h1M119 113h2M5 112h1M106 112h1M38 111h1M117 111h1M127 111h1M135 111h1M1 110h1M23 110h1M67 110h1M109 110h1M115 110h1M135 110h2M143 110h1M22 109h1M57 109h1M106 109h1M124 109h1M128 109h1M24 108h1M33 108h1M35 108h1M108 108h1M117 108h1M135 108h1M139 108h1M143 108h1M15 107h1M27 107h1M88 107h1M135 107h1M4 106h1M13 106h1M34 106h1M43 106h1M106 106h1M118 106h1M137 106h1M141 106h1M14 105h1M24 105h1M57 105h1M97 105h1M118 105h1M122 105h2M3 104h1M39 104h2M118 104h1M126 104h1M128 104h1M138 104h1M0 103h1M7 103h1M17 103h1M31 103h1M72 103h1M77 103h1M95 103h1M105 103h1M128 103h1M133 103h1M36 102h1M83 102h1M108 102h1M114 102h1M120 102h1M127 102h1M1 101h1M13 101h1M22 101h1M25 101h1M31 101h2M40 101h1M122 101h1M85 100h1M98 100h1M110 100h1M134 100h1M137 100h1M141 100h1M104 99h1M113 99h1M120 99h1M122 99h1M127 99h1M130 99h1M31 98h1M39 98h1M43 98h1M80 98h1M102 98h1M118 98h1M133 98h1M22 97h1M106 97h1M117 97h2M126 97h1M134 97h1M140 97h1M18 96h1M41 96h1M107 96h1M113 96h1M124 96h1M32 95h1M70 95h1M90 95h1M126 95h1M143 95h1M22 94h1M63 94h1M80 94h1M90 94h1M93 94h1M143 94h1M22 93h1M33 93h2M45 93h1M94 93h1M143 93h1M29 92h1M31 92h1M33 92h1M71 92h1M80 92h1M56 91h1M58 91h1M71 91h1M99 91h1M35 90h1M40 90h1M59 90h1M66 90h1M71 90h1M86 90h1M88 90h1M91 90h1M108 90h1M27 89h1M35 89h1M65 89h1M84 89h1M92 89h1M65 88h1M75 88h1M88 88h1M97 88h1M107 88h1M30 87h1M51 87h1M57 87h1M81 87h1M88 87h1M90 87h1M39 86h1M61 86h1M67 86h1M79 86h3M91 86h1M98 86h1M70 85h1M96 85h1M99 85h1M132 85h1M76 84h1M99 84h1M66 82h1M76 82h1M56 81h1M41 80h1M28 79h1M48 77h1M74 77h2M66 76h1M62 75h1M27 74h1M61 74h1M64 74h1M51 73h1M60 73h1M52 71h1M59 71h1M132 70h1M49 69h1M52 68h1M59 68h1M62 68h1M52 67h1M49 65h1M59 65h2M82 65h1M55 62h1M58 62h1M57 60h1M28 59h1M28 58h1M28 57h1M28 56h1M58 55h1M56 52h2M28 45h1M60 39h1M61 6h1"/><path stroke="#bfff40" d="M18 127h1M31 127h1M50 127h1M54 127h1M70 127h1M74 127h1M77 127h1M90 127h1M16 126h1M120 126h1M122 126h1M105 125h1M108 125h1M131 125h1M121 123h1M70 122h1M117 121h1M119 121h1M127 121h1M131 121h1M121 120h1M132 120h1M4 119h1M6 119h1M97 119h1M127 119h1M129 119h1M2 118h1M94 118h1M104 118h1M116 118h1M127 118h1M130 118h1M4 117h1M74 117h1M106 117h1M2 116h1M23 116h2M74 116h1M98 116h1M119 116h2M133 116h1M140 116h1M12 115h1M14 115h1M64 115h1M85 115h1M125 115h1M5 114h1M84 114h1M113 114h1M121 114h1M123 114h1M2 113h1M17 113h1M95 113h1M116 113h1M126 113h1M131 113h1M136 113h1M4 112h1M14 112h1M37 112h1M101 112h1M122 112h1M128 112h1M130 112h1M5 111h1M22 111h1M48 111h1M89 111h1M97 111h1M105 111h1M108 111h1M118 111h1M134 111h1M99 110h1M105 110h2M16 109h1M26 109h1M76 109h1M96 109h1M123 109h1M19 108h1M43 108h1M18 107h1M109 107h1M114 107h1M116 107h1M15 106h1M75 106h1M77 106h1M100 106h1M109 106h1M121 106h1M125 106h1M131 106h1M13 105h1M32 105h2M41 105h1M69 105h1M101 105h1M104 105h1M124 105h1M13 104h1M18 104h1M41 104h1M77 104h1M96 104h1M109 104h1M117 104h1M127 104h1M20 103h1M70 103h1M80 103h1M86 103h1M90 103h1M98 103h1M136 103h1M139 103h1M20 102h1M27 102h1M33 102h1M69 102h1M92 102h1M102 102h2M124 102h1M132 102h1M14 101h1M26 101h1M38 101h2M94 101h1M116 101h1M121 101h1M139 101h1M23 100h1M31 100h2M36 100h1M105 100h1M127 100h1M74 99h1M90 99h1M116 99h1M138 99h1M37 98h1M91 98h1M111 98h1M116 98h1M126 98h1M24 97h1M26 97h1M29 97h1M57 97h1M77 97h1M95 97h1M97 97h1M100 97h1M108 97h1M115 97h1M16 96h1M29 96h1M31 96h1M39 96h1M43 96h1M49 96h1M64 96h1M93 96h1M126 96h1M143 96h1M16 95h1M71 95h1M103 95h1M107 95h1M115 95h1M45 94h1M68 94h2M105 94h1M115 94h1M15 93h1M38 93h1M41 92h1M64 92h1M75 92h1M83 92h1M92 92h1M100 92h1M66 91h2M75 91h1M90 91h1M98 91h1M31 90h1M65 90h1M70 90h1M96 90h2M29 89h1M54 89h1M60 89h1M98 89h1M87 88h1M90 88h1M50 87h1M61 87h1M64 87h1M78 87h1M80 87h1M66 86h1M70 86h1M75 86h1M97 86h1M100 86h1M24 85h1M50 85h1M78 85h2M82 85h1M111 85h1M38 84h1M42 83h1M53 83h1M72 82h1M58 79h2M55 78h1M63 78h1M73 77h1M48 76h1M64 75h1M27 73h1M51 72h1M59 72h1M54 67h1M53 66h1M61 65h1M56 63h1M58 63h1M60 54h1M60 51h1M132 50h1M58 39h1"/><path stroke="#cfff30" d="M19 127h1M27 127h1M86 127h1M91 127h1M32 126h1M94 126h1M115 126h1M121 126h1M130 126h1M30 125h1M104 125h1M115 125h1M140 123h1M108 122h1M126 122h1M104 121h1M6 120h1M17 120h1M60 120h1M119 120h1M122 120h1M124 120h1M128 120h1M95 119h1M125 119h2M131 119h1M0 118h1M100 118h1M120 118h1M24 117h1M102 117h1M111 117h1M124 117h1M131 117h1M5 116h1M13 116h1M94 116h1M125 116h1M18 115h1M24 115h1M43 115h1M72 115h1M98 115h1M104 115h1M130 115h1M8 114h1M23 114h1M99 114h1M114 114h1M125 114h1M7 113h1M15 113h1M82 113h1M104 113h1M110 113h1M115 113h1M128 113h1M30 112h1M95 112h1M108 112h1M114 112h1M13 111h1M53 111h1M91 111h1M132 111h1M15 110h1M83 110h1M127 110h1M14 109h1M18 109h1M21 109h1M23 109h1M32 109h1M101 109h1M115 109h1M130 109h1M132 109h1M142 109h1M17 108h1M30 108h1M123 108h1M128 108h1M10 107h1M32 107h1M61 107h1M115 107h1M117 107h1M125 107h1M35 106h1M93 106h1M104 106h1M133 106h1M136 106h1M35 105h1M92 105h2M136 105h1M15 104h1M33 104h1M98 104h1M108 104h1M122 104h1M130 104h1M135 104h1M141 104h1M10 103h1M25 103h1M32 103h2M35 103h1M82 103h1M113 103h1M25 102h1M58 102h1M86 102h1M109 102h1M125 102h1M71 101h1M109 101h1M115 101h1M19 100h1M48 100h1M88 100h1M113 100h1M125 100h1M128 100h1M138 100h1M41 99h1M104 98h1M130 98h1M46 97h1M82 97h1M89 97h1M36 96h2M90 96h1M95 96h1M103 96h1M38 95h1M58 95h1M91 95h1M94 95h2M102 95h1M30 94h1M32 94h1M40 94h1M43 94h1M50 94h1M70 94h1M78 94h1M91 94h1M95 94h1M102 94h1M26 93h1M48 93h1M52 93h1M98 93h1M103 93h1M39 92h1M63 92h1M89 92h1M31 91h1M45 91h1M51 91h2M55 91h1M84 91h1M113 91h1M78 90h1M113 90h1M59 89h1M91 89h1M97 89h1M100 89h1M104 89h1M43 88h1M54 88h1M56 88h1M76 88h2M98 88h1M46 87h1M55 87h2M74 87h1M24 86h1M43 86h1M132 86h1M26 85h1M28 85h1M44 85h1M67 85h1M89 85h1M97 85h1M65 84h1M73 84h1M89 84h1M27 83h1M44 83h1M65 83h1M72 83h1M53 82h1M56 82h1M57 81h1M60 81h1M76 81h1M27 80h1M60 80h1M62 80h1M76 80h1M56 79h1M54 78h1M58 78h1M62 78h1M73 78h1M56 77h1M56 76h1M57 75h1M52 74h1M27 72h1M53 72h1M54 70h1M62 67h1M54 66h2M59 66h1M53 65h1M58 65h1M55 64h1M58 64h1M55 63h1M61 62h1M55 61h1M57 61h1M57 55h1M60 53h1M60 52h1"/><path stroke="#dfff20" d="M1 127h1M67 126h1M89 126h1M100 126h1M111 126h1M133 126h1M141 126h1M18 125h1M57 125h1M97 125h1M125 125h1M135 124h1M101 123h1M131 122h1M94 121h1M122 121h1M124 121h1M135 121h1M4 120h1M68 120h1M127 120h1M131 120h1M135 120h1M142 120h1M93 119h1M98 119h1M108 119h1M120 119h1M132 119h1M9 118h1M101 118h1M134 118h1M14 117h1M99 117h2M140 117h1M36 116h1M42 116h1M91 116h1M123 116h1M132 116h1M138 116h1M3 115h1M15 115h1M77 115h1M128 115h1M3 114h1M24 114h1M33 114h2M93 114h1M95 114h1M106 114h1M117 114h2M4 113h2M14 113h1M22 113h1M96 113h1M114 113h1M118 113h1M2 112h1M13 112h1M23 112h1M100 112h1M105 112h1M109 112h1M1 111h1M32 111h1M34 111h1M50 111h1M65 111h1M121 111h1M95 110h1M108 110h1M142 110h1M92 109h2M114 109h1M136 109h2M139 109h1M75 108h1M96 108h2M23 107h1M96 107h2M120 107h2M131 107h1M10 106h1M19 106h1M37 106h1M59 106h1M114 106h1M119 106h1M66 105h2M96 105h1M114 105h1M140 105h1M25 104h1M139 104h1M108 103h1M116 103h1M124 103h1M138 103h1M13 102h1M21 102h1M24 102h1M43 102h1M70 102h1M111 102h1M137 102h1M16 101h1M20 101h1M36 101h1M111 101h1M117 101h2M24 100h1M26 100h2M78 100h1M80 100h1M92 100h1M117 100h1M120 100h1M35 99h2M72 99h1M83 99h1M110 99h1M45 98h1M49 98h1M58 98h1M75 98h1M84 98h2M94 98h1M100 98h1M106 98h1M113 98h1M32 97h1M49 97h1M62 97h1M92 97h1M99 97h1M104 97h1M91 96h1M138 96h1M84 95h1M138 95h1M86 94h1M68 93h1M112 93h1M30 92h1M55 92h1M61 92h1M90 92h1M46 91h1M50 91h1M61 91h1M68 91h1M73 91h1M79 91h1M88 91h1M100 91h1M41 90h1M43 90h1M45 90h1M61 90h1M92 90h1M100 90h1M28 89h1M49 89h1M58 89h1M90 89h1M96 89h1M40 88h1M58 88h1M74 88h1M78 88h1M91 88h1M66 87h1M73 86h1M27 85h1M60 85h1M50 84h1M54 84h1M57 84h1M62 84h1M54 83h1M58 83h1M73 82h1M28 81h1M52 80h1M55 80h1M52 79h1M62 79h1M27 78h2M49 78h1M56 78h1M64 78h1M53 77h1M61 75h1M59 74h1M58 71h1M28 70h1M55 70h1M58 69h2M61 69h1M58 67h1M61 66h1M60 64h1M61 61h1M57 57h1"/><path stroke="#efff10" d="M6 126h1M51 126h1M125 126h2M94 125h1M114 125h1M140 125h1M118 124h1M120 123h1M128 123h1M115 122h1M121 122h1M65 121h1M7 120h1M73 120h1M97 120h1M14 119h1M32 119h1M101 119h1M130 119h1M133 119h1M74 118h1M114 118h1M119 118h1M33 117h2M41 117h1M90 117h1M94 117h1M118 117h1M121 117h1M82 116h1M97 116h1M111 116h1M118 116h1M124 116h1M143 116h1M23 115h1M37 115h1M93 115h1M117 115h1M124 115h1M131 115h1M133 115h1M143 115h1M18 114h1M32 114h1M45 114h1M70 114h1M83 114h1M91 114h2M112 114h1M116 114h1M10 113h1M18 113h1M35 113h1M84 113h1M90 113h1M106 113h1M133 113h1M33 112h1M57 112h1M87 112h1M89 112h1M57 111h1M85 111h2M95 111h1M101 111h1M112 111h1M122 111h1M136 111h1M141 111h1M40 110h1M57 110h1M82 110h1M116 110h1M121 110h1M126 110h1M139 110h1M0 109h1M11 109h1M42 109h1M81 109h1M95 109h1M141 109h1M11 108h1M74 108h1M98 108h1M118 108h1M21 107h1M138 107h1M20 106h1M25 106h1M56 106h1M95 106h1M99 106h1M103 106h1M124 106h1M138 106h2M22 105h1M84 105h1M98 105h1M115 105h1M127 105h1M141 105h1M21 104h1M34 104h1M72 104h1M76 104h1M86 104h1M89 104h1M99 104h2M114 104h1M134 104h1M26 103h1M83 103h1M92 103h1M94 103h1M106 103h1M114 103h1M117 103h2M127 103h1M134 103h1M137 103h1M1 102h1M35 102h1M37 102h1M42 102h1M45 102h1M94 102h1M97 102h1M101 102h1M117 102h1M42 101h2M80 101h1M84 101h1M104 101h1M113 101h1M38 100h2M45 100h1M87 100h1M103 100h1M115 100h1M122 100h1M139 100h1M43 99h1M48 99h1M54 99h1M96 99h1M99 99h1M106 99h1M121 99h1M134 99h1M36 98h1M60 98h1M72 98h1M99 98h1M103 98h1M110 98h1M31 97h1M36 97h1M38 97h1M45 97h1M112 97h1M138 97h1M68 96h2M84 96h1M87 96h1M94 96h1M74 95h1M82 95h1M93 95h1M28 94h2M39 94h1M92 94h1M94 94h1M107 94h1M29 93h1M42 93h1M51 93h1M97 93h1M38 92h1M49 92h1M58 92h1M60 92h1M91 92h1M98 92h1M44 91h1M47 91h1M54 91h1M59 91h1M46 90h1M49 90h1M56 90h2M89 90h1M40 89h1M61 89h1M74 89h1M42 88h1M52 87h1M91 87h1M56 86h1M52 85h1M62 85h1M44 84h1M28 83h1M51 83h2M51 82h1M57 80h2M53 78h1M27 77h1M55 77h1M62 76h1M55 75h1M55 73h1M57 72h1M54 71h1M28 61h1"/><path stroke="#ffff00" d="M2 127h1M38 126h1M64 126h1M77 126h1M99 125h1M103 125h1M136 125h1M143 125h1M36 123h1M104 123h1M94 122h1M119 122h1M125 122h1M130 122h1M135 122h1M29 121h1M106 121h1M128 121h1M32 120h1M123 120h1M8 119h1M102 119h1M119 119h1M33 118h2M80 118h1M93 118h1M95 118h2M124 118h1M8 117h1M117 117h1M119 117h1M126 117h1M122 116h1M131 116h1M34 115h1M60 115h1M95 115h1M97 115h1M100 115h1M114 115h1M13 114h2M17 114h1M78 114h1M90 114h1M133 114h1M32 113h1M38 113h1M75 113h1M100 113h1M107 113h1M109 113h1M132 113h1M11 112h1M20 112h1M25 112h1M64 112h1M92 112h1M111 112h1M116 112h1M125 112h1M132 112h1M137 112h1M18 111h1M76 111h1M87 111h1M99 111h1M109 111h1M114 111h1M139 111h2M142 111h1M0 110h1M10 110h1M17 110h1M26 110h1M39 110h1M70 110h1M101 110h1M118 110h1M35 109h1M38 109h1M45 109h1M58 109h1M67 109h1M69 109h1M98 109h1M109 109h1M113 109h1M119 109h1M131 109h1M14 108h1M32 108h1M39 108h1M48 108h1M70 108h1M85 108h1M94 108h1M104 108h1M109 108h1M126 108h1M16 107h1M22 107h1M26 107h1M30 107h1M35 107h2M95 107h1M99 107h1M106 107h1M118 107h1M124 107h1M133 107h1M137 107h1M14 106h1M38 106h1M84 106h1M86 106h1M38 105h1M56 105h1M120 105h1M125 105h1M138 105h2M16 104h1M20 104h1M22 104h1M67 104h1M85 104h1M88 104h1M94 104h1M103 104h1M125 104h1M16 103h1M41 103h1M109 103h1M32 102h1M61 102h1M66 102h1M80 102h1M84 102h1M116 102h1M141 102h1M24 101h1M66 101h1M92 101h1M106 101h1M86 100h1M104 100h1M106 100h1M109 100h1M114 100h1M57 99h1M79 99h1M89 99h1M97 99h1M100 99h1M112 99h1M19 98h1M29 98h1M32 98h1M44 98h1M62 98h1M64 98h1M69 98h1M79 98h1M82 98h1M87 98h2M109 98h1M134 98h1M63 97h2M70 97h1M72 97h1M75 97h1M80 97h1M85 97h1M88 97h1M91 97h1M94 97h1M44 96h1M71 96h1M77 96h1M31 95h1M39 95h1M63 95h1M77 95h1M31 94h1M38 94h1M60 94h2M64 94h1M72 94h1M84 94h2M54 93h1M56 93h1M61 93h1M80 93h2M83 93h2M88 93h2M92 93h1M26 92h1M51 92h2M57 92h1M59 92h1M65 92h2M68 92h1M82 92h1M87 92h1M29 91h1M41 91h1M57 91h1M60 91h1M65 91h1M69 91h1M78 91h1M26 90h2M42 90h1M51 90h1M69 90h1M90 90h1M107 90h1M50 89h1M66 89h1M75 89h1M107 89h1M53 88h1M73 88h1M28 87h1M38 87h1M58 87h1M73 87h1M28 86h1M59 86h1M69 86h1M38 85h1M57 85h1M69 85h1M56 84h1M62 83h1M28 82h1M62 82h1M61 81h1M73 81h1M55 79h1M58 76h1M60 74h1M61 73h1M61 72h1M58 70h1M55 67h1M61 67h1M57 56h1"/><path stroke="#ffef00" d="M35 127h1M4 126h1M13 126h1M19 126h1M25 126h1M33 126h1M72 126h1M119 126h1M121 125h1M130 125h1M137 125h1M139 125h1M72 123h1M135 123h1M102 122h1M124 122h1M136 122h1M103 121h1M33 120h1M99 120h1M126 120h1M38 119h1M43 119h1M122 119h1M1 118h1M5 118h1M37 118h1M99 118h1M106 118h1M108 118h1M132 118h1M2 117h1M80 117h1M95 117h1M120 117h1M130 117h1M132 117h1M14 116h1M37 116h1M43 116h1M45 116h1M59 116h1M99 116h2M108 116h1M114 116h2M117 116h1M121 116h1M137 116h1M7 115h1M35 115h1M45 115h1M91 115h1M121 115h1M126 115h1M7 114h1M15 114h1M64 114h1M128 114h1M131 114h2M135 114h1M11 113h1M39 113h1M58 113h1M70 113h2M88 113h1M111 113h2M127 113h1M137 113h1M142 113h1M17 112h1M41 112h1M62 112h1M65 112h1M74 112h1M83 112h1M102 112h1M136 112h1M142 112h1M11 111h1M40 111h1M64 111h1M74 111h1M16 110h1M18 110h1M21 110h1M30 110h1M41 110h1M56 110h1M61 110h1M72 110h1M86 110h1M111 110h1M113 110h2M140 110h1M10 109h1M13 109h1M19 109h1M37 109h1M44 109h1M46 109h1M82 109h1M86 109h1M107 109h1M118 109h1M126 109h1M134 109h1M18 108h1M23 108h1M41 108h1M45 108h1M77 108h1M88 108h1M95 108h1M124 108h1M131 108h2M138 108h1M19 107h2M28 107h1M37 107h2M81 107h1M112 107h1M102 106h1M112 106h1M120 106h1M134 106h1M10 105h1M26 105h1M78 105h1M86 105h1M91 105h1M126 105h1M128 105h1M10 104h1M24 104h1M45 104h1M74 104h1M78 104h1M84 104h1M91 104h1M95 104h1M111 104h1M21 103h1M30 103h1M44 103h1M91 103h1M112 103h1M16 102h1M98 102h3M106 102h1M112 102h1M118 102h1M27 101h1M37 101h1M101 101h1M141 101h1M30 100h1M53 100h1M76 100h1M84 100h1M93 100h1M96 100h1M99 100h2M121 100h1M19 99h1M37 99h1M39 99h1M44 99h1M85 99h1M103 99h1M109 99h1M114 99h1M38 98h1M46 98h1M56 98h1M78 98h1M69 97h1M42 96h1M62 96h2M70 96h1M88 96h1M60 95h1M69 95h1M72 95h1M80 95h1M48 94h1M51 94h1M59 94h1M62 94h1M65 94h1M74 94h1M83 94h1M41 93h1M57 93h1M64 93h1M85 93h1M72 92h1M107 92h1M38 91h1M49 91h1M76 91h1M82 91h1M91 91h1M97 91h1M29 90h1M54 90h1M79 90h1M73 89h1M51 88h2M27 87h1M43 87h1M53 87h1M54 85h1M58 85h1M61 85h1M76 85h1M58 84h1M56 83h1M61 83h1M61 78h1M57 76h1M61 76h1M57 73h1M59 70h1M28 60h1M61 59h1M61 58h1"/><path stroke="#ffdf00" d="M3 126h1M9 126h1M23 126h1M55 126h1M59 126h1M80 126h1M84 126h1M93 126h1M107 125h1M116 125h1M132 125h1M138 125h1M117 123h1M106 122h1M5 121h1M43 121h1M105 121h1M34 120h1M88 120h1M96 120h1M117 120h1M2 119h1M42 119h1M104 119h1M109 119h1M123 119h1M134 119h1M18 118h1M23 118h1M25 118h1M69 118h1M102 118h1M118 118h1M17 117h1M91 117h1M113 117h2M122 117h1M133 117h1M46 116h1M93 116h1M95 116h1M102 116h1M113 116h1M13 115h1M32 115h1M42 115h1M67 115h1M69 115h1M96 115h1M112 115h1M132 115h1M134 115h1M26 114h1M30 114h1M37 114h1M82 114h1M100 114h1M127 114h1M16 113h1M37 113h1M77 113h1M92 113h3M102 113h2M16 112h1M28 112h1M38 112h1M73 112h1M104 112h1M113 112h1M17 111h1M27 111h1M67 111h1M78 111h1M19 110h1M74 110h1M102 110h1M15 109h1M20 109h1M24 109h1M47 109h1M83 109h1M102 109h1M104 109h1M22 108h1M36 108h2M47 108h1M80 108h1M99 108h1M101 108h1M112 108h1M137 108h1M14 107h1M39 107h1M44 107h1M47 107h1M64 107h1M66 107h1M101 107h1M119 107h1M41 106h1M85 106h1M96 106h1M101 106h1M140 106h1M45 105h1M100 105h1M103 105h1M97 104h1M24 103h1M42 103h2M57 103h1M97 103h1M120 103h1M122 103h1M125 103h1M26 102h1M105 102h1M41 101h1M56 101h1M90 101h1M103 101h1M28 100h1M37 100h1M63 100h1M90 100h1M111 100h1M42 99h1M61 99h1M69 99h1M76 99h1M84 99h1M88 99h1M96 98h1M115 98h1M27 97h1M42 97h1M44 97h1M53 97h1M67 97h1M78 97h1M81 97h1M27 96h1M48 96h1M53 96h1M61 96h1M67 96h1M74 96h2M80 96h1M26 95h1M48 95h1M66 95h1M79 95h1M86 95h1M53 94h1M56 94h1M75 94h1M112 94h1M28 93h1M30 93h1M47 93h1M66 93h1M72 93h2M42 92h1M46 92h1M84 92h1M26 91h1M42 91h1M74 91h1M50 90h1M55 90h1M74 90h1M44 89h1M57 89h1M76 89h1M61 88h1M54 87h1M38 86h1M58 86h1M59 85h1M28 84h1M52 84h1M52 82h1M55 82h1M54 81h1M54 79h1M60 78h1M57 77h1M60 76h1M60 75h1M61 68h1M58 66h1"/><path stroke="#ffcf00" d="M11 126h1M17 126h1M20 126h1M26 126h1M36 126h1M39 126h1M46 126h1M62 126h1M74 126h1M76 126h1M81 126h1M117 125h1M45 124h1M120 124h2M4 123h1M94 123h1M100 123h1M134 123h1M2 122h1M103 122h1M123 122h1M23 121h1M88 121h1M98 121h2M113 121h1M121 121h1M5 120h1M14 120h1M70 120h1M106 120h1M36 119h1M39 119h1M68 119h1M100 119h1M106 119h1M8 118h1M32 118h1M38 118h1M66 118h1M92 118h1M103 118h1M113 118h1M143 118h1M12 117h1M20 117h1M32 117h1M43 117h1M45 117h1M71 117h1M135 117h1M19 116h1M66 116h1M77 116h1M84 116h1M90 116h1M112 116h1M126 116h1M130 116h1M11 115h1M17 115h1M30 115h1M44 115h1M61 115h1M71 115h1M118 115h1M140 115h1M21 114h1M67 114h1M71 114h1M77 114h1M136 114h1M134 113h1M22 112h1M29 112h1M112 112h1M134 112h1M16 111h1M30 111h2M33 111h1M36 111h1M43 111h1M63 111h1M75 111h1M90 111h1M116 111h1M33 110h1M37 110h1M44 110h1M65 110h1M69 110h1M80 110h1M84 110h1M87 110h1M31 109h1M40 109h1M66 109h1M71 109h1M87 109h1M110 109h1M138 109h1M10 108h1M25 108h2M31 108h1M82 108h1M92 108h1M102 108h1M25 107h1M40 107h1M45 107h1M74 107h1M80 107h1M83 107h1M90 107h1M94 107h1M98 107h1M126 107h2M140 107h1M26 106h1M45 106h1M54 106h1M66 106h1M92 106h1M115 106h1M25 105h1M58 105h1M85 105h1M90 105h1M94 105h2M99 105h1M80 104h1M90 104h1M120 104h1M46 103h1M78 103h1M87 103h1M111 103h1M63 102h1M78 102h1M70 101h1M93 101h1M96 101h1M99 101h2M42 100h1M74 100h1M79 100h1M107 100h1M27 99h1M50 99h1M56 99h1M63 99h1M82 99h1M87 99h1M115 99h1M57 98h1M61 98h1M86 98h1M73 97h1M96 97h1M26 96h1M47 96h1M50 96h1M52 96h1M57 96h1M66 96h1M79 96h1M86 96h1M75 95h1M44 94h1M52 94h1M46 93h1M55 93h1M58 93h1M90 93h1M107 93h1M28 92h1M47 92h1M56 92h1M62 92h1M97 92h1M87 91h1M76 90h1M42 89h1M56 89h1M87 89h1M44 88h1M54 86h1M61 84h1M60 79h1M58 77h1M60 77h1"/><path stroke="#ffbf00" d="M0 126h1M41 126h1M45 126h1M47 126h1M68 126h1M76 125h1M96 125h1M112 125h1M120 125h1M126 125h1M100 124h1M127 124h1M140 124h1M142 124h1M2 123h1M7 123h1M96 123h1M118 123h1M138 122h1M44 121h1M97 121h1M120 121h1M130 121h1M138 121h2M15 120h1M39 120h1M108 120h1M115 120h2M130 120h1M133 120h1M139 120h1M9 119h1M34 119h1M99 119h1M17 118h1M41 118h1M107 118h1M111 118h1M3 117h1M25 116h2M44 116h1M71 116h1M103 116h1M135 116h1M27 115h1M38 115h1M90 115h1M103 115h1M111 115h1M123 115h1M16 114h1M27 114h1M85 114h1M25 113h1M33 113h1M69 113h1M99 113h1M34 112h1M40 112h1M80 112h1M82 112h1M82 111h2M102 111h1M104 111h1M36 110h1M85 110h1M89 110h1M138 110h1M29 109h1M41 109h1M54 109h1M84 109h1M27 108h1M57 108h2M66 108h1M83 108h1M119 108h1M43 107h1M71 107h1M78 107h1M87 107h1M92 107h1M44 106h1M94 106h1M98 106h1M126 106h1M16 105h1M20 105h1M40 105h1M43 105h1M51 105h1M111 105h1M31 104h1M35 104h1M65 104h1M69 104h2M75 104h1M83 104h1M87 104h1M28 103h1M58 103h1M29 102h1M31 102h1M65 102h1M74 102h1M77 102h1M29 101h2M82 101h1M29 100h1M41 100h1M73 100h1M75 100h1M77 100h1M89 100h1M97 100h1M28 99h1M46 99h1M49 99h1M64 99h1M68 99h1M27 98h1M52 98h1M60 97h1M87 97h1M51 96h1M54 96h1M58 96h1M82 96h1M57 95h1M59 95h1M65 95h1M87 95h1M27 94h1M41 94h1M46 94h1M74 93h1M54 92h1M70 92h1M74 92h1M76 92h1M46 89h1M51 89h1M46 88h1M57 83h1M60 83h1M52 81h1M54 80h1M57 78h1M61 77h1"/><path stroke="#ffaf00" d="M42 126h1M48 126h1M52 126h1M57 126h1M78 126h1M88 126h1M90 126h1M9 125h1M95 125h1M98 125h1M100 125h1M102 125h1M106 125h1M9 124h1M101 124h1M123 124h2M131 124h1M22 123h1M120 122h1M134 122h1M3 121h1M6 121h1M39 121h1M66 121h1M108 121h1M123 121h1M74 120h2M104 120h1M112 120h1M114 120h1M134 120h1M137 120h1M140 120h1M5 119h1M57 119h1M91 119h1M118 119h1M7 118h1M12 118h1M30 118h1M43 118h1M58 118h1M97 118h1M22 117h1M26 117h1M37 117h1M62 117h1M88 117h1M115 117h1M137 117h1M143 117h1M11 116h1M16 116h1M30 116h1M33 116h1M35 116h1M61 116h1M16 115h1M48 115h1M59 115h1M65 115h1M70 115h1M79 115h1M25 114h1M31 114h1M35 114h1M55 114h1M65 114h2M88 114h1M103 114h1M20 113h1M36 113h1M141 113h1M24 112h1M53 112h1M78 112h1M90 112h1M99 112h1M110 112h1M21 111h1M35 111h1M60 111h1M72 111h1M81 111h1M113 111h1M31 110h1M35 110h1M58 110h1M60 110h1M64 110h1M68 110h1M71 110h1M39 109h1M52 109h1M64 109h1M70 109h1M77 109h1M85 109h1M88 109h1M91 109h1M127 109h1M140 109h1M40 108h1M69 108h1M87 108h1M90 108h1M33 107h1M72 107h1M76 107h1M16 106h1M51 106h1M64 106h1M67 106h1M80 106h3M27 105h1M43 104h1M56 104h1M63 104h1M47 103h1M64 103h1M89 103h1M96 103h1M44 101h1M88 101h1M105 101h1M112 101h1M46 100h1M49 100h2M112 100h1M29 99h1M107 99h1M50 97h1M71 97h1M55 96h1M60 96h1M65 96h1M72 96h1M44 95h1M76 95h1M81 95h1M55 94h1M73 94h1M88 94h1M62 93h1M44 92h1M27 91h1M87 90h1M77 89h1M27 88h1M57 88h1M76 86h1M59 83h1M57 82h1M60 82h1M57 79h1M55 72h1"/><path stroke="#ff9f00" d="M31 126h1M34 126h1M40 126h1M66 126h1M71 126h1M5 125h1M39 125h1M42 125h1M119 125h1M127 125h1M2 124h1M119 124h1M37 123h1M88 123h1M119 123h1M123 123h1M131 123h1M4 122h1M93 122h1M96 122h1M118 122h1M33 121h1M45 121h1M110 121h1M116 121h1M132 121h1M137 121h1M140 121h1M142 121h1M23 120h1M51 120h1M64 120h1M92 120h1M113 120h1M35 119h1M74 119h1M88 119h1M137 119h1M24 118h1M27 118h1M136 118h2M39 117h1M93 117h1M103 117h1M112 117h1M57 116h1M89 116h1M33 115h1M41 115h1M63 115h1M82 115h1M86 115h1M115 115h1M139 115h1M20 114h1M22 114h1M48 114h1M75 114h1M80 114h1M97 114h1M111 114h1M26 113h1M31 113h1M55 113h1M57 113h1M64 113h2M86 113h1M26 112h1M31 112h1M66 112h1M97 112h1M25 111h1M56 111h1M61 111h1M24 110h1M27 110h1M42 110h2M88 110h1M33 109h1M68 109h1M89 109h1M94 109h1M97 109h1M112 109h1M38 108h1M68 108h1M72 108h1M134 108h1M140 108h1M77 107h1M27 106h2M30 106h2M33 106h1M40 106h1M65 106h1M69 106h1M29 105h1M39 105h1M44 105h1M74 105h1M77 105h1M80 105h1M102 105h1M50 104h1M73 104h1M82 104h1M29 103h1M51 103h1M60 103h1M30 102h1M67 102h1M28 101h1M51 101h1M54 101h1M61 101h1M72 101h1M56 100h1M64 100h2M82 100h1M58 99h2M71 99h1M86 99h1M28 98h1M48 98h1M68 98h1M76 98h1M52 97h1M54 97h1M59 97h1M68 97h1M107 97h1M52 95h1M55 95h1M78 95h1M66 94h1M79 94h1M81 94h1M44 93h1M49 93h1M70 93h1M76 93h2M87 93h1M73 92h1M77 92h1M59 84h1M55 71h1"/><path stroke="#ff8f00" d="M5 126h1M7 126h1M22 126h1M29 126h1M54 126h1M60 126h1M69 126h1M85 126h2M20 125h1M22 125h1M111 125h1M128 125h1M133 125h1M12 124h1M88 124h1M96 124h1M114 124h1M15 123h1M29 123h1M102 123h1M105 123h1M115 123h1M124 123h1M133 123h1M32 122h1M86 122h1M99 122h1M111 122h1M116 122h1M143 122h1M96 121h1M115 121h1M136 121h1M40 120h1M43 120h1M109 120h1M0 119h1M12 119h2M21 119h1M50 119h1M70 119h1M75 119h1M78 119h1M14 118h1M110 118h1M133 118h1M13 117h1M16 117h1M48 117h1M75 117h1M89 117h1M97 117h1M108 117h1M116 117h1M18 116h1M75 116h1M86 116h1M141 116h1M1 115h1M75 115h1M78 115h1M81 115h1M83 115h1M102 115h1M116 115h1M11 114h1M69 114h1M102 114h1M19 113h1M30 113h1M41 113h1M61 113h1M66 113h2M140 113h1M48 112h1M51 112h1M61 112h1M67 112h1M70 112h3M94 112h1M103 112h1M24 111h1M26 111h1M28 111h1M46 111h1M69 111h2M88 111h1M93 111h1M107 111h1M66 110h1M76 110h1M107 110h1M25 109h1M72 109h1M80 109h1M28 108h1M51 108h1M53 108h1M55 108h1M64 108h1M73 108h1M79 108h1M42 107h1M48 107h1M68 107h1M75 107h1M79 107h1M134 107h1M39 106h1M49 106h1M79 106h1M107 106h1M53 105h1M75 105h1M79 105h1M82 105h1M47 104h1M57 104h1M79 104h1M112 104h1M63 103h1M67 103h1M69 103h1M74 103h1M76 103h1M84 103h1M88 103h1M102 103h1M110 103h1M55 102h1M68 102h1M64 101h1M76 101h2M44 100h1M57 100h1M81 100h1M52 99h1M50 98h2M28 97h1M48 97h1M58 97h1M61 97h1M79 97h1M46 96h1M78 96h1M46 95h1M54 95h1M56 95h1M62 95h1M47 94h1M76 94h2M28 91h1M77 91h1M76 87h1"/><path stroke="#ff8000" d="M21 126h1M28 126h1M53 126h1M58 126h1M91 126h1M38 125h1M43 125h1M54 125h2M80 125h2M109 125h1M8 124h1M103 124h1M115 124h1M132 124h1M134 124h1M11 123h1M90 123h1M125 123h2M141 123h1M0 122h1M84 122h1M95 122h1M98 122h1M139 122h1M2 121h1M12 121h1M14 121h1M37 121h1M95 121h1M100 121h1M107 121h1M111 121h1M3 120h1M9 120h1M36 120h1M81 120h1M85 120h1M107 120h1M7 119h1M17 119h1M44 119h1M92 119h1M112 119h1M140 119h2M3 118h1M21 118h1M26 118h1M62 118h1M90 118h1M141 118h1M1 117h1M18 117h2M25 117h1M50 117h1M78 117h1M136 117h1M63 116h1M65 116h1M67 116h1M81 116h1M83 116h1M36 115h1M39 115h1M66 115h1M88 115h1M141 115h1M10 114h1M57 114h1M62 114h1M68 114h1M81 114h1M107 114h1M110 114h1M115 114h1M141 114h1M45 113h1M62 113h1M81 113h1M89 113h1M45 112h1M69 112h1M10 111h1M29 111h1M51 111h1M111 111h1M20 110h1M22 110h1M97 110h1M27 109h1M43 109h1M61 109h1M65 109h1M44 108h1M56 108h1M67 108h1M71 108h1M91 108h1M31 107h1M42 106h1M61 106h1M63 106h1M72 106h1M74 106h1M91 106h1M68 105h1M87 105h1M107 105h1M28 104h1M30 104h1M44 104h1M48 104h1M58 104h1M71 104h1M110 104h1M59 103h1M61 103h2M46 102h1M50 102h1M64 102h1M72 102h1M76 102h1M88 102h2M96 102h1M107 102h1M46 101h1M55 101h1M58 101h1M65 101h1M79 101h1M89 101h1M110 101h1M52 100h1M54 100h1M66 100h1M65 99h1M54 98h1M59 98h1M71 98h1M74 98h1M65 97h2M74 97h1M56 96h1M28 95h1M47 95h1M53 95h1M49 94h1M54 94h1M27 93h1M27 92h1M28 90h1M77 90h1"/><path stroke="#ff7000" d="M12 126h1M15 126h1M24 126h1M30 126h1M50 126h1M61 126h1M65 126h1M83 126h1M31 125h1M51 125h1M72 125h1M113 125h1M122 125h1M141 125h1M1 124h1M86 124h1M116 124h1M125 124h1M18 123h1M116 123h1M3 122h1M133 122h1M31 121h1M64 121h1M68 121h1M91 121h1M118 121h1M2 120h1M8 120h1M21 120h2M59 120h1M65 120h1M90 120h1M100 120h1M118 120h1M3 119h1M15 119h2M23 119h1M27 119h1M31 119h1M81 119h1M83 119h1M85 119h1M139 119h1M19 118h1M22 118h1M36 118h1M42 118h1M45 118h1M48 118h1M71 118h1M85 118h1M89 118h1M112 118h1M115 118h1M30 117h1M38 117h1M82 117h1M10 116h1M38 116h1M49 116h1M85 116h1M10 115h1M19 115h1M25 115h2M51 115h1M87 115h1M89 115h1M107 115h1M42 114h2M86 114h1M43 113h1M80 113h1M87 113h1M10 112h1M46 112h1M50 112h1M54 112h1M81 112h1M139 112h1M20 111h1M42 111h1M66 111h1M45 110h1M49 110h1M77 110h2M112 110h1M73 109h2M111 109h1M46 108h1M60 108h1M62 108h2M65 108h1M46 107h1M60 107h1M63 107h1M69 107h2M91 107h1M107 107h1M57 106h2M60 106h1M78 106h1M87 106h1M110 106h1M28 105h1M31 105h1M47 105h1M49 105h1M63 105h1M76 105h1M112 105h1M66 104h1M102 104h1M65 103h1M71 103h1M75 103h1M79 103h1M57 102h1M48 101h1M57 101h1M59 101h1M69 101h1M73 101h1M75 101h1M51 100h1M59 100h1M62 100h1M51 99h1M73 99h1M107 98h1M51 97h1M55 97h1M73 96h1M87 94h1"/><path stroke="#ff6000" d="M82 126h1M92 126h1M27 124h1M104 124h2M112 124h1M128 124h1M133 124h1M5 123h1M9 123h1M106 123h1M122 123h1M132 123h1M6 122h1M39 122h1M97 122h1M137 122h1M4 121h1M7 121h1M9 121h1M46 121h1M63 121h1M92 121h1M133 121h2M141 121h1M16 120h1M79 120h1M83 120h1M111 120h1M11 119h1M22 119h1M62 119h3M80 119h1M107 119h1M115 119h1M16 118h1M67 118h1M75 118h1M11 117h1M20 116h1M39 116h1M48 116h1M50 116h1M62 116h1M64 116h1M78 116h1M88 116h1M116 116h1M40 115h1M50 115h1M55 115h1M80 115h1M110 115h1M136 115h1M36 114h1M44 114h1M60 114h1M72 114h1M87 114h1M140 114h1M68 113h1M73 113h1M76 113h1M83 113h1M97 113h1M47 112h1M63 112h1M77 112h1M45 111h1M103 111h1M138 111h1M48 110h1M52 110h1M63 110h1M75 110h1M94 110h1M56 109h1M60 109h1M75 109h1M103 109h1M59 108h1M61 108h1M110 108h1M57 107h1M29 106h1M53 106h1M30 105h1M110 105h1M46 104h1M60 104h1M62 104h1M64 104h1M54 103h1M81 103h1M47 102h1M60 102h1M81 102h1M110 102h1M50 101h1M107 101h1M61 100h1M53 99h1M62 99h1M53 98h1M55 98h1M67 98h1M47 97h1M73 95h1"/><path stroke="#ff5000" d="M1 126h2M10 126h1M18 126h1M27 126h1M44 126h1M73 126h1M87 126h1M3 125h1M15 125h1M71 125h1M86 125h1M90 125h1M93 125h1M110 125h1M15 124h1M18 124h1M84 124h1M94 124h1M98 124h1M102 124h1M109 124h1M6 123h1M69 123h1M76 123h1M98 123h2M108 123h1M74 122h1M88 122h1M92 122h1M132 122h1M140 122h1M142 122h1M34 121h1M90 121h1M114 121h1M31 120h1M35 120h1M37 120h1M91 120h1M93 120h1M138 120h1M24 119h1M30 119h1M41 119h1M76 119h1M136 119h1M11 118h1M20 118h1M53 118h1M79 118h1M56 117h1M77 117h1M84 117h1M107 117h1M22 116h1M54 116h1M69 116h2M80 116h1M107 116h1M21 115h2M29 115h1M47 115h1M54 115h1M57 115h1M61 114h1M79 114h1M89 114h1M139 114h1M27 113h2M48 113h1M53 113h1M44 112h1M68 112h1M88 112h1M47 111h1M59 111h1M71 111h1M73 111h1M94 111h1M110 111h1M25 110h1M29 110h1M46 110h1M103 110h1M48 109h2M63 109h1M107 108h1M58 107h1M67 107h1M82 107h1M103 107h1M48 106h1M50 106h1M83 106h1M111 106h1M50 105h1M60 105h1M64 105h1M42 104h1M51 104h1M51 102h1M54 102h1M71 102h1M79 102h1M52 101h1M69 100h1M71 100h1M66 99h1M28 96h1M76 96h1"/><path stroke="#ff4000" d="M37 126h1M63 126h1M70 126h1M75 126h1M16 125h2M27 125h1M41 125h1M49 125h1M91 125h1M71 124h1M137 124h2M1 123h1M8 123h1M67 123h1M86 123h1M92 123h1M114 123h1M138 123h1M9 122h1M18 122h1M113 122h2M0 121h1M11 121h1M72 121h1M74 121h1M79 121h1M109 121h1M0 120h2M12 120h1M30 120h1M52 120h1M77 120h1M25 119h1M37 119h1M45 119h2M86 119h1M90 119h1M70 118h1M83 118h1M88 118h1M10 117h1M36 117h1M42 117h1M59 117h1M65 117h1M86 117h1M110 117h1M141 117h1M1 116h1M58 116h1M72 116h1M110 116h1M136 116h1M58 115h1M62 115h1M68 115h1M41 114h1M58 114h1M46 113h1M72 113h1M42 112h1M76 112h1M138 112h1M58 111h1M73 110h1M59 109h1M62 109h1M103 108h1M111 108h1M56 107h1M110 107h2M47 106h1M71 106h1M42 105h1M46 105h1M48 105h1M59 105h1M83 105h1M61 104h1M68 104h1M68 103h1M107 103h1M62 102h1M75 102h1M53 101h1M62 101h1M67 101h2M81 101h1M58 100h1M70 100h1M47 99h1M60 99h1M65 98h1M73 98h1M76 97h1"/><path stroke="#ff3000" d="M14 126h1M40 125h1M46 125h1M78 125h1M88 125h1M5 124h1M39 124h3M72 124h1M117 124h1M139 124h1M26 123h1M39 123h1M70 123h1M112 123h1M136 123h2M142 123h2M26 122h1M37 122h1M43 122h2M73 122h1M112 122h1M8 121h1M51 121h1M70 121h1M73 121h1M81 121h1M93 121h1M11 120h1M27 120h1M136 120h1M20 119h1M51 119h1M55 119h1M67 119h1M84 119h1M89 119h1M110 119h1M10 118h1M31 118h1M51 118h1M55 118h1M86 118h1M139 118h1M31 117h1M44 117h1M54 117h1M61 117h1M63 117h1M66 117h2M81 117h1M83 117h1M139 117h1M47 116h1M28 115h1M46 115h1M73 115h1M138 115h1M19 114h1M54 114h1M73 114h1M42 113h1M44 113h1M138 113h1M27 112h1M60 112h1M49 111h1M52 111h1M110 110h1M55 109h1M29 107h1M49 107h1M51 107h1M76 106h1M61 105h1M70 105h1M81 105h1M49 104h1M59 104h1M107 104h1M56 103h1M73 103h1M48 102h1M49 101h1M47 100h1M70 98h1"/><path stroke="#ff2000" d="M2 125h1M77 125h1M85 125h1M4 124h1M29 124h1M31 124h1M61 124h1M81 124h1M92 124h1M106 124h1M141 124h1M143 124h1M12 123h1M38 123h1M109 123h1M139 123h1M5 122h1M29 122h1M68 122h1M72 122h1M10 121h1M59 121h1M85 121h1M112 121h1M13 120h1M25 120h1M38 120h1M42 120h1M45 120h1M84 120h1M86 120h1M141 120h1M26 119h1M79 119h1M138 119h1M57 118h1M60 118h2M72 118h1M84 118h1M35 117h1M40 117h1M46 117h1M57 117h1M69 117h2M72 117h1M138 117h1M40 116h1M52 116h1M55 116h1M87 116h1M139 116h1M20 115h1M49 115h1M53 115h1M47 114h1M50 114h1M59 114h1M138 114h1M29 113h1M40 113h1M50 113h1M63 113h1M79 113h1M139 113h1M55 112h1M59 112h1M77 111h1M28 110h1M50 110h1M54 110h1M79 110h1M28 109h1M79 109h1M29 108h1M78 108h1M50 107h1M62 107h1M73 107h1M46 106h1M70 106h1M71 105h1M53 104h1M49 103h1M56 102h1M59 102h1M47 101h1M67 100h1M55 99h1M67 99h1M47 98h1M66 98h1"/><path stroke="#ff1000" d="M8 126h1M35 126h1M1 125h1M6 125h1M34 125h1M59 125h1M61 125h1M6 124h1M11 124h1M35 124h2M70 124h1M77 124h1M97 124h1M99 124h1M122 124h1M136 124h1M3 123h1M74 123h1M95 123h1M97 123h1M111 123h1M7 122h2M12 122h1M34 122h1M36 122h1M69 122h1M76 122h2M85 122h1M90 122h2M109 122h1M20 121h1M30 121h1M35 121h1M76 121h2M84 121h1M86 121h2M89 121h1M62 120h1M80 120h1M87 120h1M110 120h1M65 119h1M73 119h1M77 119h1M44 118h1M63 118h1M76 118h1M81 118h1M49 117h1M51 117h2M60 117h1M51 116h1M53 116h1M60 116h1M28 114h1M40 114h1M46 114h1M63 114h1M76 114h1M49 113h1M59 113h1M62 111h1M59 110h1M78 109h1M54 108h1M54 107h1M59 107h1M52 105h1M52 104h1M81 104h1M52 102h2M73 102h1M60 101h1M60 100h1M68 100h1"/><path stroke="#ff0000" d="M4 125h1M7 125h1M11 125h1M45 125h1M47 125h1M66 125h1M79 125h1M38 124h1M76 124h1M80 124h1M108 124h1M34 123h1M40 123h2M84 123h1M93 123h1M110 123h1M113 123h1M11 122h1M23 122h1M30 122h2M33 122h1M46 122h1M80 122h1M110 122h1M36 121h1M80 121h1M20 120h1M57 120h2M63 120h1M72 120h1M52 119h1M60 119h1M71 119h1M35 118h1M40 118h1M65 118h1M73 118h1M82 118h1M138 118h1M21 117h1M55 117h1M21 116h1M31 116h1M31 115h1M76 115h1M49 114h1M54 113h1M52 112h1M56 112h1M58 112h1M54 111h1M53 110h1M42 108h1M50 108h1M62 106h1M73 106h1M48 103h1M55 100h1M70 99h1"/><path stroke="#ef0000" d="M32 125h1M84 125h1M0 124h1M7 124h1M22 124h1M34 124h1M46 124h1M78 124h1M90 124h1M111 124h1M31 123h1M77 123h2M81 123h1M22 122h1M55 122h1M61 122h1M65 122h1M15 121h1M17 121h1M21 121h1M71 121h1M49 120h1M67 120h1M76 120h1M78 120h1M82 120h1M89 120h1M10 119h1M69 119h1M52 118h1M64 118h1M68 118h1M77 118h1M53 117h1M64 117h1M68 116h1M60 113h1M49 112h1M50 109h2M53 107h1M62 105h1M73 105h1M52 103h1M49 102h1"/><path stroke="#df0000" d="M26 125h1M33 125h1M35 125h2M58 125h1M63 125h2M28 124h1M107 124h1M23 123h1M25 123h1M44 123h1M61 123h1M80 123h1M83 123h1M14 122h1M17 122h1M38 122h1M45 122h1M81 122h1M107 122h1M38 121h1M52 121h1M55 121h1M75 121h1M19 120h1M55 120h1M54 119h1M59 119h1M72 119h1M87 119h1M46 118h1M54 118h1M27 117h1M58 117h1M27 116h1M56 116h1M52 115h1M29 114h1M56 114h1M79 112h1M55 111h1M79 111h1M55 110h1M62 110h1M53 109h1M52 108h1M54 105h1M53 103h1M55 103h1"/><path stroke="#cf0000" d="M12 125h1M23 125h1M52 125h1M67 125h1M70 125h1M92 125h1M65 124h1M83 124h1M113 124h1M32 123h2M45 123h1M49 123h1M63 123h2M73 123h1M107 123h1M1 122h1M24 122h1M41 122h1M54 122h1M71 122h1M78 122h1M87 122h1M89 122h1M1 121h1M18 121h2M22 121h1M40 121h1M58 121h1M62 121h1M10 120h1M41 120h1M71 120h1M18 119h2M40 119h1M48 119h1M56 119h1M58 119h1M56 118h1M59 118h1M29 116h1M73 116h1M76 116h1M53 114h1M51 113h2M49 108h1M52 106h1M54 104h1"/><path stroke="#bf0000" d="M25 125h1M56 125h1M65 125h1M17 124h1M49 124h1M51 124h1M55 124h1M69 124h1M16 123h1M28 123h1M46 123h1M71 123h1M15 122h1M40 122h1M51 122h1M66 122h1M41 121h1M61 121h1M69 121h1M56 120h1M53 119h1M29 117h1M73 117h1M87 117h1M51 110h1M55 107h1"/><path stroke="#af0000" d="M0 125h1M13 125h1M21 125h1M24 125h1M29 125h1M48 125h1M60 125h1M68 125h2M75 125h1M82 125h2M89 125h1M3 124h1M23 124h1M37 124h1M62 124h2M67 124h1M95 124h1M110 124h1M17 123h1M24 123h1M53 123h1M59 123h1M62 123h1M58 122h2M63 122h1M67 122h1M79 122h1M26 121h1M49 121h1M53 121h2M67 121h1M82 121h1M24 120h1M46 120h1M53 120h1M69 120h1M82 119h1M29 118h1M47 118h1M87 118h1M68 117h1M76 117h1M56 113h1M52 107h1M55 104h1"/><path stroke="#9f0000" d="M8 125h1M14 125h1M28 125h1M44 125h1M53 125h1M62 125h1M14 124h1M20 124h1M32 124h1M42 124h3M57 124h1M64 124h1M75 124h1M79 124h1M89 124h1M14 123h1M35 123h1M42 123h2M51 123h2M57 123h1M60 123h1M65 123h1M89 123h1M91 123h1M10 122h1M35 122h1M49 122h1M64 122h1M83 122h1M13 121h1M78 121h1M83 121h1M29 120h1M66 120h1M28 119h1M66 119h1M49 118h1M47 117h1M28 116h1M56 115h1M51 114h2M55 105h1"/><path stroke="#8f0000" d="M19 125h1M37 125h1M50 125h1M13 124h1M33 124h1M54 124h1M66 124h1M82 124h1M93 124h1M66 123h1M68 123h1M75 123h1M79 123h1M82 123h1M16 122h1M21 122h1M48 122h1M52 122h1M26 120h1M49 119h1M55 106h1"/><path stroke="#800000" d="M8 128h1M16 128h3M20 128h1M24 128h1M26 128h1M29 128h1M36 128h1M41 128h1M59 128h1M61 128h2M64 128h1M70 128h1M81 128h1M84 128h1M91 128h1M93 128h2M102 128h1M110 128h1M118 128h1M125 128h2M129 128h1M133 128h1M137 128h1M141 128h1M109 127h1M128 127h1M10 125h1M73 125h2M87 125h1M10 124h1M16 124h1M19 124h1M21 124h1M24 124h3M30 124h1M47 124h2M50 124h1M52 124h2M56 124h1M58 124h3M68 124h1M73 124h2M85 124h1M87 124h1M91 124h1M10 123h1M13 123h1M19 123h3M27 123h1M30 123h1M47 123h2M50 123h1M54 123h3M58 123h1M85 123h1M87 123h1M13 122h1M19 122h2M25 122h1M27 122h2M42 122h1M47 122h1M50 122h1M53 122h1M56 122h2M60 122h1M62 122h1M75 122h1M82 122h1M16 121h1M24 121h2M27 121h2M42 121h1M47 121h2M50 121h1M56 121h2M60 121h1M18 120h1M28 120h1M47 120h2M50 120h1M54 120h1M61 120h1M29 119h1M61 119h1M28 118h1M28 117h1M3 99h1M134 87h1M116 86h1M5 85h1M118 82h1M127 77h1M132 76h1M110 75h1M8 74h1M16 74h1M1 73h1M7 73h1M23 72h1M139 72h1M140 71h1M103 70h1M143 70h1M120 69h1M143 69h1M108 68h1M124 67h1M11 65h1M104 65h1M116 65h1M140 65h1M8 64h1M99 63h1M26 60h1M130 60h1M141 60h1M124 59h1M106 58h1M127 58h1M137 58h1M7 57h1M110 57h1M108 56h2M120 56h1M108 55h1M129 55h1M141 55h1M143 55h1M118 54h1M121 54h1M30 53h1M123 53h1M103 52h1M137 52h1M140 52h1M12 51h1M113 51h1M12 50h1M16 50h1M19 50h1M34 50h1M141 50h1M6 49h1M10 49h1M6 48h1M13 48h1M13 47h1M71 47h1M104 47h1M41 46h1M46 46h1M103 46h1M129 46h1M135 46h1M142 46h1M5 45h1M43 44h1M78 44h1M81 44h1M118 44h1M131 44h1M138 44h1M17 43h1M53 43h1M19 42h1M32 42h1M88 42h1M101 42h1M106 42h1M108 42h2M113 42h1M123 42h1M135 42h1M44 41h1M69 41h1M123 41h1M128 41h1M139 41h1M38 40h1M81 40h1M126 40h1M128 40h1M130 40h1M137 40h1M140 40h1M17 39h1M26 39h1M86 39h1M92 39h1M104 39h1M106 39h1M118 39h1M129 39h3M137 39h1M141 39h1M46 38h1M104 38h1M106 38h1M108 38h1M116 38h1M129 38h1M134 38h1M141 38h1M47 37h1M108 37h1M121 37h1M126 37h1M21 36h1M101 36h1M107 36h1M121 36h1M124 36h1M127 36h1M131 36h1M66 35h1M94 35h1M106 35h1M131 35h1M142 35h1M2 34h1M83 34h1M110 34h2M114 34h1M117 34h1M129 34h1M138 34h1M142 34h1M6 33h1M15 33h1M47 33h1M99 33h1M107 33h1M117 33h1M138 33h1M7 32h1M68 32h1M88 32h1M123 32h1M127 32h1M141 32h1M33 31h1M39 31h1M41 31h1M69 31h1M82 31h1M91 31h1M121 31h1M133 31h1M137 31h2M141 31h1M43 30h1M45 30h1M90 30h1M95 30h1M105 30h1M110 30h2M115 30h2M121 30h2M125 30h2M137 30h2M140 30h1M143 30h1M45 29h1M64 29h1M66 29h1M71 29h1M74 29h1M76 29h1M78 29h1M82 29h1M92 29h2M95 29h1M103 29h2M106 29h1M108 29h2M111 29h1M121 29h1M136 29h1M142 29h2M7 28h1M43 28h1M71 28h1M76 28h1M82 28h1M94 28h1M116 28h1M118 28h1M121 28h1M130 28h1M142 28h1M15 27h1M18 27h1M34 27h2M86 27h1M110 27h1M118 27h1M134 27h1M136 27h1M140 27h1M5 26h1M7 26h1M43 26h1M64 26h1M70 26h1M76 26h1M110 26h1M118 26h1M122 26h1M139 26h1M7 25h1M34 25h2M95 25h1M102 25h2M112 25h1M123 25h2M130 25h1M141 25h1M0 24h1M7 24h2M41 24h1M45 24h1M75 24h1M89 24h1M91 24h1M104 24h2M111 24h1M114 24h1M138 24h1M140 24h2M44 23h1M70 23h1M77 23h1M88 23h1M91 23h1M107 23h1M114 23h1M128 23h1M140 23h1M12 22h1M34 22h1M39 22h1M46 22h1M70 22h1M80 22h2M109 22h1M112 22h1M121 22h1M124 22h2M136 22h1M139 22h2M142 22h1M6 21h1M23 21h1M34 21h1M37 21h1M93 21h1M97 21h1M101 21h1M111 21h1M121 21h1M141 21h2M6 20h1M27 20h1M37 20h1M104 20h1M133 20h1M138 20h2M141 20h1M38 19h1M71 19h1M73 19h1M102 19h1M104 19h1M115 19h1M127 19h1M138 19h1M64 18h1M71 18h1M104 18h1M121 18h1M126 18h2M11 17h1M44 17h1M77 17h2M111 17h1M121 17h1M123 17h1M127 17h1M129 17h2M136 17h1M141 17h1M38 16h1M82 16h1M86 16h1M115 16h1M118 16h1M121 16h1M128 16h2M141 16h1M1 15h1M8 15h1M38 15h2M42 15h1M94 15h1M104 15h1M126 15h1M129 15h1M134 15h1M139 15h1M141 15h1M143 15h1M6 14h1M38 14h1M68 14h1M93 14h1M104 14h2M107 14h1M115 14h1M125 14h1M134 14h2M139 14h2M142 14h2M2 13h1M11 13h1M35 13h1M62 13h1M64 13h1M67 13h1M72 13h1M84 13h1M87 13h1M97 13h1M102 13h1M107 13h1M112 13h1M114 13h1M116 13h1M127 13h1M10 12h1M12 12h1M38 12h1M41 12h1M69 12h2M84 12h1M105 12h1M117 12h1M122 12h1M131 12h1M133 12h2M137 12h1M140 12h1M21 11h1M45 11h1M70 11h1M89 11h2M95 11h1M97 11h1M103 11h1M105 11h1M109 11h1M116 11h1M124 11h1M131 11h1M133 11h1M138 11h1M141 11h1M34 10h1M37 10h1M70 10h1M74 10h1M78 10h1M94 10h1M99 10h2M102 10h1M105 10h1M112 10h1M116 10h1M124 10h1M133 10h1M135 10h2M143 10h1M6 9h1M14 9h1M44 9h1M72 9h1M100 9h1M103 9h1M105 9h1M112 9h3M121 9h2M124 9h1M9 8h1M66 8h1M70 8h1M72 8h1M84 8h2M101 8h2M116 8h1M122 8h1M125 8h1M43 7h1M70 7h2M81 7h1M94 7h1M102 7h1M105 7h1M111 7h1M113 7h1M121 7h1M123 7h1M34 6h1M38 6h1M43 6h1M79 6h1M87 6h1M106 6h1M108 6h1M113 6h1M121 6h1M125 6h5M134 6h2M138 6h1M12 5h1M43 5h2M55 5h1M63 5h1M70 5h1M79 5h1M88 5h1M104 5h1M117 5h1M121 5h1M134 5h1M137 5h3M141 5h1M32 4h1M34 4h1M42 4h1M67 4h1M79 4h1M91 4h1M107 4h1M114 4h1M119 4h1M122 4h1M130 4h1M134 4h1M136 4h1M138 4h2M141 4h1M143 4h1M3 3h1M32 3h1M35 3h1M65 3h1M79 3h1M103 3h2M109 3h1M112 3h1M114 3h1M126 3h1M133 3h1M135 3h1M141 3h2M6 2h1M21 2h1M35 2h1M43 2h1M45 2h1M80 2h1M88 2h1M103 2h1M121 2h1M138 2h1M8 1h1M19 1h1M35 1h1M43 1h1M78 1h1M82 1h1M88 1h1M94 1h1M103 1h1M117 1h2M124 1h1M129 1h1M138 1h2M13 0h1M30 0h1M36 0h1M39 0h1M68 0h1M72 0h1M83 0h1M85 0h1M95 0h1M103 0h1M105 0h1M122 0h1M124 0h1M129 0h1M134 0h1M138 0h1M143 0h1"/></g><use href="#hm" filter="url(#bl)" opacity="0.55"/></svg>
<svg style="position:absolute;left:675px;top:45px" width="28" height="490" shape-rendering="crispEdges"><rect x="0" y="482.344" width="28" height="8.156" fill="#00008f"/><rect x="0" y="474.688" width="28" height="8.156" fill="#00009f"/><rect x="0" y="467.031" width="28" height="8.156" fill="#0000af"/><rect x="0" y="459.375" width="28" height="8.156" fill="#0000bf"/><rect x="0" y="451.719" width="28" height="8.156" fill="#0000cf"/><rect x="0" y="444.062" width="28" height="8.156" fill="#0000df"/><rect x="0" y="436.406" width="28" height="8.156" fill="#0000ef"/><rect x="0" y="428.750" width="28" height="8.156" fill="#0000ff"/><rect x="0" y="421.094" width="28" height="8.156" fill="#0010ff"/><rect x="0" y="413.438" width="28" height="8.156" fill="#0020ff"/><rect x="0" y="405.781" width="28" height="8.156" fill="#0030ff"/><rect x="0" y="398.125" width="28" height="8.156" fill="#0040ff"/><rect x="0" y="390.469" width="28" height="8.156" fill="#0050ff"/><rect x="0" y="382.812" width="28" height="8.156" fill="#0060ff"/><rect x="0" y="375.156" width="28" height="8.156" fill="#0070ff"/><rect x="0" y="367.500" width="28" height="8.156" fill="#0080ff"/><rect x="0" y="359.844" width="28" height="8.156" fill="#008fff"/><rect x="0" y="352.188" width="28" height="8.156" fill="#009fff"/><rect x="0" y="344.531" width="28" height="8.156" fill="#00afff"/><rect x="0" y="336.875" width="28" height="8.156" fill="#00bfff"/><rect x="0" y="329.219" width="28" height="8.156" fill="#00cfff"/><rect x="0" y="321.562" width="28" height="8.156" fill="#00dfff"/><rect x="0" y="313.906" width="28" height="8.156" fill="#00efff"/><rect x="0" y="306.250" width="28" height="8.156" fill="#00ffff"/><rect x="0" y="298.594" width="28" height="8.156" fill="#10ffef"/><rect x="0" y="290.938" width="28" height="8.156" fill="#20ffdf"/><rect x="0" y="283.281" width="28" height="8.156" fill="#30ffcf"/><rect x="0" y="275.625" width="28" height="8.156" fill="#40ffbf"/><rect x="0" y="267.969" width="28" height="8.156" fill="#50ffaf"/><rect x="0" y="260.312" width="28" height="8.156" fill="#60ff9f"/><rect x="0" y="252.656" width="28" height="8.156" fill="#70ff8f"/><rect x="0" y="245.000" width="28" height="8.156" fill="#80ff80"/><rect x="0" y="237.344" width="28" height="8.156" fill="#8fff70"/><rect x="0" y="229.688" width="28" height="8.156" fill="#9fff60"/><rect x="0" y="222.031" width="28" height="8.156" fill="#afff50"/><rect x="0" y="214.375" width="28" height="8.156" fill="#bfff40"/><rect x="0" y="206.719" width="28" height="8.156" fill="#cfff30"/><rect x="0" y="199.062" width="28" height="8.156" fill="#dfff20"/><rect x="0" y="191.406" width="28" height="8.156" fill="#efff10"/><rect x="0" y="183.750" width="28" height="8.156" fill="#ffff00"/><rect x="0" y="176.094" width="28" height="8.156" fill="#ffef00"/><rect x="0" y="168.438" width="28" height="8.156" fill="#ffdf00"/><rect x="0" y="160.781" width="28" height="8.156" fill="#ffcf00"/><rect x="0" y="153.125" width="28" height="8.156" fill="#ffbf00"/><rect x="0" y="145.469" width="28" height="8.156" fill="#ffaf00"/><rect x="0" y="137.812" width="28" height="8.156" fill="#ff9f00"/><rect x="0" y="130.156" width="28" height="8.156" fill="#ff8f00"/><rect x="0" y="122.500" width="28" height="8.156" fill="#ff8000"/><rect x="0" y="114.844" width="28" height="8.156" fill="#ff7000"/><rect x="0" y="107.188" width="28" height="8.156" fill="#ff6000"/><rect x="0" y="99.531" width="28" height="8.156" fill="#ff5000"/><rect x="0" y="91.875" width="28" height="8.156" fill="#ff4000"/><rect x="0" y="84.219" width="28" height="8.156" fill="#ff3000"/><rect x="0" y="76.562" width="28" height="8.156" fill="#ff2000"/><rect x="0" y="68.906" width="28" height="8.156" fill="#ff1000"/><rect x="0" y="61.250" width="28" height="8.156" fill="#ff0000"/><rect x="0" y="53.594" width="28" height="8.156" fill="#ef0000"/><rect x="0" y="45.938" width="28" height="8.156" fill="#df0000"/><rect x="0" y="38.281" width="28" height="8.156" fill="#cf0000"/><rect x="0" y="30.625" width="28" height="8.156" fill="#bf0000"/><rect x="0" y="22.969" width="28" height="8.156" fill="#af0000"/><rect x="0" y="15.312" width="28" height="8.156" fill="#9f0000"/><rect x="0" y="7.656" width="28" height="8.156" fill="#8f0000"/><rect x="0" y="0.000" width="28" height="8.156" fill="#800000"/></svg>
<div class="box" style="left:104px;top:45px;width:550px;height:490px"></div>
<div class="box" style="left:675px;top:45px;width:29px;height:491px"></div>
<div class="xl" style="left:84.0px">0</div>
<div class="xl" style="left:152.6px">3</div>
<div class="tk" style="left:173px;top:529px;width:1px;height:5px"></div>
<div class="tk" style="left:173px;top:46px;width:1px;height:5px"></div>
<div class="xl" style="left:221.2px">6</div>
<div class="tk" style="left:241px;top:529px;width:1px;height:5px"></div>
<div class="tk" style="left:241px;top:46px;width:1px;height:5px"></div>
<div class="xl" style="left:289.9px">9</div>
<div class="tk" style="left:310px;top:529px;width:1px;height:5px"></div>
<div class="tk" style="left:310px;top:46px;width:1px;height:5px"></div>
<div class="xl" style="left:358.5px">12</div>
<div class="tk" style="left:378px;top:529px;width:1px;height:5px"></div>
<div class="tk" style="left:378px;top:46px;width:1px;height:5px"></div>
<div class="xl" style="left:427.1px">15</div>
<div class="tk" style="left:447px;top:529px;width:1px;height:5px"></div>
<div class="tk" style="left:447px;top:46px;width:1px;height:5px"></div>
<div class="xl" style="left:495.8px">18</div>
<div class="tk" style="left:516px;top:529px;width:1px;height:5px"></div>
<div class="tk" style="left:516px;top:46px;width:1px;height:5px"></div>
<div class="xl" style="left:564.4px">21</div>
<div class="tk" style="left:584px;top:529px;width:1px;height:5px"></div>
<div class="tk" style="left:584px;top:46px;width:1px;height:5px"></div>
<div class="xl" style="left:633.0px">24</div>
<div class="yl" style="top:526.0px">0</div>
<div class="yl" style="top:447.8px">20</div>
<div class="tk" style="left:105px;top:456px;width:5px;height:1px"></div>
<div class="tk" style="left:648px;top:456px;width:5px;height:1px"></div>
<div class="yl" style="top:369.5px">40</div>
<div class="tk" style="left:105px;top:378px;width:5px;height:1px"></div>
<div class="tk" style="left:648px;top:378px;width:5px;height:1px"></div>
<div class="yl" style="top:291.3px">60</div>
<div class="tk" style="left:105px;top:299px;width:5px;height:1px"></div>
<div class="tk" style="left:648px;top:299px;width:5px;height:1px"></div>
<div class="yl" style="top:213.0px">80</div>
<div class="tk" style="left:105px;top:221px;width:5px;height:1px"></div>
<div class="tk" style="left:648px;top:221px;width:5px;height:1px"></div>
<div class="yl" style="top:134.8px">100</div>
<div class="tk" style="left:105px;top:143px;width:5px;height:1px"></div>
<div class="tk" style="left:648px;top:143px;width:5px;height:1px"></div>
<div class="yl" style="top:56.6px">120</div>
<div class="tk" style="left:105px;top:65px;width:5px;height:1px"></div>
<div class="tk" style="left:648px;top:65px;width:5px;height:1px"></div>
<div class="cl" style="top:526.5px">-30</div>
<div class="cl" style="top:444.8px">-20</div>
<div class="tk" style="left:676px;top:453px;width:3px;height:1px"></div>
<div class="tk" style="left:700px;top:453px;width:3px;height:1px"></div>
<div class="cl" style="top:363.2px">-10</div>
<div class="tk" style="left:676px;top:372px;width:3px;height:1px"></div>
<div class="tk" style="left:700px;top:372px;width:3px;height:1px"></div>
<div class="cl" style="top:281.5px">0</div>
<div class="tk" style="left:676px;top:290px;width:3px;height:1px"></div>
<div class="tk" style="left:700px;top:290px;width:3px;height:1px"></div>
<div class="cl" style="top:199.8px">10</div>
<div class="tk" style="left:676px;top:208px;width:3px;height:1px"></div>
<div class="tk" style="left:700px;top:208px;width:3px;height:1px"></div>
<div class="cl" style="top:118.2px">20</div>
<div class="tk" style="left:676px;top:127px;width:3px;height:1px"></div>
<div class="tk" style="left:700px;top:127px;width:3px;height:1px"></div>
<div class="cl" style="top:36.5px">30</div>
<div class="ylab"><span>frequency in mHz</span></div>
</body></html>
